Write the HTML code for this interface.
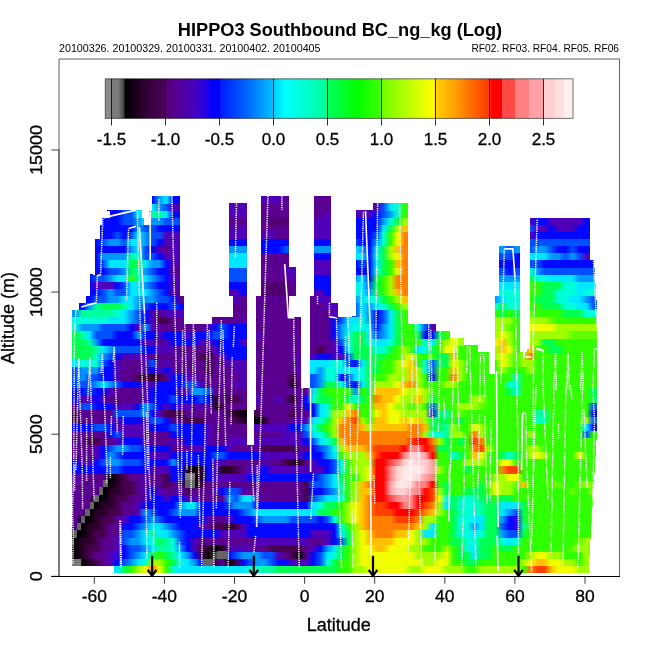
<!DOCTYPE html>
<html><head><meta charset="utf-8"><title>HIPPO3 Southbound BC_ng_kg (Log)</title>
<style>html,body{margin:0;padding:0;background:#fff;width:650px;height:650px;overflow:hidden}svg{display:block}</style>
</head><body><svg width="650" height="650" viewBox="0 0 650 650" font-family='"Liberation Sans", Arial, Helvetica, sans-serif' fill="#000"><style>text{stroke:#000;stroke-width:0.3px} text.t{stroke-width:0}</style><defs><linearGradient id="g0"><stop offset="0.0074" stop-color="#00e8ff"/><stop offset="0.0221" stop-color="#00ff50"/><stop offset="0.0368" stop-color="#30ff00"/><stop offset="0.0515" stop-color="#a0ff00"/><stop offset="0.0662" stop-color="#f0ff00"/><stop offset="0.0809" stop-color="#ff8000"/><stop offset="0.0956" stop-color="#f0ff00"/><stop offset="0.1103" stop-color="#30ff00"/><stop offset="0.1250" stop-color="#00ffd8"/><stop offset="0.1397" stop-color="#00e8ff"/><stop offset="0.1544" stop-color="#00e8ff"/><stop offset="0.1691" stop-color="#00e8ff"/><stop offset="0.1838" stop-color="#00e8ff"/><stop offset="0.1985" stop-color="#00e8ff"/><stop offset="0.2132" stop-color="#00e8ff"/><stop offset="0.2279" stop-color="#00e8ff"/><stop offset="0.2426" stop-color="#00e8ff"/><stop offset="0.2574" stop-color="#00e8ff"/><stop offset="0.2721" stop-color="#00e8ff"/><stop offset="0.2868" stop-color="#00ffd8"/><stop offset="0.3015" stop-color="#00ffd8"/><stop offset="0.3162" stop-color="#00ffa0"/><stop offset="0.3309" stop-color="#00ffa0"/><stop offset="0.3456" stop-color="#00ff50"/><stop offset="0.3603" stop-color="#00ff50"/><stop offset="0.3750" stop-color="#00ff50"/><stop offset="0.3897" stop-color="#00ff50"/><stop offset="0.4044" stop-color="#00ff50"/><stop offset="0.4191" stop-color="#00ff50"/><stop offset="0.4338" stop-color="#00ff50"/><stop offset="0.4485" stop-color="#00ff50"/><stop offset="0.4632" stop-color="#00ff50"/><stop offset="0.4779" stop-color="#30ff00"/><stop offset="0.4926" stop-color="#30ff00"/><stop offset="0.5074" stop-color="#a0ff00"/><stop offset="0.5221" stop-color="#a0ff00"/><stop offset="0.5368" stop-color="#f0ff00"/><stop offset="0.5515" stop-color="#f0ff00"/><stop offset="0.5662" stop-color="#f0ff00"/><stop offset="0.5809" stop-color="#f0ff00"/><stop offset="0.5956" stop-color="#f0ff00"/><stop offset="0.6103" stop-color="#f0ff00"/><stop offset="0.6250" stop-color="#a0ff00"/><stop offset="0.6397" stop-color="#a0ff00"/><stop offset="0.6544" stop-color="#f0ff00"/><stop offset="0.6691" stop-color="#f0ff00"/><stop offset="0.6838" stop-color="#f0ff00"/><stop offset="0.6985" stop-color="#a0ff00"/><stop offset="0.7132" stop-color="#a0ff00"/><stop offset="0.7279" stop-color="#a0ff00"/><stop offset="0.7426" stop-color="#30ff00"/><stop offset="0.7574" stop-color="#30ff00"/><stop offset="0.7721" stop-color="#a0ff00"/><stop offset="0.7868" stop-color="#a0ff00"/><stop offset="0.8015" stop-color="#a0ff00"/><stop offset="0.8162" stop-color="#a0ff00"/><stop offset="0.8309" stop-color="#a0ff00"/><stop offset="0.8456" stop-color="#a0ff00"/><stop offset="0.8603" stop-color="#30ff00"/><stop offset="0.8750" stop-color="#ff8000"/><stop offset="0.8897" stop-color="#ff4000"/><stop offset="0.9044" stop-color="#ff4000"/><stop offset="0.9191" stop-color="#ffc000"/><stop offset="0.9338" stop-color="#f0ff00"/><stop offset="0.9485" stop-color="#f0ff00"/><stop offset="0.9632" stop-color="#f0ff00"/><stop offset="0.9779" stop-color="#a0ff00"/><stop offset="0.9926" stop-color="#a0ff00"/></linearGradient><linearGradient id="g1"><stop offset="0.0067" stop-color="#7b7b7b"/><stop offset="0.0200" stop-color="#050005"/><stop offset="0.0333" stop-color="#2a0028"/><stop offset="0.0467" stop-color="#46004e"/><stop offset="0.0600" stop-color="#5a0090"/><stop offset="0.0733" stop-color="#5000b8"/><stop offset="0.0867" stop-color="#0008ff"/><stop offset="0.1000" stop-color="#0050ff"/><stop offset="0.1133" stop-color="#0098ff"/><stop offset="0.1267" stop-color="#00e8ff"/><stop offset="0.1400" stop-color="#00ffd8"/><stop offset="0.1533" stop-color="#a0ff00"/><stop offset="0.1667" stop-color="#a0ff00"/><stop offset="0.1800" stop-color="#30ff00"/><stop offset="0.1933" stop-color="#00ff50"/><stop offset="0.2067" stop-color="#00ffd8"/><stop offset="0.2200" stop-color="#00e8ff"/><stop offset="0.2333" stop-color="#0098ff"/><stop offset="0.2467" stop-color="#0008ff"/><stop offset="0.2600" stop-color="#7b7b7b"/><stop offset="0.2733" stop-color="#46004e"/><stop offset="0.2867" stop-color="#5a0090"/><stop offset="0.3000" stop-color="#050005"/><stop offset="0.3133" stop-color="#46004e"/><stop offset="0.3267" stop-color="#0008ff"/><stop offset="0.3400" stop-color="#0050ff"/><stop offset="0.3533" stop-color="#0098ff"/><stop offset="0.3667" stop-color="#0098ff"/><stop offset="0.3800" stop-color="#0050ff"/><stop offset="0.3933" stop-color="#0008ff"/><stop offset="0.4067" stop-color="#0008ff"/><stop offset="0.4200" stop-color="#5000b8"/><stop offset="0.4333" stop-color="#5000b8"/><stop offset="0.4467" stop-color="#5000b8"/><stop offset="0.4600" stop-color="#0008ff"/><stop offset="0.4733" stop-color="#0050ff"/><stop offset="0.4867" stop-color="#00ffd8"/><stop offset="0.5000" stop-color="#00ff50"/><stop offset="0.5133" stop-color="#30ff00"/><stop offset="0.5267" stop-color="#30ff00"/><stop offset="0.5400" stop-color="#a0ff00"/><stop offset="0.5533" stop-color="#f0ff00"/><stop offset="0.5667" stop-color="#f0ff00"/><stop offset="0.5800" stop-color="#f0ff00"/><stop offset="0.5933" stop-color="#f0ff00"/><stop offset="0.6067" stop-color="#f0ff00"/><stop offset="0.6200" stop-color="#f0ff00"/><stop offset="0.6333" stop-color="#f0ff00"/><stop offset="0.6467" stop-color="#f0ff00"/><stop offset="0.6600" stop-color="#f0ff00"/><stop offset="0.6733" stop-color="#a0ff00"/><stop offset="0.6867" stop-color="#a0ff00"/><stop offset="0.7000" stop-color="#f0ff00"/><stop offset="0.7133" stop-color="#f0ff00"/><stop offset="0.7267" stop-color="#30ff00"/><stop offset="0.7400" stop-color="#30ff00"/><stop offset="0.7533" stop-color="#00ff50"/><stop offset="0.7667" stop-color="#00ff50"/><stop offset="0.7800" stop-color="#30ff00"/><stop offset="0.7933" stop-color="#30ff00"/><stop offset="0.8067" stop-color="#30ff00"/><stop offset="0.8200" stop-color="#30ff00"/><stop offset="0.8333" stop-color="#30ff00"/><stop offset="0.8467" stop-color="#30ff00"/><stop offset="0.8600" stop-color="#a0ff00"/><stop offset="0.8733" stop-color="#f0ff00"/><stop offset="0.8867" stop-color="#ffc000"/><stop offset="0.9000" stop-color="#ffc000"/><stop offset="0.9133" stop-color="#f0ff00"/><stop offset="0.9267" stop-color="#f0ff00"/><stop offset="0.9400" stop-color="#a0ff00"/><stop offset="0.9533" stop-color="#a0ff00"/><stop offset="0.9667" stop-color="#30ff00"/><stop offset="0.9800" stop-color="#a0ff00"/><stop offset="0.9933" stop-color="#a0ff00"/></linearGradient><linearGradient id="g2"><stop offset="0.0067" stop-color="#050005"/><stop offset="0.0200" stop-color="#2a0028"/><stop offset="0.0333" stop-color="#46004e"/><stop offset="0.0467" stop-color="#5a0090"/><stop offset="0.0600" stop-color="#5a0090"/><stop offset="0.0733" stop-color="#5000b8"/><stop offset="0.0867" stop-color="#3000e8"/><stop offset="0.1000" stop-color="#0008ff"/><stop offset="0.1133" stop-color="#0050ff"/><stop offset="0.1267" stop-color="#0098ff"/><stop offset="0.1400" stop-color="#00e8ff"/><stop offset="0.1533" stop-color="#00ff50"/><stop offset="0.1667" stop-color="#30ff00"/><stop offset="0.1800" stop-color="#00ff50"/><stop offset="0.1933" stop-color="#00ffa0"/><stop offset="0.2067" stop-color="#00e8ff"/><stop offset="0.2200" stop-color="#0098ff"/><stop offset="0.2333" stop-color="#0008ff"/><stop offset="0.2467" stop-color="#46004e"/><stop offset="0.2600" stop-color="#050005"/><stop offset="0.2733" stop-color="#404040"/><stop offset="0.2867" stop-color="#7b7b7b"/><stop offset="0.3000" stop-color="#0008ff"/><stop offset="0.3133" stop-color="#0050ff"/><stop offset="0.3267" stop-color="#0098ff"/><stop offset="0.3400" stop-color="#0098ff"/><stop offset="0.3533" stop-color="#0098ff"/><stop offset="0.3667" stop-color="#0050ff"/><stop offset="0.3800" stop-color="#0050ff"/><stop offset="0.3933" stop-color="#5000b8"/><stop offset="0.4067" stop-color="#5a0090"/><stop offset="0.4200" stop-color="#46004e"/><stop offset="0.4333" stop-color="#050005"/><stop offset="0.4467" stop-color="#5a0090"/><stop offset="0.4600" stop-color="#0008ff"/><stop offset="0.4733" stop-color="#0050ff"/><stop offset="0.4867" stop-color="#00e8ff"/><stop offset="0.5000" stop-color="#00ffd8"/><stop offset="0.5133" stop-color="#00ff50"/><stop offset="0.5267" stop-color="#30ff00"/><stop offset="0.5400" stop-color="#a0ff00"/><stop offset="0.5533" stop-color="#f0ff00"/><stop offset="0.5667" stop-color="#f0ff00"/><stop offset="0.5800" stop-color="#f0ff00"/><stop offset="0.5933" stop-color="#f0ff00"/><stop offset="0.6067" stop-color="#f0ff00"/><stop offset="0.6200" stop-color="#f0ff00"/><stop offset="0.6333" stop-color="#f0ff00"/><stop offset="0.6467" stop-color="#f0ff00"/><stop offset="0.6600" stop-color="#a0ff00"/><stop offset="0.6733" stop-color="#a0ff00"/><stop offset="0.6867" stop-color="#a0ff00"/><stop offset="0.7000" stop-color="#a0ff00"/><stop offset="0.7133" stop-color="#f0ff00"/><stop offset="0.7267" stop-color="#30ff00"/><stop offset="0.7400" stop-color="#00ff50"/><stop offset="0.7533" stop-color="#00ff50"/><stop offset="0.7667" stop-color="#00e8ff"/><stop offset="0.7800" stop-color="#00ff50"/><stop offset="0.7933" stop-color="#00ff50"/><stop offset="0.8067" stop-color="#30ff00"/><stop offset="0.8200" stop-color="#30ff00"/><stop offset="0.8333" stop-color="#30ff00"/><stop offset="0.8467" stop-color="#30ff00"/><stop offset="0.8600" stop-color="#30ff00"/><stop offset="0.8733" stop-color="#a0ff00"/><stop offset="0.8867" stop-color="#f0ff00"/><stop offset="0.9000" stop-color="#f0ff00"/><stop offset="0.9133" stop-color="#a0ff00"/><stop offset="0.9267" stop-color="#a0ff00"/><stop offset="0.9400" stop-color="#30ff00"/><stop offset="0.9533" stop-color="#30ff00"/><stop offset="0.9667" stop-color="#30ff00"/><stop offset="0.9800" stop-color="#a0ff00"/><stop offset="0.9933" stop-color="#a0ff00"/></linearGradient><linearGradient id="g3"><stop offset="0.0067" stop-color="#050005"/><stop offset="0.0200" stop-color="#2a0028"/><stop offset="0.0333" stop-color="#46004e"/><stop offset="0.0467" stop-color="#46004e"/><stop offset="0.0600" stop-color="#5a0090"/><stop offset="0.0733" stop-color="#5a0090"/><stop offset="0.0867" stop-color="#5000b8"/><stop offset="0.1000" stop-color="#0008ff"/><stop offset="0.1133" stop-color="#0050ff"/><stop offset="0.1267" stop-color="#0050ff"/><stop offset="0.1400" stop-color="#0098ff"/><stop offset="0.1533" stop-color="#00e8ff"/><stop offset="0.1667" stop-color="#00ffa0"/><stop offset="0.1800" stop-color="#00ffa0"/><stop offset="0.1933" stop-color="#00ffd8"/><stop offset="0.2067" stop-color="#0098ff"/><stop offset="0.2200" stop-color="#0008ff"/><stop offset="0.2333" stop-color="#5000b8"/><stop offset="0.2467" stop-color="#46004e"/><stop offset="0.2600" stop-color="#2a0028"/><stop offset="0.2733" stop-color="#050005"/><stop offset="0.2867" stop-color="#2a0028"/><stop offset="0.3000" stop-color="#5000b8"/><stop offset="0.3133" stop-color="#5000b8"/><stop offset="0.3267" stop-color="#5000b8"/><stop offset="0.3400" stop-color="#5000b8"/><stop offset="0.3533" stop-color="#5a0090"/><stop offset="0.3667" stop-color="#5a0090"/><stop offset="0.3800" stop-color="#46004e"/><stop offset="0.3933" stop-color="#46004e"/><stop offset="0.4067" stop-color="#46004e"/><stop offset="0.4200" stop-color="#46004e"/><stop offset="0.4333" stop-color="#46004e"/><stop offset="0.4467" stop-color="#5a0090"/><stop offset="0.4600" stop-color="#5000b8"/><stop offset="0.4733" stop-color="#0008ff"/><stop offset="0.4867" stop-color="#0098ff"/><stop offset="0.5000" stop-color="#00e8ff"/><stop offset="0.5133" stop-color="#00ff50"/><stop offset="0.5267" stop-color="#30ff00"/><stop offset="0.5400" stop-color="#a0ff00"/><stop offset="0.5533" stop-color="#f0ff00"/><stop offset="0.5667" stop-color="#f0ff00"/><stop offset="0.5800" stop-color="#ffc000"/><stop offset="0.5933" stop-color="#ffc000"/><stop offset="0.6067" stop-color="#f0ff00"/><stop offset="0.6200" stop-color="#f0ff00"/><stop offset="0.6333" stop-color="#f0ff00"/><stop offset="0.6467" stop-color="#a0ff00"/><stop offset="0.6600" stop-color="#a0ff00"/><stop offset="0.6733" stop-color="#30ff00"/><stop offset="0.6867" stop-color="#30ff00"/><stop offset="0.7000" stop-color="#30ff00"/><stop offset="0.7133" stop-color="#a0ff00"/><stop offset="0.7267" stop-color="#30ff00"/><stop offset="0.7400" stop-color="#00ff50"/><stop offset="0.7533" stop-color="#00ffd8"/><stop offset="0.7667" stop-color="#00e8ff"/><stop offset="0.7800" stop-color="#00ff50"/><stop offset="0.7933" stop-color="#00ff50"/><stop offset="0.8067" stop-color="#30ff00"/><stop offset="0.8200" stop-color="#00ff50"/><stop offset="0.8333" stop-color="#00ff50"/><stop offset="0.8467" stop-color="#30ff00"/><stop offset="0.8600" stop-color="#30ff00"/><stop offset="0.8733" stop-color="#30ff00"/><stop offset="0.8867" stop-color="#30ff00"/><stop offset="0.9000" stop-color="#30ff00"/><stop offset="0.9133" stop-color="#30ff00"/><stop offset="0.9267" stop-color="#30ff00"/><stop offset="0.9400" stop-color="#30ff00"/><stop offset="0.9533" stop-color="#60ff00"/><stop offset="0.9667" stop-color="#a0ff00"/><stop offset="0.9800" stop-color="#a0ff00"/><stop offset="0.9933" stop-color="#a0ff00"/></linearGradient><linearGradient id="g4"><stop offset="0.0067" stop-color="#050005"/><stop offset="0.0200" stop-color="#2a0028"/><stop offset="0.0333" stop-color="#2a0028"/><stop offset="0.0467" stop-color="#46004e"/><stop offset="0.0600" stop-color="#5a0090"/><stop offset="0.0733" stop-color="#5a0090"/><stop offset="0.0867" stop-color="#5000b8"/><stop offset="0.1000" stop-color="#0050ff"/><stop offset="0.1133" stop-color="#0098ff"/><stop offset="0.1267" stop-color="#0098ff"/><stop offset="0.1400" stop-color="#00e8ff"/><stop offset="0.1533" stop-color="#00ffd8"/><stop offset="0.1667" stop-color="#00ff50"/><stop offset="0.1800" stop-color="#00ffa0"/><stop offset="0.1933" stop-color="#00ffd8"/><stop offset="0.2067" stop-color="#0050ff"/><stop offset="0.2200" stop-color="#0008ff"/><stop offset="0.2333" stop-color="#5000b8"/><stop offset="0.2467" stop-color="#5a0090"/><stop offset="0.2600" stop-color="#5a0090"/><stop offset="0.2733" stop-color="#5a0090"/><stop offset="0.2867" stop-color="#5a0090"/><stop offset="0.3000" stop-color="#5a0090"/><stop offset="0.3133" stop-color="#5a0090"/><stop offset="0.3267" stop-color="#5a0090"/><stop offset="0.3400" stop-color="#5a0090"/><stop offset="0.3533" stop-color="#5000b8"/><stop offset="0.3667" stop-color="#5000b8"/><stop offset="0.3800" stop-color="#5000b8"/><stop offset="0.3933" stop-color="#5000b8"/><stop offset="0.4067" stop-color="#5000b8"/><stop offset="0.4200" stop-color="#5000b8"/><stop offset="0.4333" stop-color="#5000b8"/><stop offset="0.4467" stop-color="#5000b8"/><stop offset="0.4600" stop-color="#5a0090"/><stop offset="0.4733" stop-color="#5a0090"/><stop offset="0.4867" stop-color="#5000b8"/><stop offset="0.5000" stop-color="#0008ff"/><stop offset="0.5133" stop-color="#0050ff"/><stop offset="0.5267" stop-color="#00ff50"/><stop offset="0.5400" stop-color="#a0ff00"/><stop offset="0.5533" stop-color="#f0ff00"/><stop offset="0.5667" stop-color="#ffc000"/><stop offset="0.5800" stop-color="#ffc000"/><stop offset="0.5933" stop-color="#ffc000"/><stop offset="0.6067" stop-color="#ffc000"/><stop offset="0.6200" stop-color="#f0ff00"/><stop offset="0.6333" stop-color="#f0ff00"/><stop offset="0.6467" stop-color="#f0ff00"/><stop offset="0.6600" stop-color="#a0ff00"/><stop offset="0.6733" stop-color="#a0ff00"/><stop offset="0.6867" stop-color="#30ff00"/><stop offset="0.7000" stop-color="#30ff00"/><stop offset="0.7133" stop-color="#30ff00"/><stop offset="0.7267" stop-color="#00ff50"/><stop offset="0.7400" stop-color="#00ff50"/><stop offset="0.7533" stop-color="#00ffd8"/><stop offset="0.7667" stop-color="#00ffd8"/><stop offset="0.7800" stop-color="#00ff50"/><stop offset="0.7933" stop-color="#00ff50"/><stop offset="0.8067" stop-color="#00ff50"/><stop offset="0.8200" stop-color="#00ffd8"/><stop offset="0.8333" stop-color="#00e8ff"/><stop offset="0.8467" stop-color="#00ffd8"/><stop offset="0.8600" stop-color="#30ff00"/><stop offset="0.8733" stop-color="#30ff00"/><stop offset="0.8867" stop-color="#30ff00"/><stop offset="0.9000" stop-color="#30ff00"/><stop offset="0.9133" stop-color="#30ff00"/><stop offset="0.9267" stop-color="#30ff00"/><stop offset="0.9400" stop-color="#30ff00"/><stop offset="0.9533" stop-color="#30ff00"/><stop offset="0.9667" stop-color="#60ff00"/><stop offset="0.9800" stop-color="#a0ff00"/><stop offset="0.9933" stop-color="#a0ff00"/></linearGradient><linearGradient id="g5"><stop offset="0.0067" stop-color="#050005"/><stop offset="0.0200" stop-color="#050005"/><stop offset="0.0333" stop-color="#2a0028"/><stop offset="0.0467" stop-color="#46004e"/><stop offset="0.0600" stop-color="#46004e"/><stop offset="0.0733" stop-color="#5a0090"/><stop offset="0.0867" stop-color="#5a0090"/><stop offset="0.1000" stop-color="#0050ff"/><stop offset="0.1133" stop-color="#0050ff"/><stop offset="0.1267" stop-color="#0098ff"/><stop offset="0.1400" stop-color="#00e8ff"/><stop offset="0.1533" stop-color="#00ffa0"/><stop offset="0.1667" stop-color="#00e8ff"/><stop offset="0.1800" stop-color="#00e8ff"/><stop offset="0.1933" stop-color="#0098ff"/><stop offset="0.2067" stop-color="#0050ff"/><stop offset="0.2200" stop-color="#0008ff"/><stop offset="0.2333" stop-color="#0008ff"/><stop offset="0.2467" stop-color="#0008ff"/><stop offset="0.2600" stop-color="#0008ff"/><stop offset="0.2733" stop-color="#0008ff"/><stop offset="0.2867" stop-color="#5000b8"/><stop offset="0.3000" stop-color="#5000b8"/><stop offset="0.3133" stop-color="#5000b8"/><stop offset="0.3267" stop-color="#5000b8"/><stop offset="0.3400" stop-color="#0008ff"/><stop offset="0.3533" stop-color="#0008ff"/><stop offset="0.3667" stop-color="#0008ff"/><stop offset="0.3800" stop-color="#0008ff"/><stop offset="0.3933" stop-color="#0008ff"/><stop offset="0.4067" stop-color="#0008ff"/><stop offset="0.4200" stop-color="#0008ff"/><stop offset="0.4333" stop-color="#0008ff"/><stop offset="0.4467" stop-color="#0008ff"/><stop offset="0.4600" stop-color="#5000b8"/><stop offset="0.4733" stop-color="#5000b8"/><stop offset="0.4867" stop-color="#5000b8"/><stop offset="0.5000" stop-color="#0008ff"/><stop offset="0.5133" stop-color="#00e8ff"/><stop offset="0.5267" stop-color="#00ff50"/><stop offset="0.5400" stop-color="#a0ff00"/><stop offset="0.5533" stop-color="#f0ff00"/><stop offset="0.5667" stop-color="#ffc000"/><stop offset="0.5800" stop-color="#ff8000"/><stop offset="0.5933" stop-color="#ff8000"/><stop offset="0.6067" stop-color="#ff8000"/><stop offset="0.6200" stop-color="#ffc000"/><stop offset="0.6333" stop-color="#ffc000"/><stop offset="0.6467" stop-color="#f0ff00"/><stop offset="0.6600" stop-color="#a0ff00"/><stop offset="0.6733" stop-color="#00e8ff"/><stop offset="0.6867" stop-color="#00e8ff"/><stop offset="0.7000" stop-color="#30ff00"/><stop offset="0.7133" stop-color="#30ff00"/><stop offset="0.7267" stop-color="#00ff50"/><stop offset="0.7400" stop-color="#00ffd8"/><stop offset="0.7533" stop-color="#00ffd8"/><stop offset="0.7667" stop-color="#00e8ff"/><stop offset="0.7800" stop-color="#00ffd8"/><stop offset="0.7933" stop-color="#00ff50"/><stop offset="0.8067" stop-color="#00ff50"/><stop offset="0.8200" stop-color="#0098ff"/><stop offset="0.8333" stop-color="#0050ff"/><stop offset="0.8467" stop-color="#0050ff"/><stop offset="0.8600" stop-color="#00ff50"/><stop offset="0.8733" stop-color="#30ff00"/><stop offset="0.8867" stop-color="#30ff00"/><stop offset="0.9000" stop-color="#30ff00"/><stop offset="0.9133" stop-color="#30ff00"/><stop offset="0.9267" stop-color="#30ff00"/><stop offset="0.9400" stop-color="#30ff00"/><stop offset="0.9533" stop-color="#30ff00"/><stop offset="0.9667" stop-color="#30ff00"/><stop offset="0.9800" stop-color="#30ff00"/><stop offset="0.9933" stop-color="#30ff00"/></linearGradient><linearGradient id="g6"><stop offset="0.0067" stop-color="#5a0090"/><stop offset="0.0200" stop-color="#050005"/><stop offset="0.0333" stop-color="#2a0028"/><stop offset="0.0467" stop-color="#2a0028"/><stop offset="0.0600" stop-color="#46004e"/><stop offset="0.0733" stop-color="#5a0090"/><stop offset="0.0867" stop-color="#5a0090"/><stop offset="0.1000" stop-color="#0008ff"/><stop offset="0.1133" stop-color="#0008ff"/><stop offset="0.1267" stop-color="#0050ff"/><stop offset="0.1400" stop-color="#0098ff"/><stop offset="0.1533" stop-color="#00e8ff"/><stop offset="0.1667" stop-color="#00e8ff"/><stop offset="0.1800" stop-color="#0098ff"/><stop offset="0.1933" stop-color="#0050ff"/><stop offset="0.2067" stop-color="#0008ff"/><stop offset="0.2200" stop-color="#0008ff"/><stop offset="0.2333" stop-color="#0008ff"/><stop offset="0.2467" stop-color="#5000b8"/><stop offset="0.2600" stop-color="#5a0090"/><stop offset="0.2733" stop-color="#46004e"/><stop offset="0.2867" stop-color="#46004e"/><stop offset="0.3000" stop-color="#2a0028"/><stop offset="0.3133" stop-color="#46004e"/><stop offset="0.3267" stop-color="#5000b8"/><stop offset="0.3400" stop-color="#0008ff"/><stop offset="0.3533" stop-color="#0008ff"/><stop offset="0.3667" stop-color="#0008ff"/><stop offset="0.3800" stop-color="#0008ff"/><stop offset="0.3933" stop-color="#0008ff"/><stop offset="0.4067" stop-color="#0008ff"/><stop offset="0.4200" stop-color="#0008ff"/><stop offset="0.4333" stop-color="#0008ff"/><stop offset="0.4467" stop-color="#0008ff"/><stop offset="0.4600" stop-color="#0008ff"/><stop offset="0.4733" stop-color="#0008ff"/><stop offset="0.4867" stop-color="#0008ff"/><stop offset="0.5000" stop-color="#0008ff"/><stop offset="0.5133" stop-color="#00ffd8"/><stop offset="0.5267" stop-color="#30ff00"/><stop offset="0.5400" stop-color="#a0ff00"/><stop offset="0.5533" stop-color="#ffc000"/><stop offset="0.5667" stop-color="#ff8000"/><stop offset="0.5800" stop-color="#ff8000"/><stop offset="0.5933" stop-color="#ff8000"/><stop offset="0.6067" stop-color="#ff8000"/><stop offset="0.6200" stop-color="#ff8000"/><stop offset="0.6333" stop-color="#ff8000"/><stop offset="0.6467" stop-color="#ff8000"/><stop offset="0.6600" stop-color="#ffc000"/><stop offset="0.6733" stop-color="#a0ff00"/><stop offset="0.6867" stop-color="#00e8ff"/><stop offset="0.7000" stop-color="#30ff00"/><stop offset="0.7133" stop-color="#30ff00"/><stop offset="0.7267" stop-color="#00ff50"/><stop offset="0.7400" stop-color="#00ffd8"/><stop offset="0.7533" stop-color="#00ffd8"/><stop offset="0.7667" stop-color="#0098ff"/><stop offset="0.7800" stop-color="#00e8ff"/><stop offset="0.7933" stop-color="#00ff50"/><stop offset="0.8067" stop-color="#00ff50"/><stop offset="0.8200" stop-color="#0050ff"/><stop offset="0.8333" stop-color="#0008ff"/><stop offset="0.8467" stop-color="#3000e8"/><stop offset="0.8600" stop-color="#00ffa0"/><stop offset="0.8733" stop-color="#30ff00"/><stop offset="0.8867" stop-color="#30ff00"/><stop offset="0.9000" stop-color="#30ff00"/><stop offset="0.9133" stop-color="#30ff00"/><stop offset="0.9267" stop-color="#30ff00"/><stop offset="0.9400" stop-color="#30ff00"/><stop offset="0.9533" stop-color="#30ff00"/><stop offset="0.9667" stop-color="#30ff00"/><stop offset="0.9800" stop-color="#30ff00"/><stop offset="0.9933" stop-color="#30ff00"/></linearGradient><linearGradient id="g7"><stop offset="0.0067" stop-color="#5a0090"/><stop offset="0.0200" stop-color="#050005"/><stop offset="0.0333" stop-color="#050005"/><stop offset="0.0467" stop-color="#2a0028"/><stop offset="0.0600" stop-color="#46004e"/><stop offset="0.0733" stop-color="#46004e"/><stop offset="0.0867" stop-color="#5a0090"/><stop offset="0.1000" stop-color="#5000b8"/><stop offset="0.1133" stop-color="#0008ff"/><stop offset="0.1267" stop-color="#0008ff"/><stop offset="0.1400" stop-color="#0050ff"/><stop offset="0.1533" stop-color="#0098ff"/><stop offset="0.1667" stop-color="#0050ff"/><stop offset="0.1800" stop-color="#0008ff"/><stop offset="0.1933" stop-color="#0008ff"/><stop offset="0.2067" stop-color="#0008ff"/><stop offset="0.2200" stop-color="#0008ff"/><stop offset="0.2333" stop-color="#0008ff"/><stop offset="0.2467" stop-color="#0008ff"/><stop offset="0.2600" stop-color="#5000b8"/><stop offset="0.2733" stop-color="#5a0090"/><stop offset="0.2867" stop-color="#5a0090"/><stop offset="0.3000" stop-color="#5000b8"/><stop offset="0.3133" stop-color="#0008ff"/><stop offset="0.3267" stop-color="#0008ff"/><stop offset="0.3400" stop-color="#0008ff"/><stop offset="0.3533" stop-color="#0050ff"/><stop offset="0.3667" stop-color="#0098ff"/><stop offset="0.3800" stop-color="#0098ff"/><stop offset="0.3933" stop-color="#0098ff"/><stop offset="0.4067" stop-color="#0098ff"/><stop offset="0.4200" stop-color="#0050ff"/><stop offset="0.4333" stop-color="#0050ff"/><stop offset="0.4467" stop-color="#0050ff"/><stop offset="0.4600" stop-color="#0050ff"/><stop offset="0.4733" stop-color="#0008ff"/><stop offset="0.4867" stop-color="#0050ff"/><stop offset="0.5000" stop-color="#00ffd8"/><stop offset="0.5133" stop-color="#30ff00"/><stop offset="0.5267" stop-color="#a0ff00"/><stop offset="0.5400" stop-color="#f0ff00"/><stop offset="0.5533" stop-color="#ffc000"/><stop offset="0.5667" stop-color="#ff8000"/><stop offset="0.5800" stop-color="#ff8000"/><stop offset="0.5933" stop-color="#ff8000"/><stop offset="0.6067" stop-color="#ff8000"/><stop offset="0.6200" stop-color="#ff4000"/><stop offset="0.6333" stop-color="#ff4000"/><stop offset="0.6467" stop-color="#ff4000"/><stop offset="0.6600" stop-color="#ff8000"/><stop offset="0.6733" stop-color="#a0ff00"/><stop offset="0.6867" stop-color="#a0ff00"/><stop offset="0.7000" stop-color="#30ff00"/><stop offset="0.7133" stop-color="#30ff00"/><stop offset="0.7267" stop-color="#00ff50"/><stop offset="0.7400" stop-color="#00ffd8"/><stop offset="0.7533" stop-color="#00ffd8"/><stop offset="0.7667" stop-color="#00e8ff"/><stop offset="0.7800" stop-color="#00e8ff"/><stop offset="0.7933" stop-color="#00ff50"/><stop offset="0.8067" stop-color="#00ff50"/><stop offset="0.8200" stop-color="#0098ff"/><stop offset="0.8333" stop-color="#0008ff"/><stop offset="0.8467" stop-color="#3000e8"/><stop offset="0.8600" stop-color="#00ff50"/><stop offset="0.8733" stop-color="#30ff00"/><stop offset="0.8867" stop-color="#30ff00"/><stop offset="0.9000" stop-color="#30ff00"/><stop offset="0.9133" stop-color="#30ff00"/><stop offset="0.9267" stop-color="#30ff00"/><stop offset="0.9400" stop-color="#30ff00"/><stop offset="0.9533" stop-color="#30ff00"/><stop offset="0.9667" stop-color="#30ff00"/><stop offset="0.9800" stop-color="#30ff00"/><stop offset="0.9933" stop-color="#30ff00"/></linearGradient><linearGradient id="g8"><stop offset="0.0067" stop-color="#5a0090"/><stop offset="0.0200" stop-color="#5a0090"/><stop offset="0.0333" stop-color="#050005"/><stop offset="0.0467" stop-color="#2a0028"/><stop offset="0.0600" stop-color="#2a0028"/><stop offset="0.0733" stop-color="#46004e"/><stop offset="0.0867" stop-color="#46004e"/><stop offset="0.1000" stop-color="#5a0090"/><stop offset="0.1133" stop-color="#5a0090"/><stop offset="0.1267" stop-color="#5000b8"/><stop offset="0.1400" stop-color="#0098ff"/><stop offset="0.1533" stop-color="#0050ff"/><stop offset="0.1667" stop-color="#0008ff"/><stop offset="0.1800" stop-color="#0008ff"/><stop offset="0.1933" stop-color="#0050ff"/><stop offset="0.2067" stop-color="#0098ff"/><stop offset="0.2200" stop-color="#0098ff"/><stop offset="0.2333" stop-color="#0098ff"/><stop offset="0.2467" stop-color="#0008ff"/><stop offset="0.2600" stop-color="#0008ff"/><stop offset="0.2733" stop-color="#0008ff"/><stop offset="0.2867" stop-color="#0008ff"/><stop offset="0.3000" stop-color="#0008ff"/><stop offset="0.3133" stop-color="#0008ff"/><stop offset="0.3267" stop-color="#0050ff"/><stop offset="0.3400" stop-color="#0098ff"/><stop offset="0.3533" stop-color="#00e8ff"/><stop offset="0.3667" stop-color="#00e8ff"/><stop offset="0.3800" stop-color="#00e8ff"/><stop offset="0.3933" stop-color="#00e8ff"/><stop offset="0.4067" stop-color="#00e8ff"/><stop offset="0.4200" stop-color="#00e8ff"/><stop offset="0.4333" stop-color="#00e8ff"/><stop offset="0.4467" stop-color="#00e8ff"/><stop offset="0.4600" stop-color="#00e8ff"/><stop offset="0.4733" stop-color="#00ff50"/><stop offset="0.4867" stop-color="#00ff50"/><stop offset="0.5000" stop-color="#30ff00"/><stop offset="0.5133" stop-color="#30ff00"/><stop offset="0.5267" stop-color="#a0ff00"/><stop offset="0.5400" stop-color="#f0ff00"/><stop offset="0.5533" stop-color="#ffc000"/><stop offset="0.5667" stop-color="#ff8000"/><stop offset="0.5800" stop-color="#ff4000"/><stop offset="0.5933" stop-color="#ff4000"/><stop offset="0.6067" stop-color="#ff4000"/><stop offset="0.6200" stop-color="#ff0000"/><stop offset="0.6333" stop-color="#ff0000"/><stop offset="0.6467" stop-color="#ff0000"/><stop offset="0.6600" stop-color="#ff4000"/><stop offset="0.6733" stop-color="#ff8000"/><stop offset="0.6867" stop-color="#ffc000"/><stop offset="0.7000" stop-color="#a0ff00"/><stop offset="0.7133" stop-color="#30ff00"/><stop offset="0.7267" stop-color="#00ff50"/><stop offset="0.7400" stop-color="#00ffa0"/><stop offset="0.7533" stop-color="#00ffd8"/><stop offset="0.7667" stop-color="#00ffd8"/><stop offset="0.7800" stop-color="#00ffa0"/><stop offset="0.7933" stop-color="#00ff50"/><stop offset="0.8067" stop-color="#00ff50"/><stop offset="0.8200" stop-color="#00e8ff"/><stop offset="0.8333" stop-color="#0098ff"/><stop offset="0.8467" stop-color="#0050ff"/><stop offset="0.8600" stop-color="#00ff50"/><stop offset="0.8733" stop-color="#30ff00"/><stop offset="0.8867" stop-color="#30ff00"/><stop offset="0.9000" stop-color="#30ff00"/><stop offset="0.9133" stop-color="#30ff00"/><stop offset="0.9267" stop-color="#30ff00"/><stop offset="0.9400" stop-color="#30ff00"/><stop offset="0.9533" stop-color="#30ff00"/><stop offset="0.9667" stop-color="#30ff00"/><stop offset="0.9800" stop-color="#30ff00"/><stop offset="0.9933" stop-color="#30ff00"/></linearGradient><linearGradient id="g9"><stop offset="0.0067" stop-color="#5a0090"/><stop offset="0.0200" stop-color="#5a0090"/><stop offset="0.0333" stop-color="#5a0090"/><stop offset="0.0467" stop-color="#050005"/><stop offset="0.0600" stop-color="#2a0028"/><stop offset="0.0733" stop-color="#2a0028"/><stop offset="0.0867" stop-color="#46004e"/><stop offset="0.1000" stop-color="#5a0090"/><stop offset="0.1133" stop-color="#5a0090"/><stop offset="0.1267" stop-color="#5000b8"/><stop offset="0.1400" stop-color="#0008ff"/><stop offset="0.1533" stop-color="#0008ff"/><stop offset="0.1667" stop-color="#0008ff"/><stop offset="0.1800" stop-color="#0008ff"/><stop offset="0.1933" stop-color="#0008ff"/><stop offset="0.2067" stop-color="#0098ff"/><stop offset="0.2200" stop-color="#00e8ff"/><stop offset="0.2333" stop-color="#00e8ff"/><stop offset="0.2467" stop-color="#0008ff"/><stop offset="0.2600" stop-color="#0008ff"/><stop offset="0.2733" stop-color="#0008ff"/><stop offset="0.2867" stop-color="#0008ff"/><stop offset="0.3000" stop-color="#0050ff"/><stop offset="0.3133" stop-color="#0098ff"/><stop offset="0.3267" stop-color="#0098ff"/><stop offset="0.3400" stop-color="#0098ff"/><stop offset="0.3533" stop-color="#0008ff"/><stop offset="0.3667" stop-color="#0008ff"/><stop offset="0.3800" stop-color="#0008ff"/><stop offset="0.3933" stop-color="#0008ff"/><stop offset="0.4067" stop-color="#0008ff"/><stop offset="0.4200" stop-color="#0008ff"/><stop offset="0.4333" stop-color="#0008ff"/><stop offset="0.4467" stop-color="#0008ff"/><stop offset="0.4600" stop-color="#00e8ff"/><stop offset="0.4733" stop-color="#00ffd8"/><stop offset="0.4867" stop-color="#00ff50"/><stop offset="0.5000" stop-color="#00ff50"/><stop offset="0.5133" stop-color="#30ff00"/><stop offset="0.5267" stop-color="#a0ff00"/><stop offset="0.5400" stop-color="#f0ff00"/><stop offset="0.5533" stop-color="#ffc000"/><stop offset="0.5667" stop-color="#ff8000"/><stop offset="0.5800" stop-color="#ff4000"/><stop offset="0.5933" stop-color="#ff4000"/><stop offset="0.6067" stop-color="#ff0000"/><stop offset="0.6200" stop-color="#ff0000"/><stop offset="0.6333" stop-color="#ff8080"/><stop offset="0.6467" stop-color="#ff8080"/><stop offset="0.6600" stop-color="#ff0000"/><stop offset="0.6733" stop-color="#ff4000"/><stop offset="0.6867" stop-color="#ff8000"/><stop offset="0.7000" stop-color="#a0ff00"/><stop offset="0.7133" stop-color="#00e8ff"/><stop offset="0.7267" stop-color="#00ff50"/><stop offset="0.7400" stop-color="#00ffd8"/><stop offset="0.7533" stop-color="#00ffd8"/><stop offset="0.7667" stop-color="#00ffd8"/><stop offset="0.7800" stop-color="#00ffa0"/><stop offset="0.7933" stop-color="#00ff50"/><stop offset="0.8067" stop-color="#00ff50"/><stop offset="0.8200" stop-color="#00e8ff"/><stop offset="0.8333" stop-color="#00e8ff"/><stop offset="0.8467" stop-color="#00e8ff"/><stop offset="0.8600" stop-color="#00ff50"/><stop offset="0.8733" stop-color="#30ff00"/><stop offset="0.8867" stop-color="#30ff00"/><stop offset="0.9000" stop-color="#30ff00"/><stop offset="0.9133" stop-color="#30ff00"/><stop offset="0.9267" stop-color="#30ff00"/><stop offset="0.9400" stop-color="#30ff00"/><stop offset="0.9533" stop-color="#30ff00"/><stop offset="0.9667" stop-color="#30ff00"/><stop offset="0.9800" stop-color="#30ff00"/><stop offset="0.9933" stop-color="#30ff00"/></linearGradient><linearGradient id="g10"><stop offset="0.0067" stop-color="#5a0090"/><stop offset="0.0200" stop-color="#5a0090"/><stop offset="0.0333" stop-color="#5a0090"/><stop offset="0.0467" stop-color="#050005"/><stop offset="0.0600" stop-color="#050005"/><stop offset="0.0733" stop-color="#2a0028"/><stop offset="0.0867" stop-color="#46004e"/><stop offset="0.1000" stop-color="#46004e"/><stop offset="0.1133" stop-color="#5a0090"/><stop offset="0.1267" stop-color="#5a0090"/><stop offset="0.1400" stop-color="#5000b8"/><stop offset="0.1533" stop-color="#0008ff"/><stop offset="0.1667" stop-color="#0008ff"/><stop offset="0.1800" stop-color="#5000b8"/><stop offset="0.1933" stop-color="#0008ff"/><stop offset="0.2067" stop-color="#0008ff"/><stop offset="0.2200" stop-color="#5000b8"/><stop offset="0.2333" stop-color="#5000b8"/><stop offset="0.2467" stop-color="#5a0090"/><stop offset="0.2600" stop-color="#5a0090"/><stop offset="0.2733" stop-color="#5a0090"/><stop offset="0.2867" stop-color="#5a0090"/><stop offset="0.3000" stop-color="#0098ff"/><stop offset="0.3133" stop-color="#0050ff"/><stop offset="0.3267" stop-color="#00e8ff"/><stop offset="0.3400" stop-color="#00e8ff"/><stop offset="0.3533" stop-color="#5000b8"/><stop offset="0.3667" stop-color="#5a0090"/><stop offset="0.3800" stop-color="#5a0090"/><stop offset="0.3933" stop-color="#5a0090"/><stop offset="0.4067" stop-color="#5a0090"/><stop offset="0.4200" stop-color="#5a0090"/><stop offset="0.4333" stop-color="#5a0090"/><stop offset="0.4467" stop-color="#46004e"/><stop offset="0.4600" stop-color="#0050ff"/><stop offset="0.4733" stop-color="#0098ff"/><stop offset="0.4867" stop-color="#00e8ff"/><stop offset="0.5000" stop-color="#00e8ff"/><stop offset="0.5133" stop-color="#00ffd8"/><stop offset="0.5267" stop-color="#30ff00"/><stop offset="0.5400" stop-color="#a0ff00"/><stop offset="0.5533" stop-color="#ffc000"/><stop offset="0.5667" stop-color="#ff8000"/><stop offset="0.5800" stop-color="#ff0000"/><stop offset="0.5933" stop-color="#ff0000"/><stop offset="0.6067" stop-color="#ff4848"/><stop offset="0.6200" stop-color="#ff8080"/><stop offset="0.6333" stop-color="#ffa0a8"/><stop offset="0.6467" stop-color="#ff8080"/><stop offset="0.6600" stop-color="#ff0000"/><stop offset="0.6733" stop-color="#ff0000"/><stop offset="0.6867" stop-color="#ff4000"/><stop offset="0.7000" stop-color="#f0ff00"/><stop offset="0.7133" stop-color="#00ffd8"/><stop offset="0.7267" stop-color="#00ff50"/><stop offset="0.7400" stop-color="#00ffa0"/><stop offset="0.7533" stop-color="#00ffd8"/><stop offset="0.7667" stop-color="#00ffa0"/><stop offset="0.7800" stop-color="#00ff50"/><stop offset="0.7933" stop-color="#00ff50"/><stop offset="0.8067" stop-color="#30ff00"/><stop offset="0.8200" stop-color="#00ff50"/><stop offset="0.8333" stop-color="#00ff50"/><stop offset="0.8467" stop-color="#30ff00"/><stop offset="0.8600" stop-color="#30ff00"/><stop offset="0.8733" stop-color="#30ff00"/><stop offset="0.8867" stop-color="#30ff00"/><stop offset="0.9000" stop-color="#30ff00"/><stop offset="0.9133" stop-color="#30ff00"/><stop offset="0.9267" stop-color="#30ff00"/><stop offset="0.9400" stop-color="#30ff00"/><stop offset="0.9533" stop-color="#30ff00"/><stop offset="0.9667" stop-color="#30ff00"/><stop offset="0.9800" stop-color="#30ff00"/><stop offset="0.9933" stop-color="#30ff00"/></linearGradient><linearGradient id="g11"><stop offset="0.0067" stop-color="#5a0090"/><stop offset="0.0200" stop-color="#5a0090"/><stop offset="0.0333" stop-color="#5a0090"/><stop offset="0.0467" stop-color="#5a0090"/><stop offset="0.0600" stop-color="#050005"/><stop offset="0.0733" stop-color="#2a0028"/><stop offset="0.0867" stop-color="#2a0028"/><stop offset="0.1000" stop-color="#46004e"/><stop offset="0.1133" stop-color="#46004e"/><stop offset="0.1267" stop-color="#5a0090"/><stop offset="0.1400" stop-color="#5000b8"/><stop offset="0.1533" stop-color="#0008ff"/><stop offset="0.1667" stop-color="#5000b8"/><stop offset="0.1800" stop-color="#5a0090"/><stop offset="0.1933" stop-color="#5a0090"/><stop offset="0.2067" stop-color="#5000b8"/><stop offset="0.2200" stop-color="#46004e"/><stop offset="0.2333" stop-color="#5a0090"/><stop offset="0.2467" stop-color="#5a0090"/><stop offset="0.2600" stop-color="#5a0090"/><stop offset="0.2733" stop-color="#5000b8"/><stop offset="0.2867" stop-color="#0008ff"/><stop offset="0.3000" stop-color="#0050ff"/><stop offset="0.3133" stop-color="#0050ff"/><stop offset="0.3267" stop-color="#5000b8"/><stop offset="0.3400" stop-color="#5a0090"/><stop offset="0.3533" stop-color="#5a0090"/><stop offset="0.3667" stop-color="#5a0090"/><stop offset="0.3800" stop-color="#5a0090"/><stop offset="0.3933" stop-color="#5a0090"/><stop offset="0.4067" stop-color="#5a0090"/><stop offset="0.4200" stop-color="#5a0090"/><stop offset="0.4333" stop-color="#5a0090"/><stop offset="0.4467" stop-color="#46004e"/><stop offset="0.4600" stop-color="#0008ff"/><stop offset="0.4733" stop-color="#0008ff"/><stop offset="0.4867" stop-color="#0050ff"/><stop offset="0.5000" stop-color="#0098ff"/><stop offset="0.5133" stop-color="#00ffa0"/><stop offset="0.5267" stop-color="#30ff00"/><stop offset="0.5400" stop-color="#a0ff00"/><stop offset="0.5533" stop-color="#ffc000"/><stop offset="0.5667" stop-color="#ffc000"/><stop offset="0.5800" stop-color="#ff0000"/><stop offset="0.5933" stop-color="#ff0000"/><stop offset="0.6067" stop-color="#ffa0a8"/><stop offset="0.6200" stop-color="#ffd0d0"/><stop offset="0.6333" stop-color="#ffd0d0"/><stop offset="0.6467" stop-color="#ffa0a8"/><stop offset="0.6600" stop-color="#ff8080"/><stop offset="0.6733" stop-color="#ff0000"/><stop offset="0.6867" stop-color="#ff4000"/><stop offset="0.7000" stop-color="#a0ff00"/><stop offset="0.7133" stop-color="#00ff50"/><stop offset="0.7267" stop-color="#30ff00"/><stop offset="0.7400" stop-color="#30ff00"/><stop offset="0.7533" stop-color="#00ff50"/><stop offset="0.7667" stop-color="#00ff50"/><stop offset="0.7800" stop-color="#00ff50"/><stop offset="0.7933" stop-color="#30ff00"/><stop offset="0.8067" stop-color="#f0ff00"/><stop offset="0.8200" stop-color="#a0ff00"/><stop offset="0.8333" stop-color="#a0ff00"/><stop offset="0.8467" stop-color="#30ff00"/><stop offset="0.8600" stop-color="#30ff00"/><stop offset="0.8733" stop-color="#30ff00"/><stop offset="0.8867" stop-color="#30ff00"/><stop offset="0.9000" stop-color="#30ff00"/><stop offset="0.9133" stop-color="#30ff00"/><stop offset="0.9267" stop-color="#30ff00"/><stop offset="0.9400" stop-color="#30ff00"/><stop offset="0.9533" stop-color="#60ff00"/><stop offset="0.9667" stop-color="#30ff00"/><stop offset="0.9800" stop-color="#30ff00"/><stop offset="0.9933" stop-color="#a0ff00"/></linearGradient><linearGradient id="g12"><stop offset="0.0067" stop-color="#5a0090"/><stop offset="0.0200" stop-color="#5a0090"/><stop offset="0.0333" stop-color="#5a0090"/><stop offset="0.0467" stop-color="#5a0090"/><stop offset="0.0600" stop-color="#5a0090"/><stop offset="0.0733" stop-color="#050005"/><stop offset="0.0867" stop-color="#2a0028"/><stop offset="0.1000" stop-color="#46004e"/><stop offset="0.1133" stop-color="#46004e"/><stop offset="0.1267" stop-color="#5a0090"/><stop offset="0.1400" stop-color="#5000b8"/><stop offset="0.1533" stop-color="#5a0090"/><stop offset="0.1667" stop-color="#5a0090"/><stop offset="0.1800" stop-color="#46004e"/><stop offset="0.1933" stop-color="#5a0090"/><stop offset="0.2067" stop-color="#5a0090"/><stop offset="0.2200" stop-color="#050005"/><stop offset="0.2333" stop-color="#050005"/><stop offset="0.2467" stop-color="#46004e"/><stop offset="0.2600" stop-color="#5a0090"/><stop offset="0.2733" stop-color="#5a0090"/><stop offset="0.2867" stop-color="#5a0090"/><stop offset="0.3000" stop-color="#5a0090"/><stop offset="0.3133" stop-color="#5a0090"/><stop offset="0.3267" stop-color="#5a0090"/><stop offset="0.3400" stop-color="#5a0090"/><stop offset="0.3533" stop-color="#5a0090"/><stop offset="0.3667" stop-color="#5a0090"/><stop offset="0.3800" stop-color="#5a0090"/><stop offset="0.3933" stop-color="#5a0090"/><stop offset="0.4067" stop-color="#5a0090"/><stop offset="0.4200" stop-color="#5a0090"/><stop offset="0.4333" stop-color="#5a0090"/><stop offset="0.4467" stop-color="#46004e"/><stop offset="0.4600" stop-color="#0050ff"/><stop offset="0.4733" stop-color="#0050ff"/><stop offset="0.4867" stop-color="#0098ff"/><stop offset="0.5000" stop-color="#00e8ff"/><stop offset="0.5133" stop-color="#00ffa0"/><stop offset="0.5267" stop-color="#30ff00"/><stop offset="0.5400" stop-color="#a0ff00"/><stop offset="0.5533" stop-color="#ffc000"/><stop offset="0.5667" stop-color="#ff8000"/><stop offset="0.5800" stop-color="#ff0000"/><stop offset="0.5933" stop-color="#ff0000"/><stop offset="0.6067" stop-color="#ffa0a8"/><stop offset="0.6200" stop-color="#ffe8e8"/><stop offset="0.6333" stop-color="#ffe8e8"/><stop offset="0.6467" stop-color="#ffd0d0"/><stop offset="0.6600" stop-color="#ff8080"/><stop offset="0.6733" stop-color="#ff8080"/><stop offset="0.6867" stop-color="#ff0000"/><stop offset="0.7000" stop-color="#30ff00"/><stop offset="0.7133" stop-color="#00ff50"/><stop offset="0.7267" stop-color="#30ff00"/><stop offset="0.7400" stop-color="#30ff00"/><stop offset="0.7533" stop-color="#30ff00"/><stop offset="0.7667" stop-color="#30ff00"/><stop offset="0.7800" stop-color="#00ff50"/><stop offset="0.7933" stop-color="#60ff00"/><stop offset="0.8067" stop-color="#f0ff00"/><stop offset="0.8200" stop-color="#a0ff00"/><stop offset="0.8333" stop-color="#a0ff00"/><stop offset="0.8467" stop-color="#60ff00"/><stop offset="0.8600" stop-color="#ffc000"/><stop offset="0.8733" stop-color="#30ff00"/><stop offset="0.8867" stop-color="#30ff00"/><stop offset="0.9000" stop-color="#30ff00"/><stop offset="0.9133" stop-color="#60ff00"/><stop offset="0.9267" stop-color="#60ff00"/><stop offset="0.9400" stop-color="#30ff00"/><stop offset="0.9533" stop-color="#30ff00"/><stop offset="0.9667" stop-color="#60ff00"/><stop offset="0.9800" stop-color="#a0ff00"/><stop offset="0.9933" stop-color="#60ff00"/></linearGradient><linearGradient id="g13"><stop offset="0.0067" stop-color="#5000b8"/><stop offset="0.0200" stop-color="#5a0090"/><stop offset="0.0333" stop-color="#5a0090"/><stop offset="0.0467" stop-color="#5a0090"/><stop offset="0.0600" stop-color="#5a0090"/><stop offset="0.0733" stop-color="#050005"/><stop offset="0.0867" stop-color="#2a0028"/><stop offset="0.1000" stop-color="#46004e"/><stop offset="0.1133" stop-color="#5a0090"/><stop offset="0.1267" stop-color="#5a0090"/><stop offset="0.1400" stop-color="#5000b8"/><stop offset="0.1533" stop-color="#5a0090"/><stop offset="0.1667" stop-color="#5a0090"/><stop offset="0.1800" stop-color="#46004e"/><stop offset="0.1933" stop-color="#0008ff"/><stop offset="0.2067" stop-color="#0008ff"/><stop offset="0.2200" stop-color="#050005"/><stop offset="0.2333" stop-color="#050005"/><stop offset="0.2467" stop-color="#2a0028"/><stop offset="0.2600" stop-color="#0008ff"/><stop offset="0.2733" stop-color="#5000b8"/><stop offset="0.2867" stop-color="#5000b8"/><stop offset="0.3000" stop-color="#5000b8"/><stop offset="0.3133" stop-color="#5000b8"/><stop offset="0.3267" stop-color="#5000b8"/><stop offset="0.3400" stop-color="#0008ff"/><stop offset="0.3533" stop-color="#0008ff"/><stop offset="0.3667" stop-color="#0008ff"/><stop offset="0.3800" stop-color="#0008ff"/><stop offset="0.3933" stop-color="#0008ff"/><stop offset="0.4067" stop-color="#0008ff"/><stop offset="0.4200" stop-color="#0008ff"/><stop offset="0.4333" stop-color="#0008ff"/><stop offset="0.4467" stop-color="#0008ff"/><stop offset="0.4600" stop-color="#0008ff"/><stop offset="0.4733" stop-color="#0050ff"/><stop offset="0.4867" stop-color="#0098ff"/><stop offset="0.5000" stop-color="#00e8ff"/><stop offset="0.5133" stop-color="#00ff50"/><stop offset="0.5267" stop-color="#30ff00"/><stop offset="0.5400" stop-color="#30ff00"/><stop offset="0.5533" stop-color="#a0ff00"/><stop offset="0.5667" stop-color="#f0ff00"/><stop offset="0.5800" stop-color="#ff0000"/><stop offset="0.5933" stop-color="#ff0000"/><stop offset="0.6067" stop-color="#ff8080"/><stop offset="0.6200" stop-color="#ffd0d0"/><stop offset="0.6333" stop-color="#ffe8e8"/><stop offset="0.6467" stop-color="#ffe8e8"/><stop offset="0.6600" stop-color="#ffd0d0"/><stop offset="0.6733" stop-color="#ffa0a8"/><stop offset="0.6867" stop-color="#ff8080"/><stop offset="0.7000" stop-color="#30ff00"/><stop offset="0.7133" stop-color="#30ff00"/><stop offset="0.7267" stop-color="#30ff00"/><stop offset="0.7400" stop-color="#30ff00"/><stop offset="0.7533" stop-color="#30ff00"/><stop offset="0.7667" stop-color="#30ff00"/><stop offset="0.7800" stop-color="#30ff00"/><stop offset="0.7933" stop-color="#30ff00"/><stop offset="0.8067" stop-color="#a0ff00"/><stop offset="0.8200" stop-color="#a0ff00"/><stop offset="0.8333" stop-color="#f0ff00"/><stop offset="0.8467" stop-color="#f0ff00"/><stop offset="0.8600" stop-color="#30ff00"/><stop offset="0.8733" stop-color="#30ff00"/><stop offset="0.8867" stop-color="#30ff00"/><stop offset="0.9000" stop-color="#30ff00"/><stop offset="0.9133" stop-color="#30ff00"/><stop offset="0.9267" stop-color="#30ff00"/><stop offset="0.9400" stop-color="#30ff00"/><stop offset="0.9533" stop-color="#30ff00"/><stop offset="0.9667" stop-color="#30ff00"/><stop offset="0.9800" stop-color="#30ff00"/><stop offset="0.9933" stop-color="#30ff00"/></linearGradient><linearGradient id="g14"><stop offset="0.0067" stop-color="#0008ff"/><stop offset="0.0200" stop-color="#0008ff"/><stop offset="0.0333" stop-color="#0008ff"/><stop offset="0.0467" stop-color="#0008ff"/><stop offset="0.0600" stop-color="#0008ff"/><stop offset="0.0733" stop-color="#0050ff"/><stop offset="0.0867" stop-color="#0050ff"/><stop offset="0.1000" stop-color="#0008ff"/><stop offset="0.1133" stop-color="#0008ff"/><stop offset="0.1267" stop-color="#0008ff"/><stop offset="0.1400" stop-color="#0008ff"/><stop offset="0.1533" stop-color="#5000b8"/><stop offset="0.1667" stop-color="#5000b8"/><stop offset="0.1800" stop-color="#5000b8"/><stop offset="0.1933" stop-color="#0008ff"/><stop offset="0.2067" stop-color="#0008ff"/><stop offset="0.2200" stop-color="#2a0028"/><stop offset="0.2333" stop-color="#050005"/><stop offset="0.2467" stop-color="#2a0028"/><stop offset="0.2600" stop-color="#0008ff"/><stop offset="0.2733" stop-color="#5000b8"/><stop offset="0.2867" stop-color="#2a0028"/><stop offset="0.3000" stop-color="#2a0028"/><stop offset="0.3133" stop-color="#46004e"/><stop offset="0.3267" stop-color="#5a0090"/><stop offset="0.3400" stop-color="#5000b8"/><stop offset="0.3533" stop-color="#5000b8"/><stop offset="0.3667" stop-color="#0008ff"/><stop offset="0.3800" stop-color="#5000b8"/><stop offset="0.3933" stop-color="#5000b8"/><stop offset="0.4067" stop-color="#5000b8"/><stop offset="0.4200" stop-color="#5000b8"/><stop offset="0.4333" stop-color="#5000b8"/><stop offset="0.4467" stop-color="#5000b8"/><stop offset="0.4600" stop-color="#5000b8"/><stop offset="0.4733" stop-color="#5000b8"/><stop offset="0.4867" stop-color="#0008ff"/><stop offset="0.5000" stop-color="#0050ff"/><stop offset="0.5133" stop-color="#00ffd8"/><stop offset="0.5267" stop-color="#30ff00"/><stop offset="0.5400" stop-color="#a0ff00"/><stop offset="0.5533" stop-color="#a0ff00"/><stop offset="0.5667" stop-color="#f0ff00"/><stop offset="0.5800" stop-color="#ff0000"/><stop offset="0.5933" stop-color="#ff0000"/><stop offset="0.6067" stop-color="#ff8080"/><stop offset="0.6200" stop-color="#ffd0d0"/><stop offset="0.6333" stop-color="#ffe8e8"/><stop offset="0.6467" stop-color="#ffe8e8"/><stop offset="0.6600" stop-color="#ffe8e8"/><stop offset="0.6733" stop-color="#ffd0d0"/><stop offset="0.6867" stop-color="#ffa0a8"/><stop offset="0.7000" stop-color="#a0ff00"/><stop offset="0.7133" stop-color="#30ff00"/><stop offset="0.7267" stop-color="#30ff00"/><stop offset="0.7400" stop-color="#30ff00"/><stop offset="0.7533" stop-color="#00ff50"/><stop offset="0.7667" stop-color="#30ff00"/><stop offset="0.7800" stop-color="#30ff00"/><stop offset="0.7933" stop-color="#30ff00"/><stop offset="0.8067" stop-color="#30ff00"/><stop offset="0.8200" stop-color="#ff8000"/><stop offset="0.8333" stop-color="#ff4000"/><stop offset="0.8467" stop-color="#ff4000"/><stop offset="0.8600" stop-color="#30ff00"/><stop offset="0.8733" stop-color="#30ff00"/><stop offset="0.8867" stop-color="#30ff00"/><stop offset="0.9000" stop-color="#30ff00"/><stop offset="0.9133" stop-color="#30ff00"/><stop offset="0.9267" stop-color="#30ff00"/><stop offset="0.9400" stop-color="#30ff00"/><stop offset="0.9533" stop-color="#30ff00"/><stop offset="0.9667" stop-color="#30ff00"/><stop offset="0.9800" stop-color="#30ff00"/><stop offset="0.9933" stop-color="#30ff00"/></linearGradient><linearGradient id="g15"><stop offset="0.0067" stop-color="#0008ff"/><stop offset="0.0200" stop-color="#5000b8"/><stop offset="0.0333" stop-color="#5000b8"/><stop offset="0.0467" stop-color="#0008ff"/><stop offset="0.0600" stop-color="#0050ff"/><stop offset="0.0733" stop-color="#0098ff"/><stop offset="0.0867" stop-color="#0098ff"/><stop offset="0.1000" stop-color="#0050ff"/><stop offset="0.1133" stop-color="#0050ff"/><stop offset="0.1267" stop-color="#0050ff"/><stop offset="0.1400" stop-color="#0008ff"/><stop offset="0.1533" stop-color="#0008ff"/><stop offset="0.1667" stop-color="#0008ff"/><stop offset="0.1800" stop-color="#0008ff"/><stop offset="0.1933" stop-color="#0098ff"/><stop offset="0.2067" stop-color="#0008ff"/><stop offset="0.2200" stop-color="#0008ff"/><stop offset="0.2333" stop-color="#0008ff"/><stop offset="0.2467" stop-color="#0008ff"/><stop offset="0.2600" stop-color="#0008ff"/><stop offset="0.2733" stop-color="#5000b8"/><stop offset="0.2867" stop-color="#5000b8"/><stop offset="0.3000" stop-color="#5a0090"/><stop offset="0.3133" stop-color="#5a0090"/><stop offset="0.3267" stop-color="#5a0090"/><stop offset="0.3400" stop-color="#5a0090"/><stop offset="0.3533" stop-color="#5a0090"/><stop offset="0.3667" stop-color="#5000b8"/><stop offset="0.3800" stop-color="#5a0090"/><stop offset="0.3933" stop-color="#5a0090"/><stop offset="0.4067" stop-color="#46004e"/><stop offset="0.4200" stop-color="#2a0028"/><stop offset="0.4333" stop-color="#2a0028"/><stop offset="0.4467" stop-color="#5a0090"/><stop offset="0.4600" stop-color="#5000b8"/><stop offset="0.4733" stop-color="#0008ff"/><stop offset="0.4867" stop-color="#0008ff"/><stop offset="0.5000" stop-color="#0050ff"/><stop offset="0.5133" stop-color="#00ffd8"/><stop offset="0.5267" stop-color="#30ff00"/><stop offset="0.5400" stop-color="#a0ff00"/><stop offset="0.5533" stop-color="#a0ff00"/><stop offset="0.5667" stop-color="#a0ff00"/><stop offset="0.5800" stop-color="#ff0000"/><stop offset="0.5933" stop-color="#ff0000"/><stop offset="0.6067" stop-color="#ff4848"/><stop offset="0.6200" stop-color="#ff8080"/><stop offset="0.6333" stop-color="#ffd0d0"/><stop offset="0.6467" stop-color="#ffe8e8"/><stop offset="0.6600" stop-color="#ffd0d0"/><stop offset="0.6733" stop-color="#ffd0d0"/><stop offset="0.6867" stop-color="#ffa0a8"/><stop offset="0.7000" stop-color="#30ff00"/><stop offset="0.7133" stop-color="#30ff00"/><stop offset="0.7267" stop-color="#30ff00"/><stop offset="0.7400" stop-color="#30ff00"/><stop offset="0.7533" stop-color="#a0ff00"/><stop offset="0.7667" stop-color="#a0ff00"/><stop offset="0.7800" stop-color="#a0ff00"/><stop offset="0.7933" stop-color="#30ff00"/><stop offset="0.8067" stop-color="#30ff00"/><stop offset="0.8200" stop-color="#f0ff00"/><stop offset="0.8333" stop-color="#f0ff00"/><stop offset="0.8467" stop-color="#30ff00"/><stop offset="0.8600" stop-color="#30ff00"/><stop offset="0.8733" stop-color="#30ff00"/><stop offset="0.8867" stop-color="#30ff00"/><stop offset="0.9000" stop-color="#30ff00"/><stop offset="0.9133" stop-color="#30ff00"/><stop offset="0.9267" stop-color="#30ff00"/><stop offset="0.9400" stop-color="#30ff00"/><stop offset="0.9533" stop-color="#30ff00"/><stop offset="0.9667" stop-color="#30ff00"/><stop offset="0.9800" stop-color="#30ff00"/><stop offset="0.9933" stop-color="#30ff00"/></linearGradient><linearGradient id="g16"><stop offset="0.0067" stop-color="#5a0090"/><stop offset="0.0200" stop-color="#5a0090"/><stop offset="0.0333" stop-color="#5a0090"/><stop offset="0.0467" stop-color="#5000b8"/><stop offset="0.0600" stop-color="#0008ff"/><stop offset="0.0733" stop-color="#0098ff"/><stop offset="0.0867" stop-color="#0050ff"/><stop offset="0.1000" stop-color="#0008ff"/><stop offset="0.1133" stop-color="#0008ff"/><stop offset="0.1267" stop-color="#0008ff"/><stop offset="0.1400" stop-color="#0008ff"/><stop offset="0.1533" stop-color="#5000b8"/><stop offset="0.1667" stop-color="#5000b8"/><stop offset="0.1800" stop-color="#5000b8"/><stop offset="0.1933" stop-color="#0008ff"/><stop offset="0.2067" stop-color="#0008ff"/><stop offset="0.2200" stop-color="#0008ff"/><stop offset="0.2333" stop-color="#0008ff"/><stop offset="0.2467" stop-color="#0008ff"/><stop offset="0.2600" stop-color="#0008ff"/><stop offset="0.2733" stop-color="#0050ff"/><stop offset="0.2867" stop-color="#0050ff"/><stop offset="0.3000" stop-color="#0008ff"/><stop offset="0.3133" stop-color="#0008ff"/><stop offset="0.3267" stop-color="#0008ff"/><stop offset="0.3400" stop-color="#0008ff"/><stop offset="0.3533" stop-color="#0008ff"/><stop offset="0.3667" stop-color="#5000b8"/><stop offset="0.3800" stop-color="#5000b8"/><stop offset="0.3933" stop-color="#5000b8"/><stop offset="0.4067" stop-color="#5000b8"/><stop offset="0.4200" stop-color="#5000b8"/><stop offset="0.4333" stop-color="#5000b8"/><stop offset="0.4467" stop-color="#0008ff"/><stop offset="0.4600" stop-color="#0008ff"/><stop offset="0.4733" stop-color="#0008ff"/><stop offset="0.4867" stop-color="#0098ff"/><stop offset="0.5000" stop-color="#00e8ff"/><stop offset="0.5133" stop-color="#30ff00"/><stop offset="0.5267" stop-color="#a0ff00"/><stop offset="0.5400" stop-color="#a0ff00"/><stop offset="0.5533" stop-color="#a0ff00"/><stop offset="0.5667" stop-color="#ffc000"/><stop offset="0.5800" stop-color="#ff4000"/><stop offset="0.5933" stop-color="#ff0000"/><stop offset="0.6067" stop-color="#ff0000"/><stop offset="0.6200" stop-color="#ff0000"/><stop offset="0.6333" stop-color="#ff8080"/><stop offset="0.6467" stop-color="#ffd0d0"/><stop offset="0.6600" stop-color="#ffd0d0"/><stop offset="0.6733" stop-color="#ffa0a8"/><stop offset="0.6867" stop-color="#ff0000"/><stop offset="0.7000" stop-color="#30ff00"/><stop offset="0.7133" stop-color="#30ff00"/><stop offset="0.7267" stop-color="#00ffd8"/><stop offset="0.7400" stop-color="#00ff50"/><stop offset="0.7533" stop-color="#30ff00"/><stop offset="0.7667" stop-color="#ffc000"/><stop offset="0.7800" stop-color="#f0ff00"/><stop offset="0.7933" stop-color="#30ff00"/><stop offset="0.8067" stop-color="#30ff00"/><stop offset="0.8200" stop-color="#00ff50"/><stop offset="0.8333" stop-color="#00ffd8"/><stop offset="0.8467" stop-color="#00ff50"/><stop offset="0.8600" stop-color="#30ff00"/><stop offset="0.8733" stop-color="#a0ff00"/><stop offset="0.8867" stop-color="#f0ff00"/><stop offset="0.9000" stop-color="#a0ff00"/><stop offset="0.9133" stop-color="#30ff00"/><stop offset="0.9267" stop-color="#30ff00"/><stop offset="0.9400" stop-color="#30ff00"/><stop offset="0.9533" stop-color="#30ff00"/><stop offset="0.9667" stop-color="#f0ff00"/><stop offset="0.9800" stop-color="#30ff00"/><stop offset="0.9933" stop-color="#30ff00"/></linearGradient><linearGradient id="g17"><stop offset="0.0067" stop-color="#5a0090"/><stop offset="0.0200" stop-color="#5a0090"/><stop offset="0.0333" stop-color="#5a0090"/><stop offset="0.0467" stop-color="#5000b8"/><stop offset="0.0600" stop-color="#0008ff"/><stop offset="0.0733" stop-color="#0050ff"/><stop offset="0.0867" stop-color="#0098ff"/><stop offset="0.1000" stop-color="#0098ff"/><stop offset="0.1133" stop-color="#0050ff"/><stop offset="0.1267" stop-color="#0050ff"/><stop offset="0.1400" stop-color="#0008ff"/><stop offset="0.1533" stop-color="#0008ff"/><stop offset="0.1667" stop-color="#0008ff"/><stop offset="0.1800" stop-color="#0008ff"/><stop offset="0.1933" stop-color="#5a0090"/><stop offset="0.2067" stop-color="#5a0090"/><stop offset="0.2200" stop-color="#5a0090"/><stop offset="0.2333" stop-color="#5000b8"/><stop offset="0.2467" stop-color="#5000b8"/><stop offset="0.2600" stop-color="#0008ff"/><stop offset="0.2733" stop-color="#0008ff"/><stop offset="0.2867" stop-color="#0008ff"/><stop offset="0.3000" stop-color="#5000b8"/><stop offset="0.3133" stop-color="#5a0090"/><stop offset="0.3267" stop-color="#5a0090"/><stop offset="0.3400" stop-color="#5a0090"/><stop offset="0.3533" stop-color="#5a0090"/><stop offset="0.3667" stop-color="#46004e"/><stop offset="0.3800" stop-color="#46004e"/><stop offset="0.3933" stop-color="#46004e"/><stop offset="0.4067" stop-color="#46004e"/><stop offset="0.4200" stop-color="#46004e"/><stop offset="0.4333" stop-color="#5a0090"/><stop offset="0.4467" stop-color="#5a0090"/><stop offset="0.4600" stop-color="#0008ff"/><stop offset="0.4733" stop-color="#0050ff"/><stop offset="0.4867" stop-color="#0098ff"/><stop offset="0.5000" stop-color="#00ffd8"/><stop offset="0.5133" stop-color="#a0ff00"/><stop offset="0.5267" stop-color="#ffc000"/><stop offset="0.5400" stop-color="#ffc000"/><stop offset="0.5533" stop-color="#ffc000"/><stop offset="0.5667" stop-color="#ff8000"/><stop offset="0.5800" stop-color="#ff4000"/><stop offset="0.5933" stop-color="#ff4000"/><stop offset="0.6067" stop-color="#ff4000"/><stop offset="0.6200" stop-color="#ff4000"/><stop offset="0.6333" stop-color="#ff0000"/><stop offset="0.6467" stop-color="#ff8080"/><stop offset="0.6600" stop-color="#ff8080"/><stop offset="0.6733" stop-color="#ff0000"/><stop offset="0.6867" stop-color="#ff4000"/><stop offset="0.7000" stop-color="#00ff50"/><stop offset="0.7133" stop-color="#00ff50"/><stop offset="0.7267" stop-color="#30ff00"/><stop offset="0.7400" stop-color="#30ff00"/><stop offset="0.7533" stop-color="#30ff00"/><stop offset="0.7667" stop-color="#ff8000"/><stop offset="0.7800" stop-color="#ff4000"/><stop offset="0.7933" stop-color="#a0ff00"/><stop offset="0.8067" stop-color="#30ff00"/><stop offset="0.8200" stop-color="#30ff00"/><stop offset="0.8333" stop-color="#30ff00"/><stop offset="0.8467" stop-color="#30ff00"/><stop offset="0.8600" stop-color="#30ff00"/><stop offset="0.8733" stop-color="#a0ff00"/><stop offset="0.8867" stop-color="#a0ff00"/><stop offset="0.9000" stop-color="#30ff00"/><stop offset="0.9133" stop-color="#30ff00"/><stop offset="0.9267" stop-color="#30ff00"/><stop offset="0.9400" stop-color="#30ff00"/><stop offset="0.9533" stop-color="#30ff00"/><stop offset="0.9667" stop-color="#30ff00"/><stop offset="0.9800" stop-color="#30ff00"/><stop offset="0.9933" stop-color="#30ff00"/></linearGradient><linearGradient id="g18"><stop offset="0.0200" stop-color="#5a0090"/><stop offset="0.0600" stop-color="#5a0090"/><stop offset="0.1000" stop-color="#46004e"/><stop offset="0.1400" stop-color="#46004e"/><stop offset="0.1800" stop-color="#5a0090"/><stop offset="0.2200" stop-color="#5a0090"/><stop offset="0.2600" stop-color="#5000b8"/><stop offset="0.3000" stop-color="#0008ff"/><stop offset="0.3400" stop-color="#0008ff"/><stop offset="0.3800" stop-color="#0008ff"/><stop offset="0.4200" stop-color="#5000b8"/><stop offset="0.4600" stop-color="#5a0090"/><stop offset="0.5000" stop-color="#5a0090"/><stop offset="0.5400" stop-color="#5a0090"/><stop offset="0.5800" stop-color="#5000b8"/><stop offset="0.6200" stop-color="#5000b8"/><stop offset="0.6600" stop-color="#0008ff"/><stop offset="0.7000" stop-color="#0008ff"/><stop offset="0.7400" stop-color="#0008ff"/><stop offset="0.7800" stop-color="#5000b8"/><stop offset="0.8200" stop-color="#5a0090"/><stop offset="0.8600" stop-color="#5a0090"/><stop offset="0.9000" stop-color="#5000b8"/><stop offset="0.9400" stop-color="#5000b8"/><stop offset="0.9800" stop-color="#5000b8"/></linearGradient><linearGradient id="g19"><stop offset="0.0102" stop-color="#5000b8"/><stop offset="0.0306" stop-color="#5000b8"/><stop offset="0.0510" stop-color="#5000b8"/><stop offset="0.0714" stop-color="#5000b8"/><stop offset="0.0918" stop-color="#5000b8"/><stop offset="0.1122" stop-color="#5000b8"/><stop offset="0.1327" stop-color="#5000b8"/><stop offset="0.1531" stop-color="#0008ff"/><stop offset="0.1735" stop-color="#0050ff"/><stop offset="0.1939" stop-color="#00e8ff"/><stop offset="0.2143" stop-color="#00ffd8"/><stop offset="0.2347" stop-color="#00ff50"/><stop offset="0.2551" stop-color="#ffc000"/><stop offset="0.2755" stop-color="#ff8000"/><stop offset="0.2959" stop-color="#ff8000"/><stop offset="0.3163" stop-color="#ff8000"/><stop offset="0.3367" stop-color="#ff8000"/><stop offset="0.3571" stop-color="#ff8000"/><stop offset="0.3776" stop-color="#ff8000"/><stop offset="0.3980" stop-color="#ff8000"/><stop offset="0.4184" stop-color="#ff8000"/><stop offset="0.4388" stop-color="#ff8000"/><stop offset="0.4592" stop-color="#ff4000"/><stop offset="0.4796" stop-color="#ff0000"/><stop offset="0.5000" stop-color="#ff0000"/><stop offset="0.5204" stop-color="#ff8000"/><stop offset="0.5408" stop-color="#a0ff00"/><stop offset="0.5612" stop-color="#00ff50"/><stop offset="0.5816" stop-color="#30ff00"/><stop offset="0.6020" stop-color="#00ff50"/><stop offset="0.6224" stop-color="#30ff00"/><stop offset="0.6429" stop-color="#ff4000"/><stop offset="0.6633" stop-color="#ff8000"/><stop offset="0.6837" stop-color="#30ff00"/><stop offset="0.7041" stop-color="#30ff00"/><stop offset="0.7245" stop-color="#30ff00"/><stop offset="0.7449" stop-color="#30ff00"/><stop offset="0.7653" stop-color="#30ff00"/><stop offset="0.7857" stop-color="#30ff00"/><stop offset="0.8061" stop-color="#30ff00"/><stop offset="0.8265" stop-color="#30ff00"/><stop offset="0.8469" stop-color="#30ff00"/><stop offset="0.8673" stop-color="#30ff00"/><stop offset="0.8878" stop-color="#30ff00"/><stop offset="0.9082" stop-color="#30ff00"/><stop offset="0.9286" stop-color="#30ff00"/><stop offset="0.9490" stop-color="#30ff00"/><stop offset="0.9694" stop-color="#30ff00"/><stop offset="0.9898" stop-color="#30ff00"/></linearGradient><linearGradient id="g20"><stop offset="0.0200" stop-color="#5a0090"/><stop offset="0.0600" stop-color="#5a0090"/><stop offset="0.1000" stop-color="#5a0090"/><stop offset="0.1400" stop-color="#5a0090"/><stop offset="0.1800" stop-color="#5a0090"/><stop offset="0.2200" stop-color="#0008ff"/><stop offset="0.2600" stop-color="#0050ff"/><stop offset="0.3000" stop-color="#5000b8"/><stop offset="0.3400" stop-color="#5000b8"/><stop offset="0.3800" stop-color="#5000b8"/><stop offset="0.4200" stop-color="#5a0090"/><stop offset="0.4600" stop-color="#5a0090"/><stop offset="0.5000" stop-color="#5a0090"/><stop offset="0.5400" stop-color="#5a0090"/><stop offset="0.5800" stop-color="#0008ff"/><stop offset="0.6200" stop-color="#0008ff"/><stop offset="0.6600" stop-color="#0008ff"/><stop offset="0.7000" stop-color="#0008ff"/><stop offset="0.7400" stop-color="#0008ff"/><stop offset="0.7800" stop-color="#5000b8"/><stop offset="0.8200" stop-color="#5a0090"/><stop offset="0.8600" stop-color="#5a0090"/><stop offset="0.9000" stop-color="#5a0090"/><stop offset="0.9400" stop-color="#5a0090"/><stop offset="0.9800" stop-color="#5a0090"/></linearGradient><linearGradient id="g21"><stop offset="0.0102" stop-color="#5a0090"/><stop offset="0.0306" stop-color="#5a0090"/><stop offset="0.0510" stop-color="#5a0090"/><stop offset="0.0714" stop-color="#5a0090"/><stop offset="0.0918" stop-color="#5000b8"/><stop offset="0.1122" stop-color="#5000b8"/><stop offset="0.1327" stop-color="#5000b8"/><stop offset="0.1531" stop-color="#0050ff"/><stop offset="0.1735" stop-color="#00e8ff"/><stop offset="0.1939" stop-color="#00ffd8"/><stop offset="0.2143" stop-color="#00ff50"/><stop offset="0.2347" stop-color="#a0ff00"/><stop offset="0.2551" stop-color="#ff8000"/><stop offset="0.2755" stop-color="#ff8000"/><stop offset="0.2959" stop-color="#ff8000"/><stop offset="0.3163" stop-color="#ff8000"/><stop offset="0.3367" stop-color="#ff8000"/><stop offset="0.3571" stop-color="#ff8000"/><stop offset="0.3776" stop-color="#ff8000"/><stop offset="0.3980" stop-color="#ff8000"/><stop offset="0.4184" stop-color="#ff8000"/><stop offset="0.4388" stop-color="#ff8000"/><stop offset="0.4592" stop-color="#ff8000"/><stop offset="0.4796" stop-color="#ff8000"/><stop offset="0.5000" stop-color="#a0ff00"/><stop offset="0.5204" stop-color="#00ffd8"/><stop offset="0.5408" stop-color="#00ffd8"/><stop offset="0.5612" stop-color="#00ffa0"/><stop offset="0.5816" stop-color="#a0ff00"/><stop offset="0.6020" stop-color="#a0ff00"/><stop offset="0.6224" stop-color="#30ff00"/><stop offset="0.6429" stop-color="#ff8000"/><stop offset="0.6633" stop-color="#a0ff00"/><stop offset="0.6837" stop-color="#30ff00"/><stop offset="0.7041" stop-color="#30ff00"/><stop offset="0.7245" stop-color="#30ff00"/><stop offset="0.7449" stop-color="#30ff00"/><stop offset="0.7653" stop-color="#30ff00"/><stop offset="0.7857" stop-color="#30ff00"/><stop offset="0.8061" stop-color="#a0ff00"/><stop offset="0.8265" stop-color="#30ff00"/><stop offset="0.8469" stop-color="#30ff00"/><stop offset="0.8673" stop-color="#30ff00"/><stop offset="0.8878" stop-color="#30ff00"/><stop offset="0.9082" stop-color="#30ff00"/><stop offset="0.9286" stop-color="#30ff00"/><stop offset="0.9490" stop-color="#30ff00"/><stop offset="0.9694" stop-color="#0050ff"/><stop offset="0.9898" stop-color="#30ff00"/></linearGradient><linearGradient id="g22"><stop offset="0.0200" stop-color="#0008ff"/><stop offset="0.0600" stop-color="#0008ff"/><stop offset="0.1000" stop-color="#0008ff"/><stop offset="0.1400" stop-color="#0050ff"/><stop offset="0.1800" stop-color="#0050ff"/><stop offset="0.2200" stop-color="#0008ff"/><stop offset="0.2600" stop-color="#5000b8"/><stop offset="0.3000" stop-color="#5000b8"/><stop offset="0.3400" stop-color="#5000b8"/><stop offset="0.3800" stop-color="#5000b8"/><stop offset="0.4200" stop-color="#5000b8"/><stop offset="0.4600" stop-color="#0008ff"/><stop offset="0.5000" stop-color="#0008ff"/><stop offset="0.5400" stop-color="#0008ff"/><stop offset="0.5800" stop-color="#0050ff"/><stop offset="0.6200" stop-color="#0008ff"/><stop offset="0.6600" stop-color="#0008ff"/><stop offset="0.7000" stop-color="#0008ff"/><stop offset="0.7400" stop-color="#0008ff"/><stop offset="0.7800" stop-color="#5000b8"/><stop offset="0.8200" stop-color="#5a0090"/><stop offset="0.8600" stop-color="#5a0090"/><stop offset="0.9000" stop-color="#5a0090"/><stop offset="0.9400" stop-color="#5a0090"/><stop offset="0.9800" stop-color="#5a0090"/></linearGradient><linearGradient id="g23"><stop offset="0.0102" stop-color="#5000b8"/><stop offset="0.0306" stop-color="#5000b8"/><stop offset="0.0510" stop-color="#5000b8"/><stop offset="0.0714" stop-color="#5000b8"/><stop offset="0.0918" stop-color="#5000b8"/><stop offset="0.1122" stop-color="#0008ff"/><stop offset="0.1327" stop-color="#0008ff"/><stop offset="0.1531" stop-color="#0098ff"/><stop offset="0.1735" stop-color="#00ffd8"/><stop offset="0.1939" stop-color="#00ff50"/><stop offset="0.2143" stop-color="#30ff00"/><stop offset="0.2347" stop-color="#a0ff00"/><stop offset="0.2551" stop-color="#ff8000"/><stop offset="0.2755" stop-color="#ff8000"/><stop offset="0.2959" stop-color="#ff8000"/><stop offset="0.3163" stop-color="#ffc000"/><stop offset="0.3367" stop-color="#a0ff00"/><stop offset="0.3571" stop-color="#ffc000"/><stop offset="0.3776" stop-color="#ffc000"/><stop offset="0.3980" stop-color="#ffc000"/><stop offset="0.4184" stop-color="#ffc000"/><stop offset="0.4388" stop-color="#ffc000"/><stop offset="0.4592" stop-color="#ff8000"/><stop offset="0.4796" stop-color="#ff8000"/><stop offset="0.5000" stop-color="#ffc000"/><stop offset="0.5204" stop-color="#00ff50"/><stop offset="0.5408" stop-color="#00ff50"/><stop offset="0.5612" stop-color="#00ffa0"/><stop offset="0.5816" stop-color="#a0ff00"/><stop offset="0.6020" stop-color="#30ff00"/><stop offset="0.6224" stop-color="#30ff00"/><stop offset="0.6429" stop-color="#f0ff00"/><stop offset="0.6633" stop-color="#a0ff00"/><stop offset="0.6837" stop-color="#30ff00"/><stop offset="0.7041" stop-color="#30ff00"/><stop offset="0.7245" stop-color="#30ff00"/><stop offset="0.7449" stop-color="#30ff00"/><stop offset="0.7653" stop-color="#30ff00"/><stop offset="0.7857" stop-color="#30ff00"/><stop offset="0.8061" stop-color="#30ff00"/><stop offset="0.8265" stop-color="#30ff00"/><stop offset="0.8469" stop-color="#30ff00"/><stop offset="0.8673" stop-color="#30ff00"/><stop offset="0.8878" stop-color="#30ff00"/><stop offset="0.9082" stop-color="#30ff00"/><stop offset="0.9286" stop-color="#30ff00"/><stop offset="0.9490" stop-color="#30ff00"/><stop offset="0.9694" stop-color="#00e8ff"/><stop offset="0.9898" stop-color="#0008ff"/></linearGradient><linearGradient id="g24"><stop offset="0.0200" stop-color="#46004e"/><stop offset="0.0600" stop-color="#5a0090"/><stop offset="0.1000" stop-color="#5a0090"/><stop offset="0.1400" stop-color="#5a0090"/><stop offset="0.1800" stop-color="#5a0090"/><stop offset="0.2200" stop-color="#5000b8"/><stop offset="0.2600" stop-color="#5000b8"/><stop offset="0.3000" stop-color="#0008ff"/><stop offset="0.3400" stop-color="#0008ff"/><stop offset="0.3800" stop-color="#0008ff"/><stop offset="0.4200" stop-color="#5000b8"/><stop offset="0.4600" stop-color="#0050ff"/><stop offset="0.5000" stop-color="#0050ff"/><stop offset="0.5400" stop-color="#0008ff"/><stop offset="0.5800" stop-color="#5a0090"/><stop offset="0.6200" stop-color="#5a0090"/><stop offset="0.6600" stop-color="#46004e"/><stop offset="0.7000" stop-color="#46004e"/><stop offset="0.7400" stop-color="#46004e"/><stop offset="0.7800" stop-color="#5a0090"/><stop offset="0.8200" stop-color="#5a0090"/><stop offset="0.8600" stop-color="#5a0090"/><stop offset="0.9000" stop-color="#5a0090"/><stop offset="0.9400" stop-color="#46004e"/><stop offset="0.9800" stop-color="#2a0028"/></linearGradient><linearGradient id="g25"><stop offset="0.0102" stop-color="#050005"/><stop offset="0.0306" stop-color="#2a0028"/><stop offset="0.0510" stop-color="#5a0090"/><stop offset="0.0714" stop-color="#5a0090"/><stop offset="0.0918" stop-color="#5a0090"/><stop offset="0.1122" stop-color="#5a0090"/><stop offset="0.1327" stop-color="#5000b8"/><stop offset="0.1531" stop-color="#5000b8"/><stop offset="0.1735" stop-color="#00e8ff"/><stop offset="0.1939" stop-color="#00ffd8"/><stop offset="0.2143" stop-color="#00ff50"/><stop offset="0.2347" stop-color="#a0ff00"/><stop offset="0.2551" stop-color="#ffc000"/><stop offset="0.2755" stop-color="#ff8000"/><stop offset="0.2959" stop-color="#ff4000"/><stop offset="0.3163" stop-color="#a0ff00"/><stop offset="0.3367" stop-color="#30ff00"/><stop offset="0.3571" stop-color="#ffc000"/><stop offset="0.3776" stop-color="#ffc000"/><stop offset="0.3980" stop-color="#f0ff00"/><stop offset="0.4184" stop-color="#f0ff00"/><stop offset="0.4388" stop-color="#ffc000"/><stop offset="0.4592" stop-color="#f0ff00"/><stop offset="0.4796" stop-color="#ffc000"/><stop offset="0.5000" stop-color="#a0ff00"/><stop offset="0.5204" stop-color="#00ff50"/><stop offset="0.5408" stop-color="#00ff50"/><stop offset="0.5612" stop-color="#00ff50"/><stop offset="0.5816" stop-color="#30ff00"/><stop offset="0.6020" stop-color="#00ff50"/><stop offset="0.6224" stop-color="#30ff00"/><stop offset="0.6429" stop-color="#30ff00"/><stop offset="0.6633" stop-color="#30ff00"/><stop offset="0.6837" stop-color="#30ff00"/><stop offset="0.7041" stop-color="#30ff00"/><stop offset="0.7245" stop-color="#30ff00"/><stop offset="0.7449" stop-color="#30ff00"/><stop offset="0.7653" stop-color="#30ff00"/><stop offset="0.7857" stop-color="#30ff00"/><stop offset="0.8061" stop-color="#30ff00"/><stop offset="0.8265" stop-color="#00ffd8"/><stop offset="0.8469" stop-color="#00ffa0"/><stop offset="0.8673" stop-color="#30ff00"/><stop offset="0.8878" stop-color="#30ff00"/><stop offset="0.9082" stop-color="#30ff00"/><stop offset="0.9286" stop-color="#30ff00"/><stop offset="0.9490" stop-color="#30ff00"/><stop offset="0.9694" stop-color="#a0ff00"/><stop offset="0.9898" stop-color="#0050ff"/></linearGradient><linearGradient id="g26"><stop offset="0.0200" stop-color="#46004e"/><stop offset="0.0600" stop-color="#5a0090"/><stop offset="0.1000" stop-color="#5a0090"/><stop offset="0.1400" stop-color="#5a0090"/><stop offset="0.1800" stop-color="#5a0090"/><stop offset="0.2200" stop-color="#5a0090"/><stop offset="0.2600" stop-color="#0050ff"/><stop offset="0.3000" stop-color="#0050ff"/><stop offset="0.3400" stop-color="#0050ff"/><stop offset="0.3800" stop-color="#0050ff"/><stop offset="0.4200" stop-color="#0098ff"/><stop offset="0.4600" stop-color="#0008ff"/><stop offset="0.5000" stop-color="#5000b8"/><stop offset="0.5400" stop-color="#46004e"/><stop offset="0.5800" stop-color="#46004e"/><stop offset="0.6200" stop-color="#46004e"/><stop offset="0.6600" stop-color="#5a0090"/><stop offset="0.7000" stop-color="#5a0090"/><stop offset="0.7400" stop-color="#5a0090"/><stop offset="0.7800" stop-color="#5a0090"/><stop offset="0.8200" stop-color="#5a0090"/><stop offset="0.8600" stop-color="#5a0090"/><stop offset="0.9000" stop-color="#46004e"/><stop offset="0.9400" stop-color="#2a0028"/><stop offset="0.9800" stop-color="#050005"/></linearGradient><linearGradient id="g27"><stop offset="0.0102" stop-color="#46004e"/><stop offset="0.0306" stop-color="#5a0090"/><stop offset="0.0510" stop-color="#5a0090"/><stop offset="0.0714" stop-color="#5a0090"/><stop offset="0.0918" stop-color="#5a0090"/><stop offset="0.1122" stop-color="#46004e"/><stop offset="0.1327" stop-color="#5a0090"/><stop offset="0.1531" stop-color="#5a0090"/><stop offset="0.1735" stop-color="#0008ff"/><stop offset="0.1939" stop-color="#00e8ff"/><stop offset="0.2143" stop-color="#00ffd8"/><stop offset="0.2347" stop-color="#a0ff00"/><stop offset="0.2551" stop-color="#a0ff00"/><stop offset="0.2755" stop-color="#ffc000"/><stop offset="0.2959" stop-color="#ff8000"/><stop offset="0.3163" stop-color="#30ff00"/><stop offset="0.3367" stop-color="#30ff00"/><stop offset="0.3571" stop-color="#f0ff00"/><stop offset="0.3776" stop-color="#ffc000"/><stop offset="0.3980" stop-color="#f0ff00"/><stop offset="0.4184" stop-color="#f0ff00"/><stop offset="0.4388" stop-color="#a0ff00"/><stop offset="0.4592" stop-color="#a0ff00"/><stop offset="0.4796" stop-color="#a0ff00"/><stop offset="0.5000" stop-color="#a0ff00"/><stop offset="0.5204" stop-color="#0008ff"/><stop offset="0.5408" stop-color="#00ff50"/><stop offset="0.5612" stop-color="#00ffa0"/><stop offset="0.5816" stop-color="#30ff00"/><stop offset="0.6020" stop-color="#60ff00"/><stop offset="0.6224" stop-color="#30ff00"/><stop offset="0.6429" stop-color="#30ff00"/><stop offset="0.6633" stop-color="#30ff00"/><stop offset="0.6837" stop-color="#30ff00"/><stop offset="0.7041" stop-color="#30ff00"/><stop offset="0.7245" stop-color="#30ff00"/><stop offset="0.7449" stop-color="#30ff00"/><stop offset="0.7653" stop-color="#30ff00"/><stop offset="0.7857" stop-color="#30ff00"/><stop offset="0.8061" stop-color="#30ff00"/><stop offset="0.8265" stop-color="#00ffa0"/><stop offset="0.8469" stop-color="#00ffa0"/><stop offset="0.8673" stop-color="#30ff00"/><stop offset="0.8878" stop-color="#30ff00"/><stop offset="0.9082" stop-color="#30ff00"/><stop offset="0.9286" stop-color="#30ff00"/><stop offset="0.9490" stop-color="#30ff00"/><stop offset="0.9694" stop-color="#30ff00"/><stop offset="0.9898" stop-color="#0008ff"/></linearGradient><linearGradient id="g28"><stop offset="0.0200" stop-color="#5a0090"/><stop offset="0.0600" stop-color="#0050ff"/><stop offset="0.1000" stop-color="#0050ff"/><stop offset="0.1400" stop-color="#0008ff"/><stop offset="0.1800" stop-color="#0008ff"/><stop offset="0.2200" stop-color="#0008ff"/><stop offset="0.2600" stop-color="#5000b8"/><stop offset="0.3000" stop-color="#5000b8"/><stop offset="0.3400" stop-color="#5000b8"/><stop offset="0.3800" stop-color="#0008ff"/><stop offset="0.4200" stop-color="#0098ff"/><stop offset="0.4600" stop-color="#0050ff"/><stop offset="0.5000" stop-color="#0008ff"/><stop offset="0.5400" stop-color="#5000b8"/><stop offset="0.5800" stop-color="#0008ff"/><stop offset="0.6200" stop-color="#5000b8"/><stop offset="0.6600" stop-color="#5000b8"/><stop offset="0.7000" stop-color="#5000b8"/><stop offset="0.7400" stop-color="#5000b8"/><stop offset="0.7800" stop-color="#5000b8"/><stop offset="0.8200" stop-color="#2a0028"/><stop offset="0.8600" stop-color="#46004e"/><stop offset="0.9000" stop-color="#5a0090"/><stop offset="0.9400" stop-color="#5a0090"/><stop offset="0.9800" stop-color="#5a0090"/></linearGradient><linearGradient id="g29"><stop offset="0.0102" stop-color="#5a0090"/><stop offset="0.0306" stop-color="#5a0090"/><stop offset="0.0510" stop-color="#5a0090"/><stop offset="0.0714" stop-color="#5a0090"/><stop offset="0.0918" stop-color="#5a0090"/><stop offset="0.1122" stop-color="#5a0090"/><stop offset="0.1327" stop-color="#5a0090"/><stop offset="0.1531" stop-color="#0008ff"/><stop offset="0.1735" stop-color="#0008ff"/><stop offset="0.1939" stop-color="#00e8ff"/><stop offset="0.2143" stop-color="#00ffd8"/><stop offset="0.2347" stop-color="#30ff00"/><stop offset="0.2551" stop-color="#30ff00"/><stop offset="0.2755" stop-color="#f0ff00"/><stop offset="0.2959" stop-color="#30ff00"/><stop offset="0.3163" stop-color="#30ff00"/><stop offset="0.3367" stop-color="#30ff00"/><stop offset="0.3571" stop-color="#ffc000"/><stop offset="0.3776" stop-color="#ffc000"/><stop offset="0.3980" stop-color="#f0ff00"/><stop offset="0.4184" stop-color="#a0ff00"/><stop offset="0.4388" stop-color="#a0ff00"/><stop offset="0.4592" stop-color="#30ff00"/><stop offset="0.4796" stop-color="#a0ff00"/><stop offset="0.5000" stop-color="#30ff00"/><stop offset="0.5204" stop-color="#0050ff"/><stop offset="0.5408" stop-color="#30ff00"/><stop offset="0.5612" stop-color="#30ff00"/><stop offset="0.5816" stop-color="#30ff00"/><stop offset="0.6020" stop-color="#a0ff00"/><stop offset="0.6224" stop-color="#a0ff00"/><stop offset="0.6429" stop-color="#a0ff00"/><stop offset="0.6633" stop-color="#60ff00"/><stop offset="0.6837" stop-color="#30ff00"/><stop offset="0.7041" stop-color="#30ff00"/><stop offset="0.7245" stop-color="#30ff00"/><stop offset="0.7449" stop-color="#30ff00"/><stop offset="0.7653" stop-color="#30ff00"/><stop offset="0.7857" stop-color="#30ff00"/><stop offset="0.8061" stop-color="#30ff00"/><stop offset="0.8265" stop-color="#30ff00"/><stop offset="0.8469" stop-color="#30ff00"/><stop offset="0.8673" stop-color="#30ff00"/><stop offset="0.8878" stop-color="#30ff00"/><stop offset="0.9082" stop-color="#30ff00"/><stop offset="0.9286" stop-color="#30ff00"/><stop offset="0.9490" stop-color="#30ff00"/><stop offset="0.9694" stop-color="#30ff00"/><stop offset="0.9898" stop-color="#0050ff"/></linearGradient><linearGradient id="g30"><stop offset="0.0200" stop-color="#0008ff"/><stop offset="0.0600" stop-color="#5000b8"/><stop offset="0.1000" stop-color="#5000b8"/><stop offset="0.1400" stop-color="#0008ff"/><stop offset="0.1800" stop-color="#5000b8"/><stop offset="0.2200" stop-color="#5a0090"/><stop offset="0.2600" stop-color="#5a0090"/><stop offset="0.3000" stop-color="#5a0090"/><stop offset="0.3400" stop-color="#5a0090"/><stop offset="0.3800" stop-color="#5a0090"/><stop offset="0.4200" stop-color="#5000b8"/><stop offset="0.4600" stop-color="#0008ff"/><stop offset="0.5000" stop-color="#0008ff"/><stop offset="0.5400" stop-color="#0008ff"/><stop offset="0.5800" stop-color="#0050ff"/><stop offset="0.6200" stop-color="#0008ff"/><stop offset="0.6600" stop-color="#0008ff"/><stop offset="0.7000" stop-color="#0008ff"/><stop offset="0.7400" stop-color="#0050ff"/><stop offset="0.7800" stop-color="#0008ff"/><stop offset="0.8200" stop-color="#2a0028"/><stop offset="0.8600" stop-color="#5a0090"/><stop offset="0.9000" stop-color="#46004e"/><stop offset="0.9400" stop-color="#46004e"/><stop offset="0.9800" stop-color="#5a0090"/></linearGradient><linearGradient id="g31"><stop offset="0.0102" stop-color="#5000b8"/><stop offset="0.0306" stop-color="#5a0090"/><stop offset="0.0510" stop-color="#5a0090"/><stop offset="0.0714" stop-color="#5000b8"/><stop offset="0.0918" stop-color="#5a0090"/><stop offset="0.1122" stop-color="#2a0028"/><stop offset="0.1327" stop-color="#5a0090"/><stop offset="0.1531" stop-color="#0008ff"/><stop offset="0.1735" stop-color="#00ffd8"/><stop offset="0.1939" stop-color="#00ff50"/><stop offset="0.2143" stop-color="#00ff50"/><stop offset="0.2347" stop-color="#30ff00"/><stop offset="0.2551" stop-color="#30ff00"/><stop offset="0.2755" stop-color="#00ff50"/><stop offset="0.2959" stop-color="#00ffd8"/><stop offset="0.3163" stop-color="#00ff50"/><stop offset="0.3367" stop-color="#30ff00"/><stop offset="0.3571" stop-color="#ff8000"/><stop offset="0.3776" stop-color="#ffc000"/><stop offset="0.3980" stop-color="#ffc000"/><stop offset="0.4184" stop-color="#f0ff00"/><stop offset="0.4388" stop-color="#a0ff00"/><stop offset="0.4592" stop-color="#a0ff00"/><stop offset="0.4796" stop-color="#ffc000"/><stop offset="0.5000" stop-color="#a0ff00"/><stop offset="0.5204" stop-color="#00ff50"/><stop offset="0.5408" stop-color="#30ff00"/><stop offset="0.5612" stop-color="#30ff00"/><stop offset="0.5816" stop-color="#30ff00"/><stop offset="0.6020" stop-color="#30ff00"/><stop offset="0.6224" stop-color="#30ff00"/><stop offset="0.6429" stop-color="#a0ff00"/><stop offset="0.6633" stop-color="#a0ff00"/><stop offset="0.6837" stop-color="#30ff00"/><stop offset="0.7041" stop-color="#30ff00"/><stop offset="0.7245" stop-color="#30ff00"/><stop offset="0.7449" stop-color="#30ff00"/><stop offset="0.7653" stop-color="#30ff00"/><stop offset="0.7857" stop-color="#30ff00"/><stop offset="0.8061" stop-color="#30ff00"/><stop offset="0.8265" stop-color="#30ff00"/><stop offset="0.8469" stop-color="#30ff00"/><stop offset="0.8673" stop-color="#30ff00"/><stop offset="0.8878" stop-color="#30ff00"/><stop offset="0.9082" stop-color="#30ff00"/><stop offset="0.9286" stop-color="#30ff00"/><stop offset="0.9490" stop-color="#30ff00"/><stop offset="0.9694" stop-color="#30ff00"/><stop offset="0.9898" stop-color="#00ff50"/></linearGradient><linearGradient id="g32"><stop offset="0.0200" stop-color="#0008ff"/><stop offset="0.0600" stop-color="#0008ff"/><stop offset="0.1000" stop-color="#0050ff"/><stop offset="0.1400" stop-color="#0008ff"/><stop offset="0.1800" stop-color="#0008ff"/><stop offset="0.2200" stop-color="#5000b8"/><stop offset="0.2600" stop-color="#5a0090"/><stop offset="0.3000" stop-color="#5a0090"/><stop offset="0.3400" stop-color="#5a0090"/><stop offset="0.3800" stop-color="#5a0090"/><stop offset="0.4200" stop-color="#5000b8"/><stop offset="0.4600" stop-color="#0008ff"/><stop offset="0.5000" stop-color="#0008ff"/><stop offset="0.5400" stop-color="#0008ff"/><stop offset="0.5800" stop-color="#0008ff"/><stop offset="0.6200" stop-color="#5000b8"/><stop offset="0.6600" stop-color="#5000b8"/><stop offset="0.7000" stop-color="#0098ff"/><stop offset="0.7400" stop-color="#0098ff"/><stop offset="0.7800" stop-color="#0050ff"/><stop offset="0.8200" stop-color="#5a0090"/><stop offset="0.8600" stop-color="#5a0090"/><stop offset="0.9000" stop-color="#5a0090"/><stop offset="0.9400" stop-color="#5a0090"/><stop offset="0.9800" stop-color="#5a0090"/></linearGradient><linearGradient id="g33"><stop offset="0.0102" stop-color="#5a0090"/><stop offset="0.0306" stop-color="#5a0090"/><stop offset="0.0510" stop-color="#5a0090"/><stop offset="0.0714" stop-color="#5a0090"/><stop offset="0.0918" stop-color="#5a0090"/><stop offset="0.1122" stop-color="#5a0090"/><stop offset="0.1327" stop-color="#5a0090"/><stop offset="0.1531" stop-color="#5a0090"/><stop offset="0.1735" stop-color="#00e8ff"/><stop offset="0.1939" stop-color="#00ff50"/><stop offset="0.2143" stop-color="#30ff00"/><stop offset="0.2347" stop-color="#30ff00"/><stop offset="0.2551" stop-color="#30ff00"/><stop offset="0.2755" stop-color="#30ff00"/><stop offset="0.2959" stop-color="#0098ff"/><stop offset="0.3163" stop-color="#30ff00"/><stop offset="0.3367" stop-color="#00ff50"/><stop offset="0.3571" stop-color="#ffc000"/><stop offset="0.3776" stop-color="#ffc000"/><stop offset="0.3980" stop-color="#ffc000"/><stop offset="0.4184" stop-color="#ffc000"/><stop offset="0.4388" stop-color="#f0ff00"/><stop offset="0.4592" stop-color="#a0ff00"/><stop offset="0.4796" stop-color="#f0ff00"/><stop offset="0.5000" stop-color="#a0ff00"/><stop offset="0.5204" stop-color="#30ff00"/><stop offset="0.5408" stop-color="#30ff00"/><stop offset="0.5612" stop-color="#30ff00"/><stop offset="0.5816" stop-color="#30ff00"/><stop offset="0.6020" stop-color="#30ff00"/><stop offset="0.6224" stop-color="#30ff00"/><stop offset="0.6429" stop-color="#30ff00"/><stop offset="0.6633" stop-color="#30ff00"/><stop offset="0.6837" stop-color="#30ff00"/><stop offset="0.7041" stop-color="#30ff00"/><stop offset="0.7245" stop-color="#30ff00"/><stop offset="0.7449" stop-color="#00ff50"/><stop offset="0.7653" stop-color="#00ffd8"/><stop offset="0.7857" stop-color="#30ff00"/><stop offset="0.8061" stop-color="#30ff00"/><stop offset="0.8265" stop-color="#30ff00"/><stop offset="0.8469" stop-color="#30ff00"/><stop offset="0.8673" stop-color="#30ff00"/><stop offset="0.8878" stop-color="#30ff00"/><stop offset="0.9082" stop-color="#30ff00"/><stop offset="0.9286" stop-color="#30ff00"/><stop offset="0.9490" stop-color="#30ff00"/><stop offset="0.9694" stop-color="#30ff00"/><stop offset="0.9898" stop-color="#00ff50"/></linearGradient><linearGradient id="g34"><stop offset="0.0200" stop-color="#0050ff"/><stop offset="0.0600" stop-color="#0050ff"/><stop offset="0.1000" stop-color="#0050ff"/><stop offset="0.1400" stop-color="#0098ff"/><stop offset="0.1800" stop-color="#00e8ff"/><stop offset="0.2200" stop-color="#0098ff"/><stop offset="0.2600" stop-color="#0050ff"/><stop offset="0.3000" stop-color="#0008ff"/><stop offset="0.3400" stop-color="#0008ff"/><stop offset="0.3800" stop-color="#0008ff"/><stop offset="0.4200" stop-color="#5000b8"/><stop offset="0.4600" stop-color="#5000b8"/><stop offset="0.5000" stop-color="#0008ff"/><stop offset="0.5400" stop-color="#0008ff"/><stop offset="0.5800" stop-color="#0008ff"/><stop offset="0.6200" stop-color="#0008ff"/><stop offset="0.6600" stop-color="#0050ff"/><stop offset="0.7000" stop-color="#0050ff"/><stop offset="0.7400" stop-color="#5000b8"/><stop offset="0.7800" stop-color="#5a0090"/><stop offset="0.8200" stop-color="#5a0090"/><stop offset="0.8600" stop-color="#5a0090"/><stop offset="0.9000" stop-color="#5a0090"/><stop offset="0.9400" stop-color="#5000b8"/><stop offset="0.9800" stop-color="#5000b8"/></linearGradient><linearGradient id="g35"><stop offset="0.0714" stop-color="#5a0090"/><stop offset="0.2143" stop-color="#5a0090"/><stop offset="0.3571" stop-color="#5a0090"/><stop offset="0.5000" stop-color="#5a0090"/><stop offset="0.6429" stop-color="#5a0090"/><stop offset="0.7857" stop-color="#2a0028"/><stop offset="0.9286" stop-color="#5a0090"/></linearGradient><linearGradient id="g36"><stop offset="0.0122" stop-color="#0050ff"/><stop offset="0.0366" stop-color="#0098ff"/><stop offset="0.0610" stop-color="#00ff50"/><stop offset="0.0854" stop-color="#00ff50"/><stop offset="0.1098" stop-color="#00ffd8"/><stop offset="0.1341" stop-color="#0050ff"/><stop offset="0.1585" stop-color="#0008ff"/><stop offset="0.1829" stop-color="#00e8ff"/><stop offset="0.2073" stop-color="#00ff50"/><stop offset="0.2317" stop-color="#a0ff00"/><stop offset="0.2561" stop-color="#a0ff00"/><stop offset="0.2805" stop-color="#a0ff00"/><stop offset="0.3049" stop-color="#f0ff00"/><stop offset="0.3293" stop-color="#ffc000"/><stop offset="0.3537" stop-color="#ff8000"/><stop offset="0.3780" stop-color="#a0ff00"/><stop offset="0.4024" stop-color="#30ff00"/><stop offset="0.4268" stop-color="#30ff00"/><stop offset="0.4512" stop-color="#30ff00"/><stop offset="0.4756" stop-color="#a0ff00"/><stop offset="0.5000" stop-color="#a0ff00"/><stop offset="0.5244" stop-color="#30ff00"/><stop offset="0.5488" stop-color="#30ff00"/><stop offset="0.5732" stop-color="#30ff00"/><stop offset="0.5976" stop-color="#30ff00"/><stop offset="0.6220" stop-color="#30ff00"/><stop offset="0.6463" stop-color="#30ff00"/><stop offset="0.6707" stop-color="#30ff00"/><stop offset="0.6951" stop-color="#00ffd8"/><stop offset="0.7195" stop-color="#00ffd8"/><stop offset="0.7439" stop-color="#30ff00"/><stop offset="0.7683" stop-color="#30ff00"/><stop offset="0.7927" stop-color="#30ff00"/><stop offset="0.8171" stop-color="#30ff00"/><stop offset="0.8415" stop-color="#30ff00"/><stop offset="0.8659" stop-color="#30ff00"/><stop offset="0.8902" stop-color="#30ff00"/><stop offset="0.9146" stop-color="#30ff00"/><stop offset="0.9390" stop-color="#30ff00"/><stop offset="0.9634" stop-color="#30ff00"/><stop offset="0.9878" stop-color="#30ff00"/></linearGradient><linearGradient id="g37"><stop offset="0.0200" stop-color="#0050ff"/><stop offset="0.0600" stop-color="#0098ff"/><stop offset="0.1000" stop-color="#0050ff"/><stop offset="0.1400" stop-color="#0050ff"/><stop offset="0.1800" stop-color="#0008ff"/><stop offset="0.2200" stop-color="#0008ff"/><stop offset="0.2600" stop-color="#5000b8"/><stop offset="0.3000" stop-color="#5a0090"/><stop offset="0.3400" stop-color="#5a0090"/><stop offset="0.3800" stop-color="#46004e"/><stop offset="0.4200" stop-color="#46004e"/><stop offset="0.4600" stop-color="#2a0028"/><stop offset="0.5000" stop-color="#46004e"/><stop offset="0.5400" stop-color="#5a0090"/><stop offset="0.5800" stop-color="#0008ff"/><stop offset="0.6200" stop-color="#0008ff"/><stop offset="0.6600" stop-color="#5000b8"/><stop offset="0.7000" stop-color="#5000b8"/><stop offset="0.7400" stop-color="#5a0090"/><stop offset="0.7800" stop-color="#5a0090"/><stop offset="0.8200" stop-color="#5a0090"/><stop offset="0.8600" stop-color="#5a0090"/><stop offset="0.9000" stop-color="#5a0090"/><stop offset="0.9400" stop-color="#5a0090"/><stop offset="0.9800" stop-color="#5000b8"/></linearGradient><linearGradient id="g38"><stop offset="0.0714" stop-color="#5a0090"/><stop offset="0.2143" stop-color="#5a0090"/><stop offset="0.3571" stop-color="#5a0090"/><stop offset="0.5000" stop-color="#5a0090"/><stop offset="0.6429" stop-color="#5a0090"/><stop offset="0.7857" stop-color="#46004e"/><stop offset="0.9286" stop-color="#5a0090"/></linearGradient><linearGradient id="g39"><stop offset="0.0122" stop-color="#0050ff"/><stop offset="0.0366" stop-color="#0098ff"/><stop offset="0.0610" stop-color="#00ffd8"/><stop offset="0.0854" stop-color="#00ffd8"/><stop offset="0.1098" stop-color="#0008ff"/><stop offset="0.1341" stop-color="#0050ff"/><stop offset="0.1585" stop-color="#00e8ff"/><stop offset="0.1829" stop-color="#00ffd8"/><stop offset="0.2073" stop-color="#00ff50"/><stop offset="0.2317" stop-color="#30ff00"/><stop offset="0.2561" stop-color="#30ff00"/><stop offset="0.2805" stop-color="#a0ff00"/><stop offset="0.3049" stop-color="#a0ff00"/><stop offset="0.3293" stop-color="#a0ff00"/><stop offset="0.3537" stop-color="#ffc000"/><stop offset="0.3780" stop-color="#a0ff00"/><stop offset="0.4024" stop-color="#30ff00"/><stop offset="0.4268" stop-color="#0008ff"/><stop offset="0.4512" stop-color="#30ff00"/><stop offset="0.4756" stop-color="#30ff00"/><stop offset="0.5000" stop-color="#ff8000"/><stop offset="0.5244" stop-color="#a0ff00"/><stop offset="0.5488" stop-color="#30ff00"/><stop offset="0.5732" stop-color="#30ff00"/><stop offset="0.5976" stop-color="#30ff00"/><stop offset="0.6220" stop-color="#30ff00"/><stop offset="0.6463" stop-color="#30ff00"/><stop offset="0.6707" stop-color="#30ff00"/><stop offset="0.6951" stop-color="#30ff00"/><stop offset="0.7195" stop-color="#00ffd8"/><stop offset="0.7439" stop-color="#30ff00"/><stop offset="0.7683" stop-color="#30ff00"/><stop offset="0.7927" stop-color="#30ff00"/><stop offset="0.8171" stop-color="#30ff00"/><stop offset="0.8415" stop-color="#30ff00"/><stop offset="0.8659" stop-color="#30ff00"/><stop offset="0.8902" stop-color="#30ff00"/><stop offset="0.9146" stop-color="#30ff00"/><stop offset="0.9390" stop-color="#30ff00"/><stop offset="0.9634" stop-color="#30ff00"/><stop offset="0.9878" stop-color="#30ff00"/></linearGradient><linearGradient id="g40"><stop offset="0.0200" stop-color="#0050ff"/><stop offset="0.0600" stop-color="#0098ff"/><stop offset="0.1000" stop-color="#0098ff"/><stop offset="0.1400" stop-color="#0098ff"/><stop offset="0.1800" stop-color="#0008ff"/><stop offset="0.2200" stop-color="#0008ff"/><stop offset="0.2600" stop-color="#5000b8"/><stop offset="0.3000" stop-color="#5a0090"/><stop offset="0.3400" stop-color="#5a0090"/><stop offset="0.3800" stop-color="#5a0090"/><stop offset="0.4200" stop-color="#5000b8"/><stop offset="0.4600" stop-color="#0008ff"/><stop offset="0.5000" stop-color="#5000b8"/><stop offset="0.5400" stop-color="#0008ff"/><stop offset="0.5800" stop-color="#5000b8"/><stop offset="0.6200" stop-color="#5a0090"/><stop offset="0.6600" stop-color="#5a0090"/><stop offset="0.7000" stop-color="#5a0090"/><stop offset="0.7400" stop-color="#5a0090"/><stop offset="0.7800" stop-color="#46004e"/><stop offset="0.8200" stop-color="#5a0090"/><stop offset="0.8600" stop-color="#5a0090"/><stop offset="0.9000" stop-color="#5a0090"/><stop offset="0.9400" stop-color="#5000b8"/><stop offset="0.9800" stop-color="#5000b8"/></linearGradient><linearGradient id="g41"><stop offset="0.0714" stop-color="#5a0090"/><stop offset="0.2143" stop-color="#5a0090"/><stop offset="0.3571" stop-color="#5a0090"/><stop offset="0.5000" stop-color="#5a0090"/><stop offset="0.6429" stop-color="#5a0090"/><stop offset="0.7857" stop-color="#5a0090"/><stop offset="0.9286" stop-color="#5000b8"/></linearGradient><linearGradient id="g42"><stop offset="0.0122" stop-color="#00e8ff"/><stop offset="0.0366" stop-color="#0098ff"/><stop offset="0.0610" stop-color="#00ffd8"/><stop offset="0.0854" stop-color="#00ffd8"/><stop offset="0.1098" stop-color="#00e8ff"/><stop offset="0.1341" stop-color="#00ffd8"/><stop offset="0.1585" stop-color="#00e8ff"/><stop offset="0.1829" stop-color="#00ffd8"/><stop offset="0.2073" stop-color="#00ff50"/><stop offset="0.2317" stop-color="#00ff50"/><stop offset="0.2561" stop-color="#30ff00"/><stop offset="0.2805" stop-color="#30ff00"/><stop offset="0.3049" stop-color="#a0ff00"/><stop offset="0.3293" stop-color="#a0ff00"/><stop offset="0.3537" stop-color="#ffc000"/><stop offset="0.3780" stop-color="#a0ff00"/><stop offset="0.4024" stop-color="#00ffd8"/><stop offset="0.4268" stop-color="#0050ff"/><stop offset="0.4512" stop-color="#30ff00"/><stop offset="0.4756" stop-color="#30ff00"/><stop offset="0.5000" stop-color="#ffc000"/><stop offset="0.5244" stop-color="#a0ff00"/><stop offset="0.5488" stop-color="#30ff00"/><stop offset="0.5732" stop-color="#30ff00"/><stop offset="0.5976" stop-color="#30ff00"/><stop offset="0.6220" stop-color="#30ff00"/><stop offset="0.6463" stop-color="#30ff00"/><stop offset="0.6707" stop-color="#a0ff00"/><stop offset="0.6951" stop-color="#30ff00"/><stop offset="0.7195" stop-color="#30ff00"/><stop offset="0.7439" stop-color="#30ff00"/><stop offset="0.7683" stop-color="#a0ff00"/><stop offset="0.7927" stop-color="#30ff00"/><stop offset="0.8171" stop-color="#30ff00"/><stop offset="0.8415" stop-color="#30ff00"/><stop offset="0.8659" stop-color="#30ff00"/><stop offset="0.8902" stop-color="#30ff00"/><stop offset="0.9146" stop-color="#30ff00"/><stop offset="0.9390" stop-color="#30ff00"/><stop offset="0.9634" stop-color="#30ff00"/><stop offset="0.9878" stop-color="#30ff00"/></linearGradient><linearGradient id="g43"><stop offset="0.0200" stop-color="#00e8ff"/><stop offset="0.0600" stop-color="#00ffd8"/><stop offset="0.1000" stop-color="#00ffd8"/><stop offset="0.1400" stop-color="#00ffd8"/><stop offset="0.1800" stop-color="#0050ff"/><stop offset="0.2200" stop-color="#0008ff"/><stop offset="0.2600" stop-color="#5000b8"/><stop offset="0.3000" stop-color="#5a0090"/><stop offset="0.3400" stop-color="#5a0090"/><stop offset="0.3800" stop-color="#5a0090"/><stop offset="0.4200" stop-color="#5000b8"/><stop offset="0.4600" stop-color="#0050ff"/><stop offset="0.5000" stop-color="#5a0090"/><stop offset="0.5400" stop-color="#5000b8"/><stop offset="0.5800" stop-color="#5a0090"/><stop offset="0.6200" stop-color="#5a0090"/><stop offset="0.6600" stop-color="#5a0090"/><stop offset="0.7000" stop-color="#5a0090"/><stop offset="0.7400" stop-color="#5a0090"/><stop offset="0.7800" stop-color="#46004e"/><stop offset="0.8200" stop-color="#5a0090"/><stop offset="0.8600" stop-color="#5a0090"/><stop offset="0.9000" stop-color="#5000b8"/><stop offset="0.9400" stop-color="#5000b8"/><stop offset="0.9800" stop-color="#5000b8"/></linearGradient><linearGradient id="g44"><stop offset="0.0714" stop-color="#5a0090"/><stop offset="0.2143" stop-color="#5a0090"/><stop offset="0.3571" stop-color="#5a0090"/><stop offset="0.5000" stop-color="#5a0090"/><stop offset="0.6429" stop-color="#5a0090"/><stop offset="0.7857" stop-color="#5a0090"/><stop offset="0.9286" stop-color="#5000b8"/></linearGradient><linearGradient id="g45"><stop offset="0.0122" stop-color="#00e8ff"/><stop offset="0.0366" stop-color="#00e8ff"/><stop offset="0.0610" stop-color="#00e8ff"/><stop offset="0.0854" stop-color="#00ffd8"/><stop offset="0.1098" stop-color="#00ffd8"/><stop offset="0.1341" stop-color="#0050ff"/><stop offset="0.1585" stop-color="#0008ff"/><stop offset="0.1829" stop-color="#00e8ff"/><stop offset="0.2073" stop-color="#00ff50"/><stop offset="0.2317" stop-color="#00ff50"/><stop offset="0.2561" stop-color="#30ff00"/><stop offset="0.2805" stop-color="#30ff00"/><stop offset="0.3049" stop-color="#a0ff00"/><stop offset="0.3293" stop-color="#f0ff00"/><stop offset="0.3537" stop-color="#ffc000"/><stop offset="0.3780" stop-color="#30ff00"/><stop offset="0.4024" stop-color="#00ffd8"/><stop offset="0.4268" stop-color="#0050ff"/><stop offset="0.4512" stop-color="#00ff50"/><stop offset="0.4756" stop-color="#00ff50"/><stop offset="0.5000" stop-color="#f0ff00"/><stop offset="0.5244" stop-color="#a0ff00"/><stop offset="0.5488" stop-color="#30ff00"/><stop offset="0.5732" stop-color="#30ff00"/><stop offset="0.5976" stop-color="#30ff00"/><stop offset="0.6220" stop-color="#30ff00"/><stop offset="0.6463" stop-color="#30ff00"/><stop offset="0.6707" stop-color="#f0ff00"/><stop offset="0.6951" stop-color="#a0ff00"/><stop offset="0.7195" stop-color="#30ff00"/><stop offset="0.7439" stop-color="#a0ff00"/><stop offset="0.7683" stop-color="#a0ff00"/><stop offset="0.7927" stop-color="#30ff00"/><stop offset="0.8171" stop-color="#30ff00"/><stop offset="0.8415" stop-color="#30ff00"/><stop offset="0.8659" stop-color="#30ff00"/><stop offset="0.8902" stop-color="#30ff00"/><stop offset="0.9146" stop-color="#30ff00"/><stop offset="0.9390" stop-color="#30ff00"/><stop offset="0.9634" stop-color="#30ff00"/><stop offset="0.9878" stop-color="#30ff00"/></linearGradient><linearGradient id="g46"><stop offset="0.0200" stop-color="#00ff50"/><stop offset="0.0600" stop-color="#00ff50"/><stop offset="0.1000" stop-color="#00ff50"/><stop offset="0.1400" stop-color="#00ffd8"/><stop offset="0.1800" stop-color="#0098ff"/><stop offset="0.2200" stop-color="#0050ff"/><stop offset="0.2600" stop-color="#0008ff"/><stop offset="0.3000" stop-color="#5000b8"/><stop offset="0.3400" stop-color="#5000b8"/><stop offset="0.3800" stop-color="#5000b8"/><stop offset="0.4200" stop-color="#5000b8"/><stop offset="0.4600" stop-color="#5a0090"/><stop offset="0.5000" stop-color="#5a0090"/><stop offset="0.5400" stop-color="#5a0090"/><stop offset="0.5800" stop-color="#5a0090"/><stop offset="0.6200" stop-color="#5a0090"/><stop offset="0.6600" stop-color="#5a0090"/><stop offset="0.7000" stop-color="#5a0090"/><stop offset="0.7400" stop-color="#46004e"/><stop offset="0.7800" stop-color="#46004e"/><stop offset="0.8200" stop-color="#5a0090"/><stop offset="0.8600" stop-color="#5000b8"/><stop offset="0.9000" stop-color="#0008ff"/><stop offset="0.9400" stop-color="#0008ff"/><stop offset="0.9800" stop-color="#0008ff"/></linearGradient><linearGradient id="g47"><stop offset="0.0714" stop-color="#5a0090"/><stop offset="0.2143" stop-color="#5a0090"/><stop offset="0.3571" stop-color="#5a0090"/><stop offset="0.5000" stop-color="#5a0090"/><stop offset="0.6429" stop-color="#5a0090"/><stop offset="0.7857" stop-color="#5a0090"/><stop offset="0.9286" stop-color="#5000b8"/></linearGradient><linearGradient id="g48"><stop offset="0.0122" stop-color="#5000b8"/><stop offset="0.0366" stop-color="#0008ff"/><stop offset="0.0610" stop-color="#0008ff"/><stop offset="0.0854" stop-color="#5000b8"/><stop offset="0.1098" stop-color="#5000b8"/><stop offset="0.1341" stop-color="#0050ff"/><stop offset="0.1585" stop-color="#00ff50"/><stop offset="0.1829" stop-color="#00ff50"/><stop offset="0.2073" stop-color="#00ff50"/><stop offset="0.2317" stop-color="#00ff50"/><stop offset="0.2561" stop-color="#00ff50"/><stop offset="0.2805" stop-color="#30ff00"/><stop offset="0.3049" stop-color="#30ff00"/><stop offset="0.3293" stop-color="#a0ff00"/><stop offset="0.3537" stop-color="#f0ff00"/><stop offset="0.3780" stop-color="#30ff00"/><stop offset="0.4024" stop-color="#30ff00"/><stop offset="0.4268" stop-color="#30ff00"/><stop offset="0.4512" stop-color="#00ff50"/><stop offset="0.4756" stop-color="#00ff50"/><stop offset="0.5000" stop-color="#ffc000"/><stop offset="0.5244" stop-color="#30ff00"/><stop offset="0.5488" stop-color="#30ff00"/><stop offset="0.5732" stop-color="#30ff00"/><stop offset="0.5976" stop-color="#30ff00"/><stop offset="0.6220" stop-color="#30ff00"/><stop offset="0.6463" stop-color="#a0ff00"/><stop offset="0.6707" stop-color="#f0ff00"/><stop offset="0.6951" stop-color="#a0ff00"/><stop offset="0.7195" stop-color="#30ff00"/><stop offset="0.7439" stop-color="#a0ff00"/><stop offset="0.7683" stop-color="#ff8000"/><stop offset="0.7927" stop-color="#30ff00"/><stop offset="0.8171" stop-color="#30ff00"/><stop offset="0.8415" stop-color="#30ff00"/><stop offset="0.8659" stop-color="#30ff00"/><stop offset="0.8902" stop-color="#30ff00"/><stop offset="0.9146" stop-color="#30ff00"/><stop offset="0.9390" stop-color="#30ff00"/><stop offset="0.9634" stop-color="#30ff00"/><stop offset="0.9878" stop-color="#30ff00"/></linearGradient><linearGradient id="g49"><stop offset="0.0200" stop-color="#00ff50"/><stop offset="0.0600" stop-color="#00ff50"/><stop offset="0.1000" stop-color="#00ff50"/><stop offset="0.1400" stop-color="#00ffa0"/><stop offset="0.1800" stop-color="#00e8ff"/><stop offset="0.2200" stop-color="#0098ff"/><stop offset="0.2600" stop-color="#0050ff"/><stop offset="0.3000" stop-color="#0050ff"/><stop offset="0.3400" stop-color="#0050ff"/><stop offset="0.3800" stop-color="#0050ff"/><stop offset="0.4200" stop-color="#0008ff"/><stop offset="0.4600" stop-color="#0008ff"/><stop offset="0.5000" stop-color="#5000b8"/><stop offset="0.5400" stop-color="#5000b8"/><stop offset="0.5800" stop-color="#5000b8"/><stop offset="0.6200" stop-color="#5a0090"/><stop offset="0.6600" stop-color="#5a0090"/><stop offset="0.7000" stop-color="#5a0090"/><stop offset="0.7400" stop-color="#5a0090"/><stop offset="0.7800" stop-color="#5a0090"/><stop offset="0.8200" stop-color="#5000b8"/><stop offset="0.8600" stop-color="#0008ff"/><stop offset="0.9000" stop-color="#0008ff"/><stop offset="0.9400" stop-color="#0008ff"/><stop offset="0.9800" stop-color="#0008ff"/></linearGradient><linearGradient id="g50"><stop offset="0.0208" stop-color="#5a0090"/><stop offset="0.0625" stop-color="#46004e"/><stop offset="0.1042" stop-color="#5a0090"/><stop offset="0.1458" stop-color="#5000b8"/><stop offset="0.1875" stop-color="#0008ff"/><stop offset="0.2292" stop-color="#00e8ff"/><stop offset="0.2708" stop-color="#00ff50"/><stop offset="0.3125" stop-color="#00ff50"/><stop offset="0.3542" stop-color="#00ff50"/><stop offset="0.3958" stop-color="#00ffd8"/><stop offset="0.4375" stop-color="#00ffd8"/><stop offset="0.4792" stop-color="#00ff50"/><stop offset="0.5208" stop-color="#30ff00"/><stop offset="0.5625" stop-color="#a0ff00"/><stop offset="0.6042" stop-color="#30ff00"/><stop offset="0.6458" stop-color="#00e8ff"/><stop offset="0.6875" stop-color="#00ffd8"/><stop offset="0.7292" stop-color="#00ff50"/><stop offset="0.7708" stop-color="#30ff00"/><stop offset="0.8125" stop-color="#f0ff00"/><stop offset="0.8542" stop-color="#f0ff00"/><stop offset="0.8958" stop-color="#30ff00"/><stop offset="0.9375" stop-color="#30ff00"/><stop offset="0.9792" stop-color="#30ff00"/></linearGradient><linearGradient id="g51"><stop offset="0.1250" stop-color="#a0ff00"/><stop offset="0.3750" stop-color="#ffc000"/><stop offset="0.6250" stop-color="#f0ff00"/><stop offset="0.8750" stop-color="#30ff00"/></linearGradient><linearGradient id="g52"><stop offset="0.0500" stop-color="#ffc000"/><stop offset="0.1500" stop-color="#30ff00"/><stop offset="0.2500" stop-color="#30ff00"/><stop offset="0.3500" stop-color="#00ff50"/><stop offset="0.4500" stop-color="#00ff50"/><stop offset="0.5500" stop-color="#30ff00"/><stop offset="0.6500" stop-color="#30ff00"/><stop offset="0.7500" stop-color="#30ff00"/><stop offset="0.8500" stop-color="#30ff00"/><stop offset="0.9500" stop-color="#30ff00"/></linearGradient><linearGradient id="g53"><stop offset="0.0200" stop-color="#00ff50"/><stop offset="0.0600" stop-color="#00ff50"/><stop offset="0.1000" stop-color="#00ffa0"/><stop offset="0.1400" stop-color="#0098ff"/><stop offset="0.1800" stop-color="#0008ff"/><stop offset="0.2200" stop-color="#0008ff"/><stop offset="0.2600" stop-color="#0008ff"/><stop offset="0.3000" stop-color="#0008ff"/><stop offset="0.3400" stop-color="#0008ff"/><stop offset="0.3800" stop-color="#0008ff"/><stop offset="0.4200" stop-color="#5000b8"/><stop offset="0.4600" stop-color="#5000b8"/><stop offset="0.5000" stop-color="#5a0090"/><stop offset="0.5400" stop-color="#5000b8"/><stop offset="0.5800" stop-color="#0008ff"/><stop offset="0.6200" stop-color="#0008ff"/><stop offset="0.6600" stop-color="#0008ff"/><stop offset="0.7000" stop-color="#0008ff"/><stop offset="0.7400" stop-color="#5000b8"/><stop offset="0.7800" stop-color="#5000b8"/><stop offset="0.8200" stop-color="#0008ff"/><stop offset="0.8600" stop-color="#0008ff"/><stop offset="0.9000" stop-color="#0008ff"/><stop offset="0.9400" stop-color="#0008ff"/><stop offset="0.9800" stop-color="#5000b8"/></linearGradient><linearGradient id="g54"><stop offset="0.0714" stop-color="#5a0090"/><stop offset="0.2143" stop-color="#5a0090"/><stop offset="0.3571" stop-color="#5a0090"/><stop offset="0.5000" stop-color="#5a0090"/><stop offset="0.6429" stop-color="#5a0090"/><stop offset="0.7857" stop-color="#5a0090"/><stop offset="0.9286" stop-color="#5000b8"/></linearGradient><linearGradient id="g55"><stop offset="0.0227" stop-color="#5a0090"/><stop offset="0.0682" stop-color="#5a0090"/><stop offset="0.1136" stop-color="#5a0090"/><stop offset="0.1591" stop-color="#5000b8"/><stop offset="0.2045" stop-color="#0050ff"/><stop offset="0.2500" stop-color="#00ffd8"/><stop offset="0.2955" stop-color="#00ff50"/><stop offset="0.3409" stop-color="#00ff50"/><stop offset="0.3864" stop-color="#00ffd8"/><stop offset="0.4318" stop-color="#00e8ff"/><stop offset="0.4773" stop-color="#00e8ff"/><stop offset="0.5227" stop-color="#00ffd8"/><stop offset="0.5682" stop-color="#00ff50"/><stop offset="0.6136" stop-color="#30ff00"/><stop offset="0.6591" stop-color="#30ff00"/><stop offset="0.7045" stop-color="#30ff00"/><stop offset="0.7500" stop-color="#00ffd8"/><stop offset="0.7955" stop-color="#00e8ff"/><stop offset="0.8409" stop-color="#30ff00"/><stop offset="0.8864" stop-color="#a0ff00"/><stop offset="0.9318" stop-color="#f0ff00"/><stop offset="0.9773" stop-color="#a0ff00"/></linearGradient><linearGradient id="g56"><stop offset="0.1250" stop-color="#f0ff00"/><stop offset="0.3750" stop-color="#ffc000"/><stop offset="0.6250" stop-color="#a0ff00"/><stop offset="0.8750" stop-color="#30ff00"/></linearGradient><linearGradient id="g57"><stop offset="0.0500" stop-color="#a0ff00"/><stop offset="0.1500" stop-color="#a0ff00"/><stop offset="0.2500" stop-color="#00ff50"/><stop offset="0.3500" stop-color="#00ff50"/><stop offset="0.4500" stop-color="#30ff00"/><stop offset="0.5500" stop-color="#30ff00"/><stop offset="0.6500" stop-color="#30ff00"/><stop offset="0.7500" stop-color="#30ff00"/><stop offset="0.8500" stop-color="#30ff00"/><stop offset="0.9500" stop-color="#30ff00"/></linearGradient><linearGradient id="g58"><stop offset="0.0200" stop-color="#00ff50"/><stop offset="0.0600" stop-color="#00ffa0"/><stop offset="0.1000" stop-color="#00e8ff"/><stop offset="0.1400" stop-color="#0050ff"/><stop offset="0.1800" stop-color="#0050ff"/><stop offset="0.2200" stop-color="#0050ff"/><stop offset="0.2600" stop-color="#0008ff"/><stop offset="0.3000" stop-color="#0008ff"/><stop offset="0.3400" stop-color="#0008ff"/><stop offset="0.3800" stop-color="#0098ff"/><stop offset="0.4200" stop-color="#0008ff"/><stop offset="0.4600" stop-color="#0008ff"/><stop offset="0.5000" stop-color="#5000b8"/><stop offset="0.5400" stop-color="#0008ff"/><stop offset="0.5800" stop-color="#0008ff"/><stop offset="0.6200" stop-color="#0008ff"/><stop offset="0.6600" stop-color="#5000b8"/><stop offset="0.7000" stop-color="#0008ff"/><stop offset="0.7400" stop-color="#0008ff"/><stop offset="0.7800" stop-color="#0008ff"/><stop offset="0.8200" stop-color="#0050ff"/><stop offset="0.8600" stop-color="#0050ff"/><stop offset="0.9000" stop-color="#0008ff"/><stop offset="0.9400" stop-color="#0008ff"/><stop offset="0.9800" stop-color="#0008ff"/></linearGradient><linearGradient id="g59"><stop offset="0.0714" stop-color="#5000b8"/><stop offset="0.2143" stop-color="#5a0090"/><stop offset="0.3571" stop-color="#5a0090"/><stop offset="0.5000" stop-color="#5a0090"/><stop offset="0.6429" stop-color="#5a0090"/><stop offset="0.7857" stop-color="#5a0090"/><stop offset="0.9286" stop-color="#5a0090"/></linearGradient><linearGradient id="g60"><stop offset="0.0250" stop-color="#5a0090"/><stop offset="0.0750" stop-color="#5a0090"/><stop offset="0.1250" stop-color="#5a0090"/><stop offset="0.1750" stop-color="#0008ff"/><stop offset="0.2250" stop-color="#0098ff"/><stop offset="0.2750" stop-color="#00ffd8"/><stop offset="0.3250" stop-color="#00ff50"/><stop offset="0.3750" stop-color="#00ff50"/><stop offset="0.4250" stop-color="#00e8ff"/><stop offset="0.4750" stop-color="#0050ff"/><stop offset="0.5250" stop-color="#0098ff"/><stop offset="0.5750" stop-color="#00e8ff"/><stop offset="0.6250" stop-color="#00ff50"/><stop offset="0.6750" stop-color="#30ff00"/><stop offset="0.7250" stop-color="#30ff00"/><stop offset="0.7750" stop-color="#00ff50"/><stop offset="0.8250" stop-color="#0008ff"/><stop offset="0.8750" stop-color="#0008ff"/><stop offset="0.9250" stop-color="#00ff50"/><stop offset="0.9750" stop-color="#30ff00"/></linearGradient><linearGradient id="g61"><stop offset="0.1250" stop-color="#a0ff00"/><stop offset="0.3750" stop-color="#f0ff00"/><stop offset="0.6250" stop-color="#a0ff00"/><stop offset="0.8750" stop-color="#30ff00"/></linearGradient><linearGradient id="g62"><stop offset="0.0500" stop-color="#a0ff00"/><stop offset="0.1500" stop-color="#a0ff00"/><stop offset="0.2500" stop-color="#a0ff00"/><stop offset="0.3500" stop-color="#a0ff00"/><stop offset="0.4500" stop-color="#a0ff00"/><stop offset="0.5500" stop-color="#a0ff00"/><stop offset="0.6500" stop-color="#60ff00"/><stop offset="0.7500" stop-color="#60ff00"/><stop offset="0.8500" stop-color="#60ff00"/><stop offset="0.9500" stop-color="#60ff00"/></linearGradient><linearGradient id="g63"><stop offset="0.0200" stop-color="#00ffd8"/><stop offset="0.0600" stop-color="#0098ff"/><stop offset="0.1000" stop-color="#0098ff"/><stop offset="0.1400" stop-color="#0098ff"/><stop offset="0.1800" stop-color="#0050ff"/><stop offset="0.2200" stop-color="#0050ff"/><stop offset="0.2600" stop-color="#0050ff"/><stop offset="0.3000" stop-color="#0050ff"/><stop offset="0.3400" stop-color="#0008ff"/><stop offset="0.3800" stop-color="#5000b8"/><stop offset="0.4200" stop-color="#0098ff"/><stop offset="0.4600" stop-color="#5000b8"/><stop offset="0.5000" stop-color="#5a0090"/><stop offset="0.5400" stop-color="#5a0090"/><stop offset="0.5800" stop-color="#5a0090"/><stop offset="0.6200" stop-color="#5a0090"/><stop offset="0.6600" stop-color="#5a0090"/><stop offset="0.7000" stop-color="#5a0090"/><stop offset="0.7400" stop-color="#5a0090"/><stop offset="0.7800" stop-color="#5000b8"/><stop offset="0.8200" stop-color="#0008ff"/><stop offset="0.8600" stop-color="#0050ff"/><stop offset="0.9000" stop-color="#0008ff"/><stop offset="0.9400" stop-color="#0008ff"/><stop offset="0.9800" stop-color="#0008ff"/></linearGradient><linearGradient id="g64"><stop offset="0.0278" stop-color="#5a0090"/><stop offset="0.0833" stop-color="#5a0090"/><stop offset="0.1389" stop-color="#5a0090"/><stop offset="0.1944" stop-color="#0008ff"/><stop offset="0.2500" stop-color="#0098ff"/><stop offset="0.3056" stop-color="#00e8ff"/><stop offset="0.3611" stop-color="#00ffd8"/><stop offset="0.4167" stop-color="#00ffd8"/><stop offset="0.4722" stop-color="#00e8ff"/><stop offset="0.5278" stop-color="#0008ff"/><stop offset="0.5833" stop-color="#0098ff"/><stop offset="0.6389" stop-color="#00e8ff"/><stop offset="0.6944" stop-color="#00ff50"/><stop offset="0.7500" stop-color="#30ff00"/><stop offset="0.8056" stop-color="#30ff00"/><stop offset="0.8611" stop-color="#00ffd8"/><stop offset="0.9167" stop-color="#0050ff"/><stop offset="0.9722" stop-color="#5000b8"/></linearGradient><linearGradient id="g65"><stop offset="0.1250" stop-color="#a0ff00"/><stop offset="0.3750" stop-color="#a0ff00"/><stop offset="0.6250" stop-color="#60ff00"/><stop offset="0.8750" stop-color="#30ff00"/></linearGradient><linearGradient id="g66"><stop offset="0.0500" stop-color="#f0ff00"/><stop offset="0.1500" stop-color="#f0ff00"/><stop offset="0.2500" stop-color="#f0ff00"/><stop offset="0.3500" stop-color="#f0ff00"/><stop offset="0.4500" stop-color="#a0ff00"/><stop offset="0.5500" stop-color="#a0ff00"/><stop offset="0.6500" stop-color="#a0ff00"/><stop offset="0.7500" stop-color="#a0ff00"/><stop offset="0.8500" stop-color="#a0ff00"/><stop offset="0.9500" stop-color="#a0ff00"/></linearGradient><linearGradient id="g67"><stop offset="0.0312" stop-color="#00ffd8"/><stop offset="0.0938" stop-color="#00ffd8"/><stop offset="0.1562" stop-color="#00ffd8"/><stop offset="0.2188" stop-color="#00ffd8"/><stop offset="0.2812" stop-color="#00ffd8"/><stop offset="0.3438" stop-color="#00e8ff"/><stop offset="0.4062" stop-color="#00e8ff"/><stop offset="0.4688" stop-color="#00e8ff"/><stop offset="0.5312" stop-color="#0098ff"/><stop offset="0.5938" stop-color="#0050ff"/><stop offset="0.6562" stop-color="#0008ff"/><stop offset="0.7188" stop-color="#5000b8"/><stop offset="0.7812" stop-color="#46004e"/><stop offset="0.8438" stop-color="#46004e"/><stop offset="0.9062" stop-color="#5a0090"/><stop offset="0.9688" stop-color="#5a0090"/></linearGradient><linearGradient id="g68"><stop offset="0.1000" stop-color="#5a0090"/><stop offset="0.3000" stop-color="#5a0090"/><stop offset="0.5000" stop-color="#5a0090"/><stop offset="0.7000" stop-color="#5a0090"/><stop offset="0.9000" stop-color="#5000b8"/></linearGradient><linearGradient id="g69"><stop offset="0.0357" stop-color="#5a0090"/><stop offset="0.1071" stop-color="#5a0090"/><stop offset="0.1786" stop-color="#5a0090"/><stop offset="0.2500" stop-color="#0008ff"/><stop offset="0.3214" stop-color="#0050ff"/><stop offset="0.3929" stop-color="#00e8ff"/><stop offset="0.4643" stop-color="#00e8ff"/><stop offset="0.5357" stop-color="#00ffd8"/><stop offset="0.6071" stop-color="#0098ff"/><stop offset="0.6786" stop-color="#0008ff"/><stop offset="0.7500" stop-color="#0050ff"/><stop offset="0.8214" stop-color="#00e8ff"/><stop offset="0.8929" stop-color="#00ff50"/><stop offset="0.9643" stop-color="#30ff00"/></linearGradient><linearGradient id="g70"><stop offset="0.1250" stop-color="#a0ff00"/><stop offset="0.3750" stop-color="#a0ff00"/><stop offset="0.6250" stop-color="#a0ff00"/><stop offset="0.8750" stop-color="#30ff00"/></linearGradient><linearGradient id="g71"><stop offset="0.0500" stop-color="#a0ff00"/><stop offset="0.1500" stop-color="#a0ff00"/><stop offset="0.2500" stop-color="#a0ff00"/><stop offset="0.3500" stop-color="#60ff00"/><stop offset="0.4500" stop-color="#30ff00"/><stop offset="0.5500" stop-color="#30ff00"/><stop offset="0.6500" stop-color="#30ff00"/><stop offset="0.7500" stop-color="#30ff00"/><stop offset="0.8500" stop-color="#30ff00"/><stop offset="0.9500" stop-color="#30ff00"/></linearGradient><linearGradient id="g72"><stop offset="0.0312" stop-color="#0098ff"/><stop offset="0.0938" stop-color="#00ffa0"/><stop offset="0.1562" stop-color="#00ffa0"/><stop offset="0.2188" stop-color="#00ffa0"/><stop offset="0.2812" stop-color="#00ffa0"/><stop offset="0.3438" stop-color="#00ffa0"/><stop offset="0.4062" stop-color="#00ffd8"/><stop offset="0.4688" stop-color="#00e8ff"/><stop offset="0.5312" stop-color="#0098ff"/><stop offset="0.5938" stop-color="#0050ff"/><stop offset="0.6562" stop-color="#0008ff"/><stop offset="0.7188" stop-color="#5000b8"/><stop offset="0.7812" stop-color="#5a0090"/><stop offset="0.8438" stop-color="#5000b8"/><stop offset="0.9062" stop-color="#5000b8"/><stop offset="0.9688" stop-color="#5000b8"/></linearGradient><linearGradient id="g73"><stop offset="0.1250" stop-color="#5a0090"/><stop offset="0.3750" stop-color="#5a0090"/><stop offset="0.6250" stop-color="#5a0090"/><stop offset="0.8750" stop-color="#5000b8"/></linearGradient><linearGradient id="g74"><stop offset="0.0625" stop-color="#0050ff"/><stop offset="0.1875" stop-color="#00e8ff"/><stop offset="0.3125" stop-color="#0098ff"/><stop offset="0.4375" stop-color="#0008ff"/><stop offset="0.5625" stop-color="#0050ff"/><stop offset="0.6875" stop-color="#00e8ff"/><stop offset="0.8125" stop-color="#00ff50"/><stop offset="0.9375" stop-color="#30ff00"/></linearGradient><linearGradient id="g75"><stop offset="0.1250" stop-color="#30ff00"/><stop offset="0.3750" stop-color="#00ff50"/><stop offset="0.6250" stop-color="#30ff00"/><stop offset="0.8750" stop-color="#00ff50"/></linearGradient><linearGradient id="g76"><stop offset="0.0500" stop-color="#60ff00"/><stop offset="0.1500" stop-color="#30ff00"/><stop offset="0.2500" stop-color="#30ff00"/><stop offset="0.3500" stop-color="#30ff00"/><stop offset="0.4500" stop-color="#30ff00"/><stop offset="0.5500" stop-color="#00ff50"/><stop offset="0.6500" stop-color="#00ff50"/><stop offset="0.7500" stop-color="#00ff50"/><stop offset="0.8500" stop-color="#00ffd8"/><stop offset="0.9500" stop-color="#00ffd8"/></linearGradient><linearGradient id="g77"><stop offset="0.0333" stop-color="#0008ff"/><stop offset="0.1000" stop-color="#0098ff"/><stop offset="0.1667" stop-color="#00ffa0"/><stop offset="0.2333" stop-color="#00ff50"/><stop offset="0.3000" stop-color="#00ff50"/><stop offset="0.3667" stop-color="#00ff50"/><stop offset="0.4333" stop-color="#00ffa0"/><stop offset="0.5000" stop-color="#00e8ff"/><stop offset="0.5667" stop-color="#0098ff"/><stop offset="0.6333" stop-color="#0050ff"/><stop offset="0.7000" stop-color="#0008ff"/><stop offset="0.7667" stop-color="#0008ff"/><stop offset="0.8333" stop-color="#0008ff"/><stop offset="0.9000" stop-color="#0050ff"/><stop offset="0.9667" stop-color="#0008ff"/></linearGradient><linearGradient id="g78"><stop offset="0.1250" stop-color="#5a0090"/><stop offset="0.3750" stop-color="#5a0090"/><stop offset="0.6250" stop-color="#5000b8"/><stop offset="0.8750" stop-color="#5000b8"/></linearGradient><linearGradient id="g79"><stop offset="0.0625" stop-color="#0050ff"/><stop offset="0.1875" stop-color="#00e8ff"/><stop offset="0.3125" stop-color="#0098ff"/><stop offset="0.4375" stop-color="#00e8ff"/><stop offset="0.5625" stop-color="#00ffd8"/><stop offset="0.6875" stop-color="#00ff50"/><stop offset="0.8125" stop-color="#30ff00"/><stop offset="0.9375" stop-color="#a0ff00"/></linearGradient><linearGradient id="g80"><stop offset="0.1250" stop-color="#00ffd8"/><stop offset="0.3750" stop-color="#00ff50"/><stop offset="0.6250" stop-color="#00ffd8"/><stop offset="0.8750" stop-color="#00ffd8"/></linearGradient><linearGradient id="g81"><stop offset="0.0500" stop-color="#30ff00"/><stop offset="0.1500" stop-color="#30ff00"/><stop offset="0.2500" stop-color="#00ff50"/><stop offset="0.3500" stop-color="#00ff50"/><stop offset="0.4500" stop-color="#00ff50"/><stop offset="0.5500" stop-color="#00ffd8"/><stop offset="0.6500" stop-color="#00ffd8"/><stop offset="0.7500" stop-color="#00e8ff"/><stop offset="0.8500" stop-color="#00e8ff"/><stop offset="0.9500" stop-color="#0050ff"/></linearGradient><linearGradient id="g82"><stop offset="0.0357" stop-color="#0008ff"/><stop offset="0.1071" stop-color="#0050ff"/><stop offset="0.1786" stop-color="#0050ff"/><stop offset="0.2500" stop-color="#0098ff"/><stop offset="0.3214" stop-color="#0098ff"/><stop offset="0.3929" stop-color="#00e8ff"/><stop offset="0.4643" stop-color="#00e8ff"/><stop offset="0.5357" stop-color="#0098ff"/><stop offset="0.6071" stop-color="#0098ff"/><stop offset="0.6786" stop-color="#0098ff"/><stop offset="0.7500" stop-color="#0050ff"/><stop offset="0.8214" stop-color="#0050ff"/><stop offset="0.8929" stop-color="#0008ff"/><stop offset="0.9643" stop-color="#5a0090"/></linearGradient><linearGradient id="g83"><stop offset="0.2500" stop-color="#5000b8"/><stop offset="0.7500" stop-color="#5a0090"/></linearGradient><linearGradient id="g84"><stop offset="0.1667" stop-color="#5a0090"/><stop offset="0.5000" stop-color="#5000b8"/><stop offset="0.8333" stop-color="#5000b8"/></linearGradient><linearGradient id="g85"><stop offset="0.0625" stop-color="#0098ff"/><stop offset="0.1875" stop-color="#00e8ff"/><stop offset="0.3125" stop-color="#00ffd8"/><stop offset="0.4375" stop-color="#00ffd8"/><stop offset="0.5625" stop-color="#00ff50"/><stop offset="0.6875" stop-color="#30ff00"/><stop offset="0.8125" stop-color="#a0ff00"/><stop offset="0.9375" stop-color="#ffc000"/></linearGradient><linearGradient id="g86"><stop offset="0.1250" stop-color="#0098ff"/><stop offset="0.3750" stop-color="#00e8ff"/><stop offset="0.6250" stop-color="#00ffd8"/><stop offset="0.8750" stop-color="#00ffd8"/></linearGradient><linearGradient id="g87"><stop offset="0.0500" stop-color="#30ff00"/><stop offset="0.1500" stop-color="#00ff50"/><stop offset="0.2500" stop-color="#00ff50"/><stop offset="0.3500" stop-color="#00ff50"/><stop offset="0.4500" stop-color="#00ffd8"/><stop offset="0.5500" stop-color="#00ffd8"/><stop offset="0.6500" stop-color="#00e8ff"/><stop offset="0.7500" stop-color="#00e8ff"/><stop offset="0.8500" stop-color="#0098ff"/><stop offset="0.9500" stop-color="#0050ff"/></linearGradient><linearGradient id="g88"><stop offset="0.0357" stop-color="#0008ff"/><stop offset="0.1071" stop-color="#0008ff"/><stop offset="0.1786" stop-color="#0050ff"/><stop offset="0.2500" stop-color="#0098ff"/><stop offset="0.3214" stop-color="#0050ff"/><stop offset="0.3929" stop-color="#0050ff"/><stop offset="0.4643" stop-color="#00e8ff"/><stop offset="0.5357" stop-color="#00e8ff"/><stop offset="0.6071" stop-color="#00e8ff"/><stop offset="0.6786" stop-color="#0098ff"/><stop offset="0.7500" stop-color="#0050ff"/><stop offset="0.8214" stop-color="#0008ff"/><stop offset="0.8929" stop-color="#5a0090"/><stop offset="0.9643" stop-color="#5a0090"/></linearGradient><linearGradient id="g89"><stop offset="0.1667" stop-color="#5000b8"/><stop offset="0.5000" stop-color="#5000b8"/><stop offset="0.8333" stop-color="#0008ff"/></linearGradient><linearGradient id="g90"><stop offset="0.1000" stop-color="#50006e"/><stop offset="0.3000" stop-color="#50006e"/><stop offset="0.5000" stop-color="#50006e"/><stop offset="0.7000" stop-color="#50006e"/><stop offset="0.9000" stop-color="#5a0090"/></linearGradient><linearGradient id="g91"><stop offset="0.1667" stop-color="#5000b8"/><stop offset="0.5000" stop-color="#5000b8"/><stop offset="0.8333" stop-color="#0008ff"/></linearGradient><linearGradient id="g92"><stop offset="0.0625" stop-color="#00ffd8"/><stop offset="0.1875" stop-color="#00e8ff"/><stop offset="0.3125" stop-color="#0098ff"/><stop offset="0.4375" stop-color="#00ff50"/><stop offset="0.5625" stop-color="#30ff00"/><stop offset="0.6875" stop-color="#a0ff00"/><stop offset="0.8125" stop-color="#ffc000"/><stop offset="0.9375" stop-color="#ff8000"/></linearGradient><linearGradient id="g93"><stop offset="0.0500" stop-color="#30ff00"/><stop offset="0.1500" stop-color="#30ff00"/><stop offset="0.2500" stop-color="#00ff50"/><stop offset="0.3500" stop-color="#00ff50"/><stop offset="0.4500" stop-color="#00ffd8"/><stop offset="0.5500" stop-color="#00ffd8"/><stop offset="0.6500" stop-color="#00ffd8"/><stop offset="0.7500" stop-color="#00e8ff"/><stop offset="0.8500" stop-color="#00ffd8"/><stop offset="0.9500" stop-color="#00ffd8"/></linearGradient><linearGradient id="g94"><stop offset="0.0357" stop-color="#0008ff"/><stop offset="0.1071" stop-color="#5000b8"/><stop offset="0.1786" stop-color="#5000b8"/><stop offset="0.2500" stop-color="#5000b8"/><stop offset="0.3214" stop-color="#0008ff"/><stop offset="0.3929" stop-color="#0050ff"/><stop offset="0.4643" stop-color="#00e8ff"/><stop offset="0.5357" stop-color="#00e8ff"/><stop offset="0.6071" stop-color="#0098ff"/><stop offset="0.6786" stop-color="#0050ff"/><stop offset="0.7500" stop-color="#0008ff"/><stop offset="0.8214" stop-color="#0008ff"/><stop offset="0.8929" stop-color="#5000b8"/><stop offset="0.9643" stop-color="#5000b8"/></linearGradient><linearGradient id="g95"><stop offset="0.1000" stop-color="#50006e"/><stop offset="0.3000" stop-color="#50006e"/><stop offset="0.5000" stop-color="#50006e"/><stop offset="0.7000" stop-color="#50006e"/><stop offset="0.9000" stop-color="#5a0090"/></linearGradient><linearGradient id="g96"><stop offset="0.0625" stop-color="#00ffd8"/><stop offset="0.1875" stop-color="#00e8ff"/><stop offset="0.3125" stop-color="#0050ff"/><stop offset="0.4375" stop-color="#00ff50"/><stop offset="0.5625" stop-color="#30ff00"/><stop offset="0.6875" stop-color="#a0ff00"/><stop offset="0.8125" stop-color="#ff8000"/><stop offset="0.9375" stop-color="#ff8000"/></linearGradient><linearGradient id="g97"><stop offset="0.0500" stop-color="#30ff00"/><stop offset="0.1500" stop-color="#30ff00"/><stop offset="0.2500" stop-color="#00ff50"/><stop offset="0.3500" stop-color="#00ff50"/><stop offset="0.4500" stop-color="#00ff50"/><stop offset="0.5500" stop-color="#00ffd8"/><stop offset="0.6500" stop-color="#00ffd8"/><stop offset="0.7500" stop-color="#00e8ff"/><stop offset="0.8500" stop-color="#00e8ff"/><stop offset="0.9500" stop-color="#00e8ff"/></linearGradient><linearGradient id="g98"><stop offset="0.0357" stop-color="#0008ff"/><stop offset="0.1071" stop-color="#0050ff"/><stop offset="0.1786" stop-color="#0050ff"/><stop offset="0.2500" stop-color="#0098ff"/><stop offset="0.3214" stop-color="#00e8ff"/><stop offset="0.3929" stop-color="#00e8ff"/><stop offset="0.4643" stop-color="#30ff00"/><stop offset="0.5357" stop-color="#00ffa0"/><stop offset="0.6071" stop-color="#00e8ff"/><stop offset="0.6786" stop-color="#0098ff"/><stop offset="0.7500" stop-color="#0050ff"/><stop offset="0.8214" stop-color="#0008ff"/><stop offset="0.8929" stop-color="#5000b8"/><stop offset="0.9643" stop-color="#5000b8"/></linearGradient><linearGradient id="g99"><stop offset="0.1000" stop-color="#5a0090"/><stop offset="0.3000" stop-color="#5a0090"/><stop offset="0.5000" stop-color="#5a0090"/><stop offset="0.7000" stop-color="#5a0090"/><stop offset="0.9000" stop-color="#5000b8"/></linearGradient><linearGradient id="g100"><stop offset="0.0625" stop-color="#0098ff"/><stop offset="0.1875" stop-color="#00e8ff"/><stop offset="0.3125" stop-color="#0008ff"/><stop offset="0.4375" stop-color="#00ff50"/><stop offset="0.5625" stop-color="#30ff00"/><stop offset="0.6875" stop-color="#a0ff00"/><stop offset="0.8125" stop-color="#ff8000"/><stop offset="0.9375" stop-color="#ff8000"/></linearGradient><linearGradient id="g101"><stop offset="0.0500" stop-color="#00ff50"/><stop offset="0.1500" stop-color="#00ffd8"/><stop offset="0.2500" stop-color="#00ffd8"/><stop offset="0.3500" stop-color="#00e8ff"/><stop offset="0.4500" stop-color="#00e8ff"/><stop offset="0.5500" stop-color="#00e8ff"/><stop offset="0.6500" stop-color="#00e8ff"/><stop offset="0.7500" stop-color="#0098ff"/><stop offset="0.8500" stop-color="#0098ff"/><stop offset="0.9500" stop-color="#0098ff"/></linearGradient><linearGradient id="g102"><stop offset="0.0385" stop-color="#0008ff"/><stop offset="0.1154" stop-color="#0008ff"/><stop offset="0.1923" stop-color="#0050ff"/><stop offset="0.2692" stop-color="#0050ff"/><stop offset="0.3462" stop-color="#0098ff"/><stop offset="0.4231" stop-color="#00ff50"/><stop offset="0.5000" stop-color="#00ffa0"/><stop offset="0.5769" stop-color="#0098ff"/><stop offset="0.6538" stop-color="#0050ff"/><stop offset="0.7308" stop-color="#0008ff"/><stop offset="0.8077" stop-color="#0008ff"/><stop offset="0.8846" stop-color="#5a0090"/><stop offset="0.9615" stop-color="#5a0090"/></linearGradient><linearGradient id="g103"><stop offset="0.1000" stop-color="#5a0090"/><stop offset="0.3000" stop-color="#5a0090"/><stop offset="0.5000" stop-color="#5a0090"/><stop offset="0.7000" stop-color="#5000b8"/><stop offset="0.9000" stop-color="#5000b8"/></linearGradient><linearGradient id="g104"><stop offset="0.0625" stop-color="#0008ff"/><stop offset="0.1875" stop-color="#0008ff"/><stop offset="0.3125" stop-color="#0008ff"/><stop offset="0.4375" stop-color="#00ffd8"/><stop offset="0.5625" stop-color="#00ff50"/><stop offset="0.6875" stop-color="#30ff00"/><stop offset="0.8125" stop-color="#f0ff00"/><stop offset="0.9375" stop-color="#ff8000"/></linearGradient><linearGradient id="g105"><stop offset="0.1667" stop-color="#0050ff"/><stop offset="0.5000" stop-color="#0008ff"/><stop offset="0.8333" stop-color="#0050ff"/></linearGradient><linearGradient id="g106"><stop offset="0.0500" stop-color="#00ffd8"/><stop offset="0.1500" stop-color="#0098ff"/><stop offset="0.2500" stop-color="#0050ff"/><stop offset="0.3500" stop-color="#0050ff"/><stop offset="0.4500" stop-color="#0050ff"/><stop offset="0.5500" stop-color="#0050ff"/><stop offset="0.6500" stop-color="#0050ff"/><stop offset="0.7500" stop-color="#0050ff"/><stop offset="0.8500" stop-color="#0050ff"/><stop offset="0.9500" stop-color="#0050ff"/></linearGradient><linearGradient id="g107"><stop offset="0.0385" stop-color="#0008ff"/><stop offset="0.1154" stop-color="#0050ff"/><stop offset="0.1923" stop-color="#00e8ff"/><stop offset="0.2692" stop-color="#00e8ff"/><stop offset="0.3462" stop-color="#00e8ff"/><stop offset="0.4231" stop-color="#00ff50"/><stop offset="0.5000" stop-color="#00ff50"/><stop offset="0.5769" stop-color="#00e8ff"/><stop offset="0.6538" stop-color="#0098ff"/><stop offset="0.7308" stop-color="#0098ff"/><stop offset="0.8077" stop-color="#0008ff"/><stop offset="0.8846" stop-color="#5000b8"/><stop offset="0.9615" stop-color="#5000b8"/></linearGradient><linearGradient id="g108"><stop offset="0.0625" stop-color="#0008ff"/><stop offset="0.1875" stop-color="#0050ff"/><stop offset="0.3125" stop-color="#0008ff"/><stop offset="0.4375" stop-color="#00e8ff"/><stop offset="0.5625" stop-color="#00ff50"/><stop offset="0.6875" stop-color="#30ff00"/><stop offset="0.8125" stop-color="#ffc000"/><stop offset="0.9375" stop-color="#ff8000"/></linearGradient><linearGradient id="g109"><stop offset="0.0500" stop-color="#0050ff"/><stop offset="0.1500" stop-color="#0050ff"/><stop offset="0.2500" stop-color="#0008ff"/><stop offset="0.3500" stop-color="#0008ff"/><stop offset="0.4500" stop-color="#0008ff"/><stop offset="0.5500" stop-color="#0008ff"/><stop offset="0.6500" stop-color="#0008ff"/><stop offset="0.7500" stop-color="#0008ff"/><stop offset="0.8500" stop-color="#0008ff"/><stop offset="0.9500" stop-color="#0008ff"/></linearGradient><linearGradient id="g110"><stop offset="0.0385" stop-color="#0008ff"/><stop offset="0.1154" stop-color="#0098ff"/><stop offset="0.1923" stop-color="#0098ff"/><stop offset="0.2692" stop-color="#0098ff"/><stop offset="0.3462" stop-color="#0098ff"/><stop offset="0.4231" stop-color="#00ffa0"/><stop offset="0.5000" stop-color="#00ffd8"/><stop offset="0.5769" stop-color="#0050ff"/><stop offset="0.6538" stop-color="#0050ff"/><stop offset="0.7308" stop-color="#0008ff"/><stop offset="0.8077" stop-color="#5000b8"/><stop offset="0.8846" stop-color="#5000b8"/><stop offset="0.9615" stop-color="#5000b8"/></linearGradient><linearGradient id="g111"><stop offset="0.0625" stop-color="#00e8ff"/><stop offset="0.1875" stop-color="#00e8ff"/><stop offset="0.3125" stop-color="#0008ff"/><stop offset="0.4375" stop-color="#00ffd8"/><stop offset="0.5625" stop-color="#00ff50"/><stop offset="0.6875" stop-color="#a0ff00"/><stop offset="0.8125" stop-color="#f0ff00"/><stop offset="0.9375" stop-color="#ff8000"/></linearGradient><linearGradient id="g112"><stop offset="0.1667" stop-color="#0050ff"/><stop offset="0.5000" stop-color="#0050ff"/><stop offset="0.8333" stop-color="#0008ff"/></linearGradient><linearGradient id="g113"><stop offset="0.0556" stop-color="#00e8ff"/><stop offset="0.1667" stop-color="#00e8ff"/><stop offset="0.2778" stop-color="#00e8ff"/><stop offset="0.3889" stop-color="#0098ff"/><stop offset="0.5000" stop-color="#0098ff"/><stop offset="0.6111" stop-color="#0050ff"/><stop offset="0.7222" stop-color="#0098ff"/><stop offset="0.8333" stop-color="#0050ff"/><stop offset="0.9444" stop-color="#5000b8"/></linearGradient><linearGradient id="g114"><stop offset="0.0385" stop-color="#0008ff"/><stop offset="0.1154" stop-color="#0008ff"/><stop offset="0.1923" stop-color="#0008ff"/><stop offset="0.2692" stop-color="#0008ff"/><stop offset="0.3462" stop-color="#0008ff"/><stop offset="0.4231" stop-color="#0098ff"/><stop offset="0.5000" stop-color="#00e8ff"/><stop offset="0.5769" stop-color="#0050ff"/><stop offset="0.6538" stop-color="#0008ff"/><stop offset="0.7308" stop-color="#5000b8"/><stop offset="0.8077" stop-color="#5a0090"/><stop offset="0.8846" stop-color="#5000b8"/><stop offset="0.9615" stop-color="#5000b8"/></linearGradient><linearGradient id="g115"><stop offset="0.1250" stop-color="#0008ff"/><stop offset="0.3750" stop-color="#0008ff"/><stop offset="0.6250" stop-color="#0008ff"/><stop offset="0.8750" stop-color="#0050ff"/></linearGradient><linearGradient id="g116"><stop offset="0.0625" stop-color="#00e8ff"/><stop offset="0.1875" stop-color="#0098ff"/><stop offset="0.3125" stop-color="#0008ff"/><stop offset="0.4375" stop-color="#00e8ff"/><stop offset="0.5625" stop-color="#00ff50"/><stop offset="0.6875" stop-color="#a0ff00"/><stop offset="0.8125" stop-color="#ffc000"/><stop offset="0.9375" stop-color="#ff8000"/></linearGradient><linearGradient id="g117"><stop offset="0.1667" stop-color="#0098ff"/><stop offset="0.5000" stop-color="#0050ff"/><stop offset="0.8333" stop-color="#0098ff"/></linearGradient><linearGradient id="g118"><stop offset="0.0556" stop-color="#0050ff"/><stop offset="0.1667" stop-color="#0098ff"/><stop offset="0.2778" stop-color="#0098ff"/><stop offset="0.3889" stop-color="#0050ff"/><stop offset="0.5000" stop-color="#0008ff"/><stop offset="0.6111" stop-color="#0008ff"/><stop offset="0.7222" stop-color="#0050ff"/><stop offset="0.8333" stop-color="#0008ff"/><stop offset="0.9444" stop-color="#0008ff"/></linearGradient><linearGradient id="g119"><stop offset="0.0385" stop-color="#0008ff"/><stop offset="0.1154" stop-color="#0050ff"/><stop offset="0.1923" stop-color="#0098ff"/><stop offset="0.2692" stop-color="#0098ff"/><stop offset="0.3462" stop-color="#0050ff"/><stop offset="0.4231" stop-color="#00e8ff"/><stop offset="0.5000" stop-color="#00e8ff"/><stop offset="0.5769" stop-color="#0098ff"/><stop offset="0.6538" stop-color="#0050ff"/><stop offset="0.7308" stop-color="#0008ff"/><stop offset="0.8077" stop-color="#5000b8"/><stop offset="0.8846" stop-color="#5000b8"/><stop offset="0.9615" stop-color="#5000b8"/></linearGradient><linearGradient id="g120"><stop offset="0.0625" stop-color="#0050ff"/><stop offset="0.1875" stop-color="#0008ff"/><stop offset="0.3125" stop-color="#0008ff"/><stop offset="0.4375" stop-color="#0098ff"/><stop offset="0.5625" stop-color="#00ffd8"/><stop offset="0.6875" stop-color="#30ff00"/><stop offset="0.8125" stop-color="#f0ff00"/><stop offset="0.9375" stop-color="#ff8000"/></linearGradient><linearGradient id="g121"><stop offset="0.0417" stop-color="#0008ff"/><stop offset="0.1250" stop-color="#0008ff"/><stop offset="0.2083" stop-color="#0050ff"/><stop offset="0.2917" stop-color="#0008ff"/><stop offset="0.3750" stop-color="#0050ff"/><stop offset="0.4583" stop-color="#00e8ff"/><stop offset="0.5417" stop-color="#0098ff"/><stop offset="0.6250" stop-color="#0050ff"/><stop offset="0.7083" stop-color="#0050ff"/><stop offset="0.7917" stop-color="#5000b8"/><stop offset="0.8750" stop-color="#5000b8"/><stop offset="0.9583" stop-color="#5000b8"/></linearGradient><linearGradient id="g122"><stop offset="0.1250" stop-color="#5000b8"/><stop offset="0.3750" stop-color="#5000b8"/><stop offset="0.6250" stop-color="#5a0090"/><stop offset="0.8750" stop-color="#5a0090"/></linearGradient><linearGradient id="g123"><stop offset="0.0625" stop-color="#0008ff"/><stop offset="0.1875" stop-color="#0008ff"/><stop offset="0.3125" stop-color="#0008ff"/><stop offset="0.4375" stop-color="#0050ff"/><stop offset="0.5625" stop-color="#00ffd8"/><stop offset="0.6875" stop-color="#30ff00"/><stop offset="0.8125" stop-color="#f0ff00"/><stop offset="0.9375" stop-color="#ff8000"/></linearGradient><linearGradient id="g124"><stop offset="0.0556" stop-color="#5000b8"/><stop offset="0.1667" stop-color="#0008ff"/><stop offset="0.2778" stop-color="#0008ff"/><stop offset="0.3889" stop-color="#0008ff"/><stop offset="0.5000" stop-color="#0008ff"/><stop offset="0.6111" stop-color="#0008ff"/><stop offset="0.7222" stop-color="#0008ff"/><stop offset="0.8333" stop-color="#0008ff"/><stop offset="0.9444" stop-color="#0008ff"/></linearGradient><linearGradient id="g125"><stop offset="0.0417" stop-color="#0008ff"/><stop offset="0.1250" stop-color="#0008ff"/><stop offset="0.2083" stop-color="#0008ff"/><stop offset="0.2917" stop-color="#0008ff"/><stop offset="0.3750" stop-color="#0008ff"/><stop offset="0.4583" stop-color="#0098ff"/><stop offset="0.5417" stop-color="#0050ff"/><stop offset="0.6250" stop-color="#0050ff"/><stop offset="0.7083" stop-color="#0008ff"/><stop offset="0.7917" stop-color="#0008ff"/><stop offset="0.8750" stop-color="#0008ff"/><stop offset="0.9583" stop-color="#0008ff"/></linearGradient><linearGradient id="g126"><stop offset="0.0625" stop-color="#0008ff"/><stop offset="0.1875" stop-color="#0008ff"/><stop offset="0.3125" stop-color="#0008ff"/><stop offset="0.4375" stop-color="#0008ff"/><stop offset="0.5625" stop-color="#00e8ff"/><stop offset="0.6875" stop-color="#00ff50"/><stop offset="0.8125" stop-color="#a0ff00"/><stop offset="0.9375" stop-color="#ffc000"/></linearGradient><linearGradient id="g127"><stop offset="0.0556" stop-color="#0050ff"/><stop offset="0.1667" stop-color="#5000b8"/><stop offset="0.2778" stop-color="#5000b8"/><stop offset="0.3889" stop-color="#0008ff"/><stop offset="0.5000" stop-color="#5000b8"/><stop offset="0.6111" stop-color="#5000b8"/><stop offset="0.7222" stop-color="#5000b8"/><stop offset="0.8333" stop-color="#0008ff"/><stop offset="0.9444" stop-color="#0008ff"/></linearGradient><linearGradient id="g128"><stop offset="0.0417" stop-color="#0008ff"/><stop offset="0.1250" stop-color="#0008ff"/><stop offset="0.2083" stop-color="#0008ff"/><stop offset="0.2917" stop-color="#0050ff"/><stop offset="0.3750" stop-color="#0050ff"/><stop offset="0.4583" stop-color="#0098ff"/><stop offset="0.5417" stop-color="#00e8ff"/><stop offset="0.6250" stop-color="#0098ff"/><stop offset="0.7083" stop-color="#0098ff"/><stop offset="0.7917" stop-color="#0050ff"/><stop offset="0.8750" stop-color="#0050ff"/><stop offset="0.9583" stop-color="#0050ff"/></linearGradient><linearGradient id="g129"><stop offset="0.1250" stop-color="#5a0090"/><stop offset="0.3750" stop-color="#50006e"/><stop offset="0.6250" stop-color="#50006e"/><stop offset="0.8750" stop-color="#50006e"/></linearGradient><linearGradient id="g130"><stop offset="0.0625" stop-color="#0008ff"/><stop offset="0.1875" stop-color="#0008ff"/><stop offset="0.3125" stop-color="#0008ff"/><stop offset="0.4375" stop-color="#0008ff"/><stop offset="0.5625" stop-color="#0098ff"/><stop offset="0.6875" stop-color="#00ffd8"/><stop offset="0.8125" stop-color="#00ff50"/><stop offset="0.9375" stop-color="#a0ff00"/></linearGradient><linearGradient id="g131"><stop offset="0.0556" stop-color="#5000b8"/><stop offset="0.1667" stop-color="#0008ff"/><stop offset="0.2778" stop-color="#0008ff"/><stop offset="0.3889" stop-color="#5000b8"/><stop offset="0.5000" stop-color="#5000b8"/><stop offset="0.6111" stop-color="#5000b8"/><stop offset="0.7222" stop-color="#5000b8"/><stop offset="0.8333" stop-color="#5000b8"/><stop offset="0.9444" stop-color="#0008ff"/></linearGradient><linearGradient id="g132"><stop offset="0.1000" stop-color="#0008ff"/><stop offset="0.3000" stop-color="#0008ff"/><stop offset="0.5000" stop-color="#0050ff"/><stop offset="0.7000" stop-color="#0050ff"/><stop offset="0.9000" stop-color="#00e8ff"/></linearGradient><linearGradient id="g133"><stop offset="0.1000" stop-color="#00ffa0"/><stop offset="0.3000" stop-color="#00ffa0"/><stop offset="0.5000" stop-color="#00e8ff"/><stop offset="0.7000" stop-color="#0008ff"/><stop offset="0.9000" stop-color="#0008ff"/></linearGradient><linearGradient id="g134"><stop offset="0.1667" stop-color="#5a0090"/><stop offset="0.5000" stop-color="#5a0090"/><stop offset="0.8333" stop-color="#5000b8"/></linearGradient><linearGradient id="g135"><stop offset="0.0625" stop-color="#5000b8"/><stop offset="0.1875" stop-color="#5000b8"/><stop offset="0.3125" stop-color="#5000b8"/><stop offset="0.4375" stop-color="#0008ff"/><stop offset="0.5625" stop-color="#0050ff"/><stop offset="0.6875" stop-color="#0098ff"/><stop offset="0.8125" stop-color="#00ffd8"/><stop offset="0.9375" stop-color="#30ff00"/></linearGradient><linearGradient id="g136"><stop offset="0.1000" stop-color="#00e8ff"/><stop offset="0.3000" stop-color="#0098ff"/><stop offset="0.5000" stop-color="#0050ff"/><stop offset="0.7000" stop-color="#5000b8"/><stop offset="0.9000" stop-color="#5000b8"/></linearGradient><linearGradient id="g137"><stop offset="0.1000" stop-color="#5000b8"/><stop offset="0.3000" stop-color="#0050ff"/><stop offset="0.5000" stop-color="#00e8ff"/><stop offset="0.7000" stop-color="#00ffd8"/><stop offset="0.9000" stop-color="#30ff00"/></linearGradient><linearGradient id="g138"><stop offset="0.1000" stop-color="#0008ff"/><stop offset="0.3000" stop-color="#0098ff"/><stop offset="0.5000" stop-color="#00e8ff"/><stop offset="0.7000" stop-color="#0008ff"/><stop offset="0.9000" stop-color="#0008ff"/></linearGradient><linearGradient id="g139"><stop offset="0.1250" stop-color="#5000b8"/><stop offset="0.3750" stop-color="#5000b8"/><stop offset="0.6250" stop-color="#5000b8"/><stop offset="0.8750" stop-color="#5a0090"/></linearGradient></defs><g shape-rendering="crispEdges"><rect x="114" y="565.64" width="476" height="7.41" fill="url(#g0)"/><rect x="72" y="558.54" width="525" height="7.41" fill="url(#g1)"/><rect x="72" y="551.43" width="525" height="7.41" fill="url(#g2)"/><rect x="72" y="544.33" width="525" height="7.41" fill="url(#g3)"/><rect x="72" y="537.22" width="525" height="7.41" fill="url(#g4)"/><rect x="72" y="530.12" width="525" height="7.41" fill="url(#g5)"/><rect x="72" y="523.01" width="525" height="7.41" fill="url(#g6)"/><rect x="72" y="515.91" width="525" height="7.41" fill="url(#g7)"/><rect x="72" y="508.80" width="525" height="7.41" fill="url(#g8)"/><rect x="72" y="501.70" width="525" height="7.41" fill="url(#g9)"/><rect x="72" y="494.59" width="525" height="7.41" fill="url(#g10)"/><rect x="72" y="487.49" width="525" height="7.41" fill="url(#g11)"/><rect x="72" y="480.38" width="525" height="7.41" fill="url(#g12)"/><rect x="72" y="473.28" width="525" height="7.41" fill="url(#g13)"/><rect x="72" y="466.17" width="525" height="7.41" fill="url(#g14)"/><rect x="72" y="459.07" width="525" height="7.41" fill="url(#g15)"/><rect x="72" y="451.96" width="525" height="7.41" fill="url(#g16)"/><rect x="72" y="444.86" width="525" height="7.41" fill="url(#g17)"/><rect x="72" y="437.75" width="175" height="7.41" fill="url(#g18)"/><rect x="254" y="437.75" width="343" height="7.41" fill="url(#g19)"/><rect x="72" y="430.65" width="175" height="7.41" fill="url(#g20)"/><rect x="254" y="430.65" width="343" height="7.41" fill="url(#g21)"/><rect x="72" y="423.54" width="175" height="7.41" fill="url(#g22)"/><rect x="254" y="423.54" width="343" height="7.41" fill="url(#g23)"/><rect x="72" y="416.44" width="175" height="7.41" fill="url(#g24)"/><rect x="254" y="416.44" width="343" height="7.41" fill="url(#g25)"/><rect x="72" y="409.33" width="175" height="7.41" fill="url(#g26)"/><rect x="254" y="409.33" width="343" height="7.41" fill="url(#g27)"/><rect x="72" y="402.23" width="175" height="7.41" fill="url(#g28)"/><rect x="254" y="402.23" width="343" height="7.41" fill="url(#g29)"/><rect x="72" y="395.12" width="175" height="7.41" fill="url(#g30)"/><rect x="254" y="395.12" width="343" height="7.41" fill="url(#g31)"/><rect x="72" y="388.02" width="175" height="7.41" fill="url(#g32)"/><rect x="254" y="388.02" width="343" height="7.41" fill="url(#g33)"/><rect x="72" y="380.91" width="175" height="7.41" fill="url(#g34)"/><rect x="254" y="380.91" width="49" height="7.41" fill="url(#g35)"/><rect x="310" y="380.91" width="287" height="7.41" fill="url(#g36)"/><rect x="72" y="373.81" width="175" height="7.41" fill="url(#g37)"/><rect x="254" y="373.81" width="49" height="7.41" fill="url(#g38)"/><rect x="310" y="373.81" width="287" height="7.41" fill="url(#g39)"/><rect x="72" y="366.70" width="175" height="7.41" fill="url(#g40)"/><rect x="254" y="366.70" width="49" height="7.41" fill="url(#g41)"/><rect x="310" y="366.70" width="287" height="7.41" fill="url(#g42)"/><rect x="72" y="359.60" width="175" height="7.41" fill="url(#g43)"/><rect x="254" y="359.60" width="49" height="7.41" fill="url(#g44)"/><rect x="310" y="359.60" width="287" height="7.41" fill="url(#g45)"/><rect x="72" y="352.49" width="175" height="7.41" fill="url(#g46)"/><rect x="254" y="352.49" width="49" height="7.41" fill="url(#g47)"/><rect x="310" y="352.49" width="287" height="7.41" fill="url(#g48)"/><rect x="72" y="345.39" width="175" height="7.41" fill="url(#g49)"/><rect x="254" y="345.39" width="49" height="7.41" fill="#5a0090"/><rect x="310" y="345.39" width="168" height="7.41" fill="url(#g50)"/><rect x="492" y="345.39" width="28" height="7.41" fill="url(#g51)"/><rect x="527" y="345.39" width="70" height="7.41" fill="url(#g52)"/><rect x="72" y="338.28" width="175" height="7.41" fill="url(#g53)"/><rect x="254" y="338.28" width="49" height="7.41" fill="url(#g54)"/><rect x="310" y="338.28" width="154" height="7.41" fill="url(#g55)"/><rect x="492" y="338.28" width="28" height="7.41" fill="url(#g56)"/><rect x="527" y="338.28" width="70" height="7.41" fill="url(#g57)"/><rect x="72" y="331.18" width="175" height="7.41" fill="url(#g58)"/><rect x="254" y="331.18" width="49" height="7.41" fill="url(#g59)"/><rect x="310" y="331.18" width="140" height="7.41" fill="url(#g60)"/><rect x="492" y="331.18" width="28" height="7.41" fill="url(#g61)"/><rect x="527" y="331.18" width="70" height="7.41" fill="url(#g62)"/><rect x="72" y="324.07" width="175" height="7.41" fill="url(#g63)"/><rect x="254" y="324.07" width="49" height="7.41" fill="#5a0090"/><rect x="310" y="324.07" width="126" height="7.41" fill="url(#g64)"/><rect x="492" y="324.07" width="28" height="7.41" fill="url(#g65)"/><rect x="527" y="324.07" width="70" height="7.41" fill="url(#g66)"/><rect x="72" y="316.97" width="112" height="7.41" fill="url(#g67)"/><rect x="212" y="316.97" width="35" height="7.41" fill="url(#g68)"/><rect x="254" y="316.97" width="49" height="7.41" fill="#5a0090"/><rect x="310" y="316.97" width="98" height="7.41" fill="url(#g69)"/><rect x="492" y="316.97" width="28" height="7.41" fill="url(#g70)"/><rect x="527" y="316.97" width="70" height="7.41" fill="url(#g71)"/><rect x="72" y="309.86" width="112" height="7.41" fill="url(#g72)"/><rect x="233" y="309.86" width="14" height="7.41" fill="#5a0090"/><rect x="254" y="309.86" width="35" height="7.41" fill="#5a0090"/><rect x="310" y="309.86" width="28" height="7.41" fill="url(#g73)"/><rect x="352" y="309.86" width="56" height="7.41" fill="url(#g74)"/><rect x="492" y="309.86" width="28" height="7.41" fill="url(#g75)"/><rect x="527" y="309.86" width="70" height="7.41" fill="url(#g76)"/><rect x="79" y="302.76" width="105" height="7.41" fill="url(#g77)"/><rect x="233" y="302.76" width="14" height="7.41" fill="#5a0090"/><rect x="254" y="302.76" width="35" height="7.41" fill="#5a0090"/><rect x="310" y="302.76" width="28" height="7.41" fill="url(#g78)"/><rect x="352" y="302.76" width="56" height="7.41" fill="url(#g79)"/><rect x="492" y="302.76" width="28" height="7.41" fill="url(#g80)"/><rect x="527" y="302.76" width="70" height="7.41" fill="url(#g81)"/><rect x="86" y="295.65" width="98" height="7.41" fill="url(#g82)"/><rect x="233" y="295.65" width="14" height="7.41" fill="url(#g83)"/><rect x="254" y="295.65" width="35" height="7.41" fill="#5a0090"/><rect x="310" y="295.65" width="21" height="7.41" fill="url(#g84)"/><rect x="352" y="295.65" width="56" height="7.41" fill="url(#g85)"/><rect x="492" y="295.65" width="28" height="7.41" fill="url(#g86)"/><rect x="527" y="295.65" width="70" height="7.41" fill="url(#g87)"/><rect x="86" y="288.55" width="98" height="7.41" fill="url(#g88)"/><rect x="226" y="288.55" width="21" height="7.41" fill="url(#g89)"/><rect x="261" y="288.55" width="35" height="7.41" fill="url(#g90)"/><rect x="310" y="288.55" width="21" height="7.41" fill="url(#g91)"/><rect x="352" y="288.55" width="56" height="7.41" fill="url(#g92)"/><rect x="499" y="288.55" width="21" height="7.41" fill="#00ffd8"/><rect x="527" y="288.55" width="70" height="7.41" fill="url(#g93)"/><rect x="86" y="281.44" width="98" height="7.41" fill="url(#g94)"/><rect x="226" y="281.44" width="21" height="7.41" fill="#0008ff"/><rect x="261" y="281.44" width="35" height="7.41" fill="url(#g95)"/><rect x="310" y="281.44" width="21" height="7.41" fill="#0008ff"/><rect x="352" y="281.44" width="56" height="7.41" fill="url(#g96)"/><rect x="499" y="281.44" width="21" height="7.41" fill="#00e8ff"/><rect x="527" y="281.44" width="70" height="7.41" fill="url(#g97)"/><rect x="86" y="274.34" width="98" height="7.41" fill="url(#g98)"/><rect x="226" y="274.34" width="21" height="7.41" fill="#0050ff"/><rect x="261" y="274.34" width="35" height="7.41" fill="url(#g99)"/><rect x="310" y="274.34" width="21" height="7.41" fill="#0008ff"/><rect x="352" y="274.34" width="56" height="7.41" fill="url(#g100)"/><rect x="499" y="274.34" width="21" height="7.41" fill="#0098ff"/><rect x="527" y="274.34" width="70" height="7.41" fill="url(#g101)"/><rect x="93" y="267.23" width="91" height="7.41" fill="url(#g102)"/><rect x="226" y="267.23" width="21" height="7.41" fill="#0050ff"/><rect x="261" y="267.23" width="35" height="7.41" fill="url(#g103)"/><rect x="310" y="267.23" width="21" height="7.41" fill="#5000b8"/><rect x="352" y="267.23" width="56" height="7.41" fill="url(#g104)"/><rect x="499" y="267.23" width="21" height="7.41" fill="url(#g105)"/><rect x="527" y="267.23" width="70" height="7.41" fill="url(#g106)"/><rect x="93" y="260.13" width="91" height="7.41" fill="url(#g107)"/><rect x="226" y="260.13" width="21" height="7.41" fill="#00e8ff"/><rect x="261" y="260.13" width="28" height="7.41" fill="#5a0090"/><rect x="310" y="260.13" width="21" height="7.41" fill="#5000b8"/><rect x="352" y="260.13" width="56" height="7.41" fill="url(#g108)"/><rect x="499" y="260.13" width="21" height="7.41" fill="#0008ff"/><rect x="527" y="260.13" width="70" height="7.41" fill="url(#g109)"/><rect x="93" y="253.02" width="91" height="7.41" fill="url(#g110)"/><rect x="226" y="253.02" width="21" height="7.41" fill="#00e8ff"/><rect x="261" y="253.02" width="28" height="7.41" fill="#5a0090"/><rect x="310" y="253.02" width="21" height="7.41" fill="#0008ff"/><rect x="352" y="253.02" width="56" height="7.41" fill="url(#g111)"/><rect x="499" y="253.02" width="21" height="7.41" fill="url(#g112)"/><rect x="527" y="253.02" width="63" height="7.41" fill="url(#g113)"/><rect x="93" y="245.92" width="91" height="7.41" fill="url(#g114)"/><rect x="226" y="245.92" width="21" height="7.41" fill="#0098ff"/><rect x="261" y="245.92" width="28" height="7.41" fill="url(#g115)"/><rect x="310" y="245.92" width="21" height="7.41" fill="#0098ff"/><rect x="352" y="245.92" width="56" height="7.41" fill="url(#g116)"/><rect x="499" y="245.92" width="21" height="7.41" fill="url(#g117)"/><rect x="527" y="245.92" width="63" height="7.41" fill="url(#g118)"/><rect x="93" y="238.81" width="91" height="7.41" fill="url(#g119)"/><rect x="226" y="238.81" width="21" height="7.41" fill="#0008ff"/><rect x="261" y="238.81" width="28" height="7.41" fill="#0008ff"/><rect x="310" y="238.81" width="21" height="7.41" fill="#0008ff"/><rect x="352" y="238.81" width="56" height="7.41" fill="url(#g120)"/><rect x="527" y="238.81" width="63" height="7.41" fill="#0050ff"/><rect x="100" y="231.71" width="84" height="7.41" fill="url(#g121)"/><rect x="226" y="231.71" width="21" height="7.41" fill="#5000b8"/><rect x="261" y="231.71" width="28" height="7.41" fill="url(#g122)"/><rect x="310" y="231.71" width="21" height="7.41" fill="#5000b8"/><rect x="352" y="231.71" width="56" height="7.41" fill="url(#g123)"/><rect x="527" y="231.71" width="63" height="7.41" fill="url(#g124)"/><rect x="100" y="224.60" width="84" height="7.41" fill="url(#g125)"/><rect x="226" y="224.60" width="21" height="7.41" fill="#5000b8"/><rect x="261" y="224.60" width="28" height="7.41" fill="#5a0090"/><rect x="310" y="224.60" width="21" height="7.41" fill="#5000b8"/><rect x="352" y="224.60" width="56" height="7.41" fill="url(#g126)"/><rect x="527" y="224.60" width="63" height="7.41" fill="url(#g127)"/><rect x="100" y="217.50" width="84" height="7.41" fill="url(#g128)"/><rect x="226" y="217.50" width="21" height="7.41" fill="#5a0090"/><rect x="261" y="217.50" width="28" height="7.41" fill="url(#g129)"/><rect x="310" y="217.50" width="21" height="7.41" fill="#5000b8"/><rect x="352" y="217.50" width="56" height="7.41" fill="url(#g130)"/><rect x="527" y="217.50" width="63" height="7.41" fill="url(#g131)"/><rect x="107" y="210.39" width="35" height="7.41" fill="url(#g132)"/><rect x="149" y="210.39" width="35" height="7.41" fill="url(#g133)"/><rect x="226" y="210.39" width="21" height="7.41" fill="#5000b8"/><rect x="261" y="210.39" width="28" height="7.41" fill="#5a0090"/><rect x="310" y="210.39" width="21" height="7.41" fill="url(#g134)"/><rect x="352" y="210.39" width="56" height="7.41" fill="url(#g135)"/><rect x="149" y="203.29" width="35" height="7.41" fill="url(#g136)"/><rect x="226" y="203.29" width="21" height="7.41" fill="#5000b8"/><rect x="261" y="203.29" width="28" height="7.41" fill="#5a0090"/><rect x="310" y="203.29" width="21" height="7.41" fill="#5a0090"/><rect x="373" y="203.29" width="35" height="7.41" fill="url(#g137)"/><rect x="149" y="196.18" width="35" height="7.41" fill="url(#g138)"/><rect x="261" y="196.18" width="28" height="7.41" fill="url(#g139)"/><rect x="310" y="196.18" width="21" height="7.41" fill="#5a0090"/><rect x="103.1" y="480.38" width="4.40" height="7.41" fill="#646464"/><rect x="98.7" y="487.49" width="4.40" height="7.41" fill="#646464"/><rect x="94.3" y="494.59" width="4.40" height="7.41" fill="#646464"/><rect x="89.9" y="501.70" width="4.40" height="7.41" fill="#646464"/><rect x="85.4" y="508.80" width="4.50" height="7.41" fill="#646464"/><rect x="81" y="515.91" width="4.40" height="7.41" fill="#646464"/><rect x="76.6" y="523.01" width="4.40" height="7.41" fill="#646464"/><rect x="72.5" y="530.12" width="4.10" height="7.41" fill="#646464"/><rect x="71.5" y="537.22" width="2.50" height="7.41" fill="#404040"/><rect x="72.5" y="558.54" width="8.50" height="7.41" fill="#7b7b7b"/><rect x="107.5" y="480.38" width="4.50" height="7.41" fill="#050005"/><rect x="103.1" y="487.49" width="4.90" height="7.41" fill="#050005"/><rect x="98.7" y="494.59" width="4.30" height="7.41" fill="#050005"/><rect x="94.3" y="501.70" width="4.70" height="7.41" fill="#050005"/><rect x="89.9" y="508.80" width="4.10" height="7.41" fill="#050005"/><rect x="85.4" y="515.91" width="4.60" height="7.41" fill="#050005"/><rect x="81" y="523.01" width="5.00" height="7.41" fill="#050005"/><rect x="76.6" y="530.12" width="4.40" height="7.41" fill="#050005"/><rect x="202.5" y="558.54" width="10.50" height="7.41" fill="#646464"/><rect x="216.6" y="551.43" width="10.40" height="7.41" fill="#646464"/><rect x="184.8" y="473.28" width="9.70" height="7.41" fill="#7b7b7b"/><rect x="184.8" y="480.38" width="9.70" height="7.41" fill="#646464"/><rect x="254" y="196" width="2.1999999999999886" height="214" fill="#fff"/><rect x="300.8" y="296" width="2.3999999999999773" height="92" fill="#fff"/><rect x="181.5" y="196" width="2.6999999999999886" height="100" fill="#fff"/><rect x="226" y="196" width="3.3000000000000114" height="100" fill="#fff"/><rect x="310" y="196" width="3.6999999999999886" height="100" fill="#fff"/><rect x="107" y="210.5" width="2.700000000000003" height="7.300000000000011" fill="#fff"/><rect x="100" y="217.6" width="2" height="7.300000000000011" fill="#fff"/><rect x="93" y="238.9" width="2" height="35.70000000000002" fill="#fff"/><rect x="86" y="274.4" width="3.700000000000003" height="21.600000000000023" fill="#fff"/><rect x="352" y="210" width="3.8000000000000114" height="106" fill="#fff"/><rect x="489" y="296" width="6" height="78" fill="#fff"/><rect x="477.5" y="345" width="11.5" height="7.300000000000011" fill="#fff"/><rect x="527" y="217" width="3.2999999999999545" height="132" fill="#fff"/><rect x="149" y="196" width="2.5" height="14.599999999999994" fill="#fff"/><rect x="143.8" y="217.6" width="6.799999999999983" height="7.300000000000011" fill="#fff"/><rect x="180" y="196" width="4.199999999999989" height="100" fill="#fff"/><polygon points="599.2,380 596.5,440 593.5,490 590.5,540 588.5,573.5 612,573.5 612,380" fill="#fff"/><polygon points="591.5,217 594,260 596.5,300 599,340 601.5,349 612,349 612,217" fill="#fff"/></g><g fill="none" stroke="#fff" stroke-linejoin="round"><polyline points="102.8,218.7 100.6,274.7" stroke-width="1.5" stroke-dasharray="1.3 0.9"/><polyline points="97.4,275.8 96.3,302.8" stroke-width="1.5" stroke-dasharray="1.3 0.9"/><polyline points="76.0,308.0 74.5,335.0 73.7,470.0 72.5,509.0 73.2,536.0 72.8,564.0" stroke-width="1.5" stroke-dasharray="1.3 0.9"/><polyline points="128.5,229.5 126.5,300.6" stroke-width="1.5" stroke-dasharray="1.3 0.9"/><polyline points="137.3,211.0 140.5,335.0 145.5,470.0 147.2,558.8" stroke-width="1.5" stroke-dasharray="1.3 0.9"/><polyline points="158.8,199.3 158.8,220.9" stroke-width="1.5" stroke-dasharray="1.3 0.9"/><polyline points="156.7,302.8 156.7,335.0 154.5,470.0 153.4,553.5" stroke-width="1.5" stroke-dasharray="1.3 0.9"/><polyline points="75.9,470.0 78.7,359.0 82.3,470.0 82.6,509.0" stroke-width="1.5" stroke-dasharray="1.3 0.9"/><polyline points="74.6,465.0 74.6,491.5" stroke-width="1.5" stroke-dasharray="1.3 0.9"/><polyline points="87.7,401.0 89.9,358.0 93.1,470.0 94.1,500.4" stroke-width="1.5" stroke-dasharray="1.3 0.9"/><polyline points="86.6,418.0 86.6,481.0" stroke-width="1.5" stroke-dasharray="1.3 0.9"/><polyline points="101.0,373.0 102.4,353.7 107.1,470.0 106.5,482.7" stroke-width="1.5" stroke-dasharray="1.3 0.9"/><polyline points="113.1,362.0 114.2,346.8 117.4,433.4" stroke-width="1.5" stroke-dasharray="1.3 0.9"/><polyline points="111.4,416.0 111.0,435.6" stroke-width="1.5" stroke-dasharray="1.3 0.9"/><polyline points="123.3,416.0 122.6,455.0" stroke-width="1.5" stroke-dasharray="1.3 0.9"/><polyline points="110.3,457.0 110.4,479.0" stroke-width="1.5" stroke-dasharray="1.3 0.9"/><polyline points="119.8,520.8 120.6,567.7" stroke-width="1.5" stroke-dasharray="1.3 0.9"/><polyline points="120.6,520.8 121.4,567.7" stroke-width="1.5" stroke-dasharray="1.3 0.9"/><polyline points="144.5,313.0 146.0,360.0 148.0,412.0 149.0,470.0 150.7,500.4" stroke-width="1.5" stroke-dasharray="1.3 0.9"/><polyline points="146.5,412.0 147.5,470.0" stroke-width="1.5" stroke-dasharray="1.3 0.9"/><polyline points="171.9,196.0 175.5,335.0 178.3,470.0 180.4,518.0" stroke-width="1.5" stroke-dasharray="1.3 0.9"/><polyline points="236.5,203.6 235.4,257.5" stroke-width="1.5" stroke-dasharray="1.3 0.9"/><polyline points="184.8,324.3 186.9,401.0" stroke-width="1.5" stroke-dasharray="1.3 0.9"/><polyline points="193.4,324.3 191.3,470.0 191.0,504.0" stroke-width="1.5" stroke-dasharray="1.3 0.9"/><polyline points="207.4,324.3 204.2,470.0 201.6,567.7" stroke-width="1.5" stroke-dasharray="1.3 0.9"/><polyline points="221.4,320.0 217.1,470.0 216.3,509.0" stroke-width="1.5" stroke-dasharray="1.3 0.9"/><polyline points="234.4,326.5 233.3,347.0" stroke-width="1.5" stroke-dasharray="1.3 0.9"/><polyline points="182.6,330.0 181.6,470.0 181.2,509.0" stroke-width="1.5" stroke-dasharray="1.3 0.9"/><polyline points="194.5,330.0 195.6,386.0" stroke-width="1.5" stroke-dasharray="1.3 0.9"/><polyline points="209.1,330.0 211.3,414.0" stroke-width="1.5" stroke-dasharray="1.3 0.9"/><polyline points="222.9,330.0 225.7,446.0" stroke-width="1.5" stroke-dasharray="1.3 0.9"/><polyline points="232.2,357.0 231.1,424.8" stroke-width="1.5" stroke-dasharray="1.3 0.9"/><polyline points="186.9,450.7 186.9,470.0" stroke-width="1.5" stroke-dasharray="1.3 0.9"/><polyline points="198.4,455.0 199.8,527.0" stroke-width="1.5" stroke-dasharray="1.3 0.9"/><polyline points="212.8,459.3 214.0,567.7" stroke-width="1.5" stroke-dasharray="1.3 0.9"/><polyline points="251.6,446.4 252.2,470.0 253.8,500.4" stroke-width="1.5" stroke-dasharray="1.3 0.9"/><polyline points="229.9,481.8 228.1,567.7" stroke-width="1.5" stroke-dasharray="1.3 0.9"/><polyline points="179.5,542.0 179.5,568.5" stroke-width="1.5" stroke-dasharray="1.3 0.9"/><polyline points="257.3,465.0 256.5,527.0" stroke-width="1.5" stroke-dasharray="1.3 0.9"/><polyline points="255.6,535.8 253.8,553.5" stroke-width="1.5" stroke-dasharray="1.3 0.9"/><polyline points="267.9,196.0 263.6,335.0 259.3,470.0 256.8,527.0" stroke-width="1.5" stroke-dasharray="1.3 0.9"/><polyline points="281.9,196.0 281.9,210.0" stroke-width="1.5" stroke-dasharray="1.3 0.9"/><polyline points="293.8,317.8 293.8,335.0 297.0,470.0 299.2,567.7" stroke-width="1.5" stroke-dasharray="1.3 0.9"/><polyline points="317.5,296.3 317.5,305.0" stroke-width="1.5" stroke-dasharray="1.3 0.9"/><polyline points="329.4,302.8 329.4,316.8" stroke-width="1.5" stroke-dasharray="1.3 0.9"/><polyline points="336.5,317.8 336.9,335.0 338.0,470.0 341.7,567.7" stroke-width="1.5" stroke-dasharray="1.3 0.9"/><polyline points="347.7,317.8 348.8,335.0 350.9,470.0 353.2,567.7" stroke-width="1.5" stroke-dasharray="1.3 0.9"/><polyline points="302.4,388.0 301.3,431.0" stroke-width="1.5" stroke-dasharray="1.3 0.9"/><polyline points="345.5,336.5 344.4,470.0 343.5,500.4" stroke-width="1.5" stroke-dasharray="1.3 0.9"/><polyline points="313.4,473.8 310.8,520.0" stroke-width="1.5" stroke-dasharray="1.3 0.9"/><polyline points="363.4,212.2 360.3,335.0 356.5,470.0 355.3,523.4" stroke-width="1.5" stroke-dasharray="1.3 0.9"/><polyline points="377.6,203.6 375.9,335.0 374.8,394.7" stroke-width="1.5" stroke-dasharray="1.3 0.9"/><polyline points="399.6,205.8 401.7,335.0 403.9,422.7" stroke-width="1.5" stroke-dasharray="1.3 0.9"/><polyline points="415.7,324.3 415.7,335.0 419.0,470.0 421.7,567.7" stroke-width="1.5" stroke-dasharray="1.3 0.9"/><polyline points="428.7,324.3 429.7,416.0" stroke-width="1.5" stroke-dasharray="1.3 0.9"/><polyline points="440.5,330.8 438.4,431.0" stroke-width="1.5" stroke-dasharray="1.3 0.9"/><polyline points="412.5,355.9 410.3,470.0 408.4,551.7" stroke-width="1.5" stroke-dasharray="1.3 0.9"/><polyline points="430.8,330.0 433.0,437.8" stroke-width="1.5" stroke-dasharray="1.3 0.9"/><polyline points="443.8,396.8 444.8,420.5" stroke-width="1.5" stroke-dasharray="1.3 0.9"/><polyline points="436.2,459.3 435.0,567.7" stroke-width="1.5" stroke-dasharray="1.3 0.9"/><polyline points="373.9,475.6 374.8,504.0" stroke-width="1.5" stroke-dasharray="1.3 0.9"/><polyline points="449.1,465.0 449.1,521.6" stroke-width="1.5" stroke-dasharray="1.3 0.9"/><polyline points="514.9,276.9 516.1,335.0 518.3,470.0 518.5,553.5" stroke-width="1.5" stroke-dasharray="1.3 0.9"/><polyline points="504.3,248.9 502.1,335.0 501.0,383.9" stroke-width="1.5" stroke-dasharray="1.3 0.9"/><polyline points="537.2,219.8 533.4,335.0 532.9,352.0" stroke-width="1.5" stroke-dasharray="1.3 0.9"/><polyline points="454.7,338.6 450.4,470.0 448.9,521.6" stroke-width="1.5" stroke-dasharray="1.3 0.9"/><polyline points="456.9,338.6 459.0,431.3" stroke-width="1.5" stroke-dasharray="1.3 0.9"/><polyline points="467.6,346.0 466.6,373.0" stroke-width="1.5" stroke-dasharray="1.3 0.9"/><polyline points="469.8,347.2 473.0,470.0 476.0,567.7" stroke-width="1.5" stroke-dasharray="1.3 0.9"/><polyline points="480.6,353.7 479.5,401.0" stroke-width="1.5" stroke-dasharray="1.3 0.9"/><polyline points="483.8,353.7 484.9,396.8" stroke-width="1.5" stroke-dasharray="1.3 0.9"/><polyline points="465.5,435.6 464.4,470.0 461.8,567.7" stroke-width="1.5" stroke-dasharray="1.3 0.9"/><polyline points="479.5,414.0 478.4,470.0 477.7,500.4" stroke-width="1.5" stroke-dasharray="1.3 0.9"/><polyline points="484.9,416.2 486.0,470.0 487.1,504.0" stroke-width="1.5" stroke-dasharray="1.3 0.9"/><polyline points="491.3,420.5 490.3,470.0 490.1,502.0" stroke-width="1.5" stroke-dasharray="1.3 0.9"/><polyline points="533.4,330.0 533.4,470.0 532.6,486.0" stroke-width="1.5" stroke-dasharray="1.3 0.9"/><polyline points="525.8,414.0 526.9,470.0 531.7,571.2" stroke-width="1.5" stroke-dasharray="1.3 0.9"/><polyline points="536.0,385.0 531.5,544.0" stroke-width="1.5" stroke-dasharray="1.3 0.9"/><polyline points="543.2,350.6 543.2,390.0 548.0,499.0" stroke-width="1.5" stroke-dasharray="1.3 0.9"/><polyline points="553.4,390.0 555.5,353.0 556.3,390.0" stroke-width="1.5" stroke-dasharray="1.3 0.9"/><polyline points="554.0,385.0 551.0,553.0" stroke-width="1.5" stroke-dasharray="1.3 0.9"/><polyline points="558.5,424.0 558.5,439.0" stroke-width="1.5" stroke-dasharray="1.3 0.9"/><polyline points="566.7,390.0 568.0,353.5 569.5,390.0" stroke-width="1.5" stroke-dasharray="1.3 0.9"/><polyline points="566.0,385.0 563.0,565.0" stroke-width="1.5" stroke-dasharray="1.3 0.9"/><polyline points="570.5,385.0 572.0,400.0" stroke-width="1.5" stroke-dasharray="1.3 0.9"/><polyline points="580.5,390.0 582.0,352.0 583.4,390.0" stroke-width="1.5" stroke-dasharray="1.3 0.9"/><polyline points="582.5,385.0 578.0,568.0" stroke-width="1.5" stroke-dasharray="1.3 0.9"/><polyline points="584.0,409.0 587.0,487.0" stroke-width="1.5" stroke-dasharray="1.3 0.9"/><polyline points="591.4,219.0 595.8,308.2 598.7,349.0" stroke-width="1.5" stroke-dasharray="1.3 0.9"/><polyline points="594.3,349.0 592.9,390.0 594.5,420.0 591.5,553.0" stroke-width="1.5" stroke-dasharray="1.3 0.9"/><polyline points="136.2,210.1 103.9,217.6" stroke-width="1.6"/><polyline points="100.6,274.7 97.4,275.8" stroke-width="1.6"/><polyline points="96.3,302.8 81.2,307.0" stroke-width="1.6"/><polyline points="128.7,228.4 136.2,226.3" stroke-width="1.6"/><polyline points="139.4,227.3 144.5,313.0" stroke-width="1.6"/><polyline points="150.2,212.0 150.2,260.0" stroke-width="1.6"/><polyline points="284.7,264.0 288.4,317.8 293.8,317.8" stroke-width="1.6"/><polyline points="329.4,316.8 335.8,317.8" stroke-width="1.6"/><polyline points="310.6,388.0 310.6,472.0" stroke-width="1.6"/><polyline points="365.5,211.0 370.5,335.0 370.5,470.0 371.2,555.3" stroke-width="1.6"/><polyline points="504.3,248.9 512.9,248.9 514.9,276.9" stroke-width="1.6"/><polyline points="523.7,330.0 524.3,358.0" stroke-width="1.6"/><polyline points="525.8,357.0 531.2,357.0" stroke-width="1.6"/><polyline points="537.7,348.3 543.0,350.5" stroke-width="1.6"/><polyline points="522.6,413.0 525.8,413.0" stroke-width="1.6"/><polyline points="522.6,413.0 521.5,470.0" stroke-width="1.6"/><polyline points="496.5,371.0 497.2,470.0 498.1,527.0" stroke-width="1.6"/><polyline points="497.2,535.8 498.1,571.2" stroke-width="1.6"/><polyline points="535.8,349.0 543.2,350.6" stroke-width="1.6"/><polyline points="594.3,349.0 601.6,349.0" stroke-width="1.6"/></g><g fill="none" stroke="#000" stroke-width="2.2"><line x1="152.1" y1="555.8" x2="152.1" y2="576"/><polyline points="147.79999999999998,569.8 152.1,575.8 156.4,569.8"/><line x1="253.8" y1="555.8" x2="253.8" y2="576"/><polyline points="249.5,569.8 253.8,575.8 258.1,569.8"/><line x1="373.0" y1="555.8" x2="373.0" y2="576"/><polyline points="368.7,569.8 373.0,575.8 377.3,569.8"/><line x1="518.5" y1="555.8" x2="518.5" y2="576"/><polyline points="514.2,569.8 518.5,575.8 522.8,569.8"/></g><path d="M59,59 H619.5 V576.5 M59,59 V576.5" fill="none" stroke="#000" stroke-opacity="0.62" stroke-width="1"/><defs><linearGradient id="cb" x1="0" x2="1" y1="0" y2="0"><stop offset="0.0000" stop-color="#8c8c8c"/><stop offset="0.0128" stop-color="#8c8c8c"/><stop offset="0.0135" stop-color="#7b7b7b"/><stop offset="0.0272" stop-color="#7b7b7b"/><stop offset="0.0336" stop-color="#606060"/><stop offset="0.0400" stop-color="#404040"/><stop offset="0.0421" stop-color="#000000"/><stop offset="0.0956" stop-color="#3a0040"/><stop offset="0.1276" stop-color="#4a0058"/><stop offset="0.1287" stop-color="#580078"/><stop offset="0.1597" stop-color="#54009c"/><stop offset="0.1918" stop-color="#4600c0"/><stop offset="0.2132" stop-color="#2a00e2"/><stop offset="0.2281" stop-color="#0000ff"/><stop offset="0.2431" stop-color="#0000ff"/><stop offset="0.2442" stop-color="#0018ff"/><stop offset="0.2987" stop-color="#0060ff"/><stop offset="0.3586" stop-color="#00c0ff"/><stop offset="0.3607" stop-color="#00d0ff"/><stop offset="0.3842" stop-color="#00ffff"/><stop offset="0.4270" stop-color="#00ffd0"/><stop offset="0.4740" stop-color="#00ff98"/><stop offset="0.4762" stop-color="#00ff60"/><stop offset="0.5382" stop-color="#00ff00"/><stop offset="0.5895" stop-color="#40ff00"/><stop offset="0.5916" stop-color="#70ff00"/><stop offset="0.6515" stop-color="#c0ff00"/><stop offset="0.7007" stop-color="#ffff00"/><stop offset="0.7071" stop-color="#ffd000"/><stop offset="0.7477" stop-color="#ffa000"/><stop offset="0.7798" stop-color="#ff7000"/><stop offset="0.8204" stop-color="#ff3800"/><stop offset="0.8225" stop-color="#ff2000"/><stop offset="0.8268" stop-color="#ff0000"/><stop offset="0.8482" stop-color="#ff0000"/><stop offset="0.8486" stop-color="#ff4848"/><stop offset="0.8760" stop-color="#ff4848"/><stop offset="0.8764" stop-color="#ff8080"/><stop offset="0.9059" stop-color="#ff8080"/><stop offset="0.9064" stop-color="#ffa0a8"/><stop offset="0.9359" stop-color="#ffa0a8"/><stop offset="0.9363" stop-color="#ffd0d0"/><stop offset="0.9615" stop-color="#ffd0d0"/><stop offset="0.9619" stop-color="#ffe0e0"/><stop offset="0.9808" stop-color="#ffe0e0"/><stop offset="0.9812" stop-color="#fff0f0"/><stop offset="1.0000" stop-color="#fff0f0"/></linearGradient></defs><rect x="105.3" y="78.8" width="467.7" height="39.6" fill="url(#cb)" stroke="#000" stroke-opacity="0.55" stroke-width="1"/><line x1="111.5" y1="78.8" x2="111.5" y2="125.5" stroke="#000" stroke-opacity="0.8" stroke-width="1"/><text x="111.5" y="145" font-size="17" text-anchor="middle">-1.5</text><line x1="165.5" y1="78.8" x2="165.5" y2="125.5" stroke="#000" stroke-opacity="0.8" stroke-width="1"/><text x="165.5" y="145" font-size="17" text-anchor="middle">-1.0</text><line x1="219.5" y1="78.8" x2="219.5" y2="125.5" stroke="#000" stroke-opacity="0.8" stroke-width="1"/><text x="219.5" y="145" font-size="17" text-anchor="middle">-0.5</text><line x1="273.5" y1="78.8" x2="273.5" y2="125.5" stroke="#000" stroke-opacity="0.8" stroke-width="1"/><text x="273.5" y="145" font-size="17" text-anchor="middle">0.0</text><line x1="327.5" y1="78.8" x2="327.5" y2="125.5" stroke="#000" stroke-opacity="0.8" stroke-width="1"/><text x="327.5" y="145" font-size="17" text-anchor="middle">0.5</text><line x1="381.5" y1="78.8" x2="381.5" y2="125.5" stroke="#000" stroke-opacity="0.8" stroke-width="1"/><text x="381.5" y="145" font-size="17" text-anchor="middle">1.0</text><line x1="435.5" y1="78.8" x2="435.5" y2="125.5" stroke="#000" stroke-opacity="0.8" stroke-width="1"/><text x="435.5" y="145" font-size="17" text-anchor="middle">1.5</text><line x1="489.5" y1="78.8" x2="489.5" y2="125.5" stroke="#000" stroke-opacity="0.8" stroke-width="1"/><text x="489.5" y="145" font-size="17" text-anchor="middle">2.0</text><line x1="543.5" y1="78.8" x2="543.5" y2="125.5" stroke="#000" stroke-opacity="0.8" stroke-width="1"/><text x="543.5" y="145" font-size="17" text-anchor="middle">2.5</text><line x1="94.30" y1="576.5" x2="94.30" y2="583.8" stroke="#000" stroke-opacity="0.75" stroke-width="1"/><text transform="translate(94.30,602) scale(1.03,1)" font-size="17" text-anchor="middle">-60</text><line x1="164.40" y1="576.5" x2="164.40" y2="583.8" stroke="#000" stroke-opacity="0.75" stroke-width="1"/><text transform="translate(164.40,602) scale(1.03,1)" font-size="17" text-anchor="middle">-40</text><line x1="234.50" y1="576.5" x2="234.50" y2="583.8" stroke="#000" stroke-opacity="0.75" stroke-width="1"/><text transform="translate(234.50,602) scale(1.03,1)" font-size="17" text-anchor="middle">-20</text><line x1="304.60" y1="576.5" x2="304.60" y2="583.8" stroke="#000" stroke-opacity="0.75" stroke-width="1"/><text transform="translate(304.60,602) scale(1.03,1)" font-size="17" text-anchor="middle">0</text><line x1="374.70" y1="576.5" x2="374.70" y2="583.8" stroke="#000" stroke-opacity="0.75" stroke-width="1"/><text transform="translate(374.70,602) scale(1.03,1)" font-size="17" text-anchor="middle">20</text><line x1="444.80" y1="576.5" x2="444.80" y2="583.8" stroke="#000" stroke-opacity="0.75" stroke-width="1"/><text transform="translate(444.80,602) scale(1.03,1)" font-size="17" text-anchor="middle">40</text><line x1="514.90" y1="576.5" x2="514.90" y2="583.8" stroke="#000" stroke-opacity="0.75" stroke-width="1"/><text transform="translate(514.90,602) scale(1.03,1)" font-size="17" text-anchor="middle">60</text><line x1="585.00" y1="576.5" x2="585.00" y2="583.8" stroke="#000" stroke-opacity="0.75" stroke-width="1"/><text transform="translate(585.00,602) scale(1.03,1)" font-size="17" text-anchor="middle">80</text><line x1="51.3" y1="576.30" x2="59" y2="576.30" stroke="#000" stroke-opacity="0.75" stroke-width="1"/><text transform="translate(41.6,576.30) rotate(-90) scale(1.05,1)" font-size="17" text-anchor="middle">0</text><line x1="51.3" y1="434.20" x2="59" y2="434.20" stroke="#000" stroke-opacity="0.75" stroke-width="1"/><text transform="translate(41.6,434.20) rotate(-90) scale(1.05,1)" font-size="17" text-anchor="middle">5000</text><line x1="51.3" y1="292.10" x2="59" y2="292.10" stroke="#000" stroke-opacity="0.75" stroke-width="1"/><text transform="translate(41.6,292.10) rotate(-90) scale(1.05,1)" font-size="17" text-anchor="middle">10000</text><line x1="51.3" y1="150.00" x2="59" y2="150.00" stroke="#000" stroke-opacity="0.75" stroke-width="1"/><text transform="translate(41.6,150.00) rotate(-90) scale(1.05,1)" font-size="17" text-anchor="middle">15000</text><line x1="59" y1="149.9" x2="59" y2="576.5" stroke="#000" stroke-opacity="0.6" stroke-width="1"/><line x1="51.3" y1="576.5" x2="620" y2="576.5" stroke="#000" stroke-width="1"/><text x="340" y="35.8" font-size="18.2" font-weight="bold" text-anchor="middle" class="t">HIPPO3 Southbound BC_ng_kg (Log)</text><text x="59" y="52" font-size="10.7" class="t">20100326. 20100329. 20100331. 20100402. 20100405</text><text transform="translate(619,52) scale(0.955,1)" font-size="10.7" text-anchor="end" class="t">RF02. RF03. RF04. RF05. RF06</text><text x="338.7" y="630.9" font-size="18" text-anchor="middle">Latitude</text><text transform="translate(13.5,318) rotate(-90)" font-size="18" text-anchor="middle">Altitude (m)</text></svg></body></html>
